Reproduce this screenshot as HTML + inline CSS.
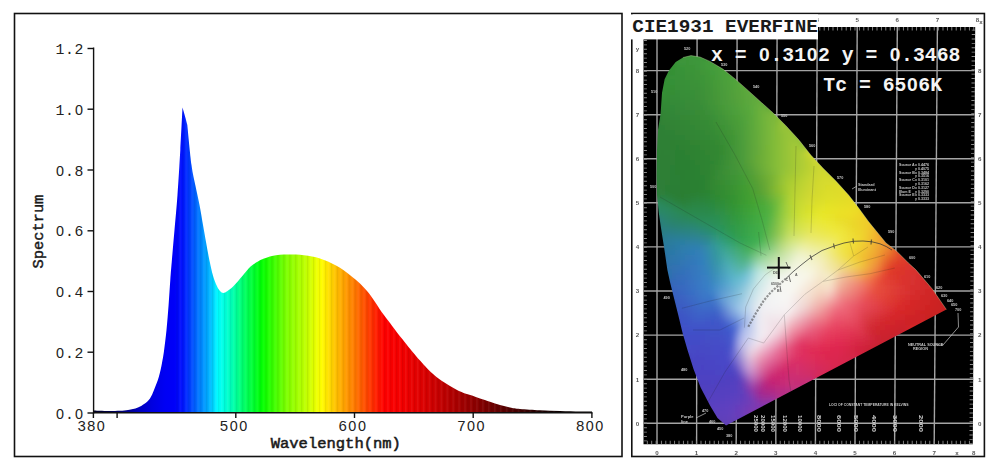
<!DOCTYPE html>
<html><head><meta charset="utf-8"><style>
html,body{margin:0;padding:0;background:#fff;}
body{width:1000px;height:467px;overflow:hidden;}
svg{display:block;}
</style></head><body>
<svg width="1000" height="467" viewBox="0 0 1000 467">

<rect x="14.5" y="13.5" width="607.5" height="443" fill="#fff" stroke="#111" stroke-width="1.6"/>
<defs><linearGradient id="sg" gradientUnits="userSpaceOnUse" x1="93.0" y1="0" x2="592.0" y2="0"><stop offset="0.0000" stop-color="#000020"/><stop offset="0.0341" stop-color="#000048"/><stop offset="0.0641" stop-color="#000080"/><stop offset="0.0942" stop-color="#0000c0"/><stop offset="0.1182" stop-color="#0000e0"/><stop offset="0.1443" stop-color="#0000f4"/><stop offset="0.1623" stop-color="#0000f8"/><stop offset="0.1784" stop-color="#0010ff"/><stop offset="0.1944" stop-color="#0040ff"/><stop offset="0.2144" stop-color="#0080ff"/><stop offset="0.2345" stop-color="#00b8ff"/><stop offset="0.2505" stop-color="#00ffff"/><stop offset="0.2745" stop-color="#00ffc0"/><stop offset="0.3046" stop-color="#00ff60"/><stop offset="0.3387" stop-color="#00ff00"/><stop offset="0.3888" stop-color="#80ff00"/><stop offset="0.4269" stop-color="#c0ff00"/><stop offset="0.4569" stop-color="#ffff00"/><stop offset="0.4870" stop-color="#ffc000"/><stop offset="0.5210" stop-color="#ff8000"/><stop offset="0.5591" stop-color="#ff3000"/><stop offset="0.5832" stop-color="#ff0000"/><stop offset="0.6172" stop-color="#f40000"/><stop offset="0.6553" stop-color="#e00000"/><stop offset="0.6954" stop-color="#c40000"/><stop offset="0.7355" stop-color="#a40000"/><stop offset="0.7756" stop-color="#840000"/><stop offset="0.8156" stop-color="#600000"/><stop offset="0.8557" stop-color="#400000"/><stop offset="0.8958" stop-color="#200000"/><stop offset="0.9359" stop-color="#0c0000"/><stop offset="1.0000" stop-color="#000000"/></linearGradient></defs>
<path d="M93.4,413 L94,410.5 C95.00,410.38 97.33,410.68 100.00,410.80 C102.67,410.92 106.67,411.02 110.00,411.00 C113.33,410.98 117.00,410.88 120.00,410.70 C123.00,410.52 125.83,410.18 128.00,409.90 C130.17,409.62 131.33,409.38 133.00,409.00 C134.67,408.62 136.08,408.47 138.00,407.60 C139.92,406.73 142.50,405.33 144.50,403.80 C146.50,402.27 148.42,400.70 150.00,398.40 C151.58,396.10 152.53,393.57 154.00,390.00 C155.47,386.43 157.47,381.50 158.80,377.00 C160.13,372.50 161.13,367.33 162.00,363.00 C162.87,358.67 163.25,356.50 164.00,351.00 C164.75,345.50 165.73,337.67 166.50,330.00 C167.27,322.33 167.97,313.33 168.60,305.00 C169.23,296.67 169.75,287.50 170.30,280.00 C170.85,272.50 171.20,268.33 171.90,260.00 C172.60,251.67 173.57,240.83 174.50,230.00 C175.43,219.17 176.53,208.33 177.50,195.00 C178.47,181.67 179.47,164.58 180.30,150.00 C181.13,135.42 182.13,114.58 182.50,107.50 C183.00,109.25 184.70,115.08 185.50,118.00 C186.30,120.92 187.00,123.83 187.30,125.00 C188.00,131.67 190.13,154.83 191.50,165.00 C192.87,175.17 194.17,179.33 195.50,186.00 C196.83,192.67 198.25,198.50 199.50,205.00 C200.75,211.50 201.92,218.83 203.00,225.00 C204.08,231.17 205.17,237.33 206.00,242.00 C206.83,246.67 207.37,249.67 208.00,253.00 C208.63,256.33 208.97,258.22 209.80,262.00 C210.63,265.78 211.82,271.70 213.00,275.70 C214.18,279.70 215.73,283.45 216.90,286.00 C218.07,288.55 218.93,289.83 220.00,291.00 C221.07,292.17 222.05,293.00 223.30,293.00 C224.55,293.00 225.78,292.17 227.50,291.00 C229.22,289.83 231.08,288.55 233.60,286.00 C236.12,283.45 239.82,278.92 242.60,275.70 C245.38,272.48 247.73,269.07 250.30,266.70 C252.87,264.33 255.72,262.85 258.00,261.50 C260.28,260.15 261.67,259.52 264.00,258.60 C266.33,257.68 269.33,256.63 272.00,256.00 C274.67,255.37 277.33,255.07 280.00,254.80 C282.67,254.53 285.33,254.43 288.00,254.40 C290.67,254.37 293.33,254.47 296.00,254.60 C298.67,254.73 301.33,254.88 304.00,255.20 C306.67,255.52 309.33,255.97 312.00,256.50 C314.67,257.03 317.33,257.57 320.00,258.40 C322.67,259.23 325.33,260.30 328.00,261.50 C330.67,262.70 333.33,264.10 336.00,265.60 C338.67,267.10 341.33,268.63 344.00,270.50 C346.67,272.37 349.33,274.63 352.00,276.80 C354.67,278.97 357.50,281.13 360.00,283.50 C362.50,285.87 364.83,288.42 367.00,291.00 C369.17,293.58 370.50,295.42 373.00,299.00 C375.50,302.58 379.17,308.50 382.00,312.50 C384.83,316.50 387.50,319.67 390.00,323.00 C392.50,326.33 394.50,329.25 397.00,332.50 C399.50,335.75 402.50,339.38 405.00,342.50 C407.50,345.62 409.50,348.18 412.00,351.20 C414.50,354.22 417.50,357.75 420.00,360.60 C422.50,363.45 424.50,365.77 427.00,368.30 C429.50,370.83 432.50,373.68 435.00,375.80 C437.50,377.92 439.50,379.30 442.00,381.00 C444.50,382.70 447.50,384.50 450.00,386.00 C452.50,387.50 454.50,388.75 457.00,390.00 C459.50,391.25 462.50,392.57 465.00,393.50 C467.50,394.43 469.50,394.75 472.00,395.60 C474.50,396.45 477.00,397.57 480.00,398.60 C483.00,399.63 486.67,400.73 490.00,401.80 C493.33,402.87 496.67,404.05 500.00,405.00 C503.33,405.95 506.67,406.83 510.00,407.50 C513.33,408.17 515.00,408.53 520.00,409.00 C525.00,409.47 533.33,409.97 540.00,410.30 C546.67,410.63 553.33,410.80 560.00,411.00 C566.67,411.20 574.67,411.42 580.00,411.50 C585.33,411.58 590.00,411.50 592.00,411.50 L592,413 Z" fill="url(#sg)"/>
<defs><clipPath id="spc"><path d="M93.4,413 L94,410.5 C95.00,410.38 97.33,410.68 100.00,410.80 C102.67,410.92 106.67,411.02 110.00,411.00 C113.33,410.98 117.00,410.88 120.00,410.70 C123.00,410.52 125.83,410.18 128.00,409.90 C130.17,409.62 131.33,409.38 133.00,409.00 C134.67,408.62 136.08,408.47 138.00,407.60 C139.92,406.73 142.50,405.33 144.50,403.80 C146.50,402.27 148.42,400.70 150.00,398.40 C151.58,396.10 152.53,393.57 154.00,390.00 C155.47,386.43 157.47,381.50 158.80,377.00 C160.13,372.50 161.13,367.33 162.00,363.00 C162.87,358.67 163.25,356.50 164.00,351.00 C164.75,345.50 165.73,337.67 166.50,330.00 C167.27,322.33 167.97,313.33 168.60,305.00 C169.23,296.67 169.75,287.50 170.30,280.00 C170.85,272.50 171.20,268.33 171.90,260.00 C172.60,251.67 173.57,240.83 174.50,230.00 C175.43,219.17 176.53,208.33 177.50,195.00 C178.47,181.67 179.47,164.58 180.30,150.00 C181.13,135.42 182.13,114.58 182.50,107.50 C183.00,109.25 184.70,115.08 185.50,118.00 C186.30,120.92 187.00,123.83 187.30,125.00 C188.00,131.67 190.13,154.83 191.50,165.00 C192.87,175.17 194.17,179.33 195.50,186.00 C196.83,192.67 198.25,198.50 199.50,205.00 C200.75,211.50 201.92,218.83 203.00,225.00 C204.08,231.17 205.17,237.33 206.00,242.00 C206.83,246.67 207.37,249.67 208.00,253.00 C208.63,256.33 208.97,258.22 209.80,262.00 C210.63,265.78 211.82,271.70 213.00,275.70 C214.18,279.70 215.73,283.45 216.90,286.00 C218.07,288.55 218.93,289.83 220.00,291.00 C221.07,292.17 222.05,293.00 223.30,293.00 C224.55,293.00 225.78,292.17 227.50,291.00 C229.22,289.83 231.08,288.55 233.60,286.00 C236.12,283.45 239.82,278.92 242.60,275.70 C245.38,272.48 247.73,269.07 250.30,266.70 C252.87,264.33 255.72,262.85 258.00,261.50 C260.28,260.15 261.67,259.52 264.00,258.60 C266.33,257.68 269.33,256.63 272.00,256.00 C274.67,255.37 277.33,255.07 280.00,254.80 C282.67,254.53 285.33,254.43 288.00,254.40 C290.67,254.37 293.33,254.47 296.00,254.60 C298.67,254.73 301.33,254.88 304.00,255.20 C306.67,255.52 309.33,255.97 312.00,256.50 C314.67,257.03 317.33,257.57 320.00,258.40 C322.67,259.23 325.33,260.30 328.00,261.50 C330.67,262.70 333.33,264.10 336.00,265.60 C338.67,267.10 341.33,268.63 344.00,270.50 C346.67,272.37 349.33,274.63 352.00,276.80 C354.67,278.97 357.50,281.13 360.00,283.50 C362.50,285.87 364.83,288.42 367.00,291.00 C369.17,293.58 370.50,295.42 373.00,299.00 C375.50,302.58 379.17,308.50 382.00,312.50 C384.83,316.50 387.50,319.67 390.00,323.00 C392.50,326.33 394.50,329.25 397.00,332.50 C399.50,335.75 402.50,339.38 405.00,342.50 C407.50,345.62 409.50,348.18 412.00,351.20 C414.50,354.22 417.50,357.75 420.00,360.60 C422.50,363.45 424.50,365.77 427.00,368.30 C429.50,370.83 432.50,373.68 435.00,375.80 C437.50,377.92 439.50,379.30 442.00,381.00 C444.50,382.70 447.50,384.50 450.00,386.00 C452.50,387.50 454.50,388.75 457.00,390.00 C459.50,391.25 462.50,392.57 465.00,393.50 C467.50,394.43 469.50,394.75 472.00,395.60 C474.50,396.45 477.00,397.57 480.00,398.60 C483.00,399.63 486.67,400.73 490.00,401.80 C493.33,402.87 496.67,404.05 500.00,405.00 C503.33,405.95 506.67,406.83 510.00,407.50 C513.33,408.17 515.00,408.53 520.00,409.00 C525.00,409.47 533.33,409.97 540.00,410.30 C546.67,410.63 553.33,410.80 560.00,411.00 C566.67,411.20 574.67,411.42 580.00,411.50 C585.33,411.58 590.00,411.50 592.00,411.50 L592,413 Z"/></clipPath>
<pattern id="band" patternUnits="userSpaceOnUse" x="93.4" y="0" width="5.935" height="10"><rect x="0" y="0" width="1.3" height="10" fill="#000" opacity="0.07"/><rect x="3" y="0" width="1.5" height="10" fill="#fff" opacity="0.06"/></pattern></defs>
<rect x="176" y="100" width="380" height="314" fill="url(#band)" clip-path="url(#spc)"/>
<g stroke="#111" stroke-width="1.4" fill="none">
<line x1="93.6" y1="47.5" x2="93.6" y2="413.5"/>
<line x1="93" y1="412.8" x2="592.5" y2="412.8"/>
<line x1="87.5" y1="413.0" x2="93.6" y2="413.0"/>
<line x1="87.5" y1="352.2" x2="93.6" y2="352.2"/>
<line x1="87.5" y1="291.5" x2="93.6" y2="291.5"/>
<line x1="87.5" y1="230.8" x2="93.6" y2="230.8"/>
<line x1="87.5" y1="170.0" x2="93.6" y2="170.0"/>
<line x1="87.5" y1="109.2" x2="93.6" y2="109.2"/>
<line x1="87.5" y1="48.5" x2="93.6" y2="48.5"/>
<line x1="93.4" y1="412.8" x2="93.4" y2="418"/>
<line x1="117.1" y1="412.8" x2="117.1" y2="418"/>
<line x1="235.8" y1="412.8" x2="235.8" y2="418"/>
<line x1="354.5" y1="412.8" x2="354.5" y2="418"/>
<line x1="473.2" y1="412.8" x2="473.2" y2="418"/>
<line x1="591.9" y1="412.8" x2="591.9" y2="418"/>
</g>
<g font-family="'Liberation Mono','Courier New',monospace" font-size="14.8" fill="#222">
<text y="418.6" text-anchor="middle" ><tspan x="60.00" font-family="'Liberation Sans',Arial,sans-serif" font-size="14.36">0</tspan><tspan x="69.48">.</tspan><tspan x="78.96" font-family="'Liberation Sans',Arial,sans-serif" font-size="14.36">0</tspan></text>
<text y="357.9" text-anchor="middle" ><tspan x="60.00" font-family="'Liberation Sans',Arial,sans-serif" font-size="14.36">0</tspan><tspan x="69.48">.</tspan><tspan x="78.96">2</tspan></text>
<text y="297.1" text-anchor="middle" ><tspan x="60.00" font-family="'Liberation Sans',Arial,sans-serif" font-size="14.36">0</tspan><tspan x="69.48">.</tspan><tspan x="78.96">4</tspan></text>
<text y="236.3" text-anchor="middle" ><tspan x="60.00" font-family="'Liberation Sans',Arial,sans-serif" font-size="14.36">0</tspan><tspan x="69.48">.</tspan><tspan x="78.96">6</tspan></text>
<text y="175.6" text-anchor="middle" ><tspan x="60.00" font-family="'Liberation Sans',Arial,sans-serif" font-size="14.36">0</tspan><tspan x="69.48">.</tspan><tspan x="78.96">8</tspan></text>
<text y="114.8" text-anchor="middle" ><tspan x="60.00">1</tspan><tspan x="69.48">.</tspan><tspan x="78.96" font-family="'Liberation Sans',Arial,sans-serif" font-size="14.36">0</tspan></text>
<text y="54.1" text-anchor="middle" ><tspan x="60.00">1</tspan><tspan x="69.48">.</tspan><tspan x="78.96">2</tspan></text>
<text y="431.0" text-anchor="middle" ><tspan x="81.62">3</tspan><tspan x="91.20">8</tspan><tspan x="100.78" font-family="'Liberation Sans',Arial,sans-serif" font-size="14.36">0</tspan></text>
<text y="431.0" text-anchor="middle" ><tspan x="224.06">5</tspan><tspan x="233.64" font-family="'Liberation Sans',Arial,sans-serif" font-size="14.36">0</tspan><tspan x="243.22" font-family="'Liberation Sans',Arial,sans-serif" font-size="14.36">0</tspan></text>
<text y="431.0" text-anchor="middle" ><tspan x="342.76">6</tspan><tspan x="352.34" font-family="'Liberation Sans',Arial,sans-serif" font-size="14.36">0</tspan><tspan x="361.92" font-family="'Liberation Sans',Arial,sans-serif" font-size="14.36">0</tspan></text>
<text y="431.0" text-anchor="middle" ><tspan x="461.46">7</tspan><tspan x="471.04" font-family="'Liberation Sans',Arial,sans-serif" font-size="14.36">0</tspan><tspan x="480.62" font-family="'Liberation Sans',Arial,sans-serif" font-size="14.36">0</tspan></text>
<text y="431.0" text-anchor="middle" ><tspan x="580.16">8</tspan><tspan x="589.74" font-family="'Liberation Sans',Arial,sans-serif" font-size="14.36">0</tspan><tspan x="599.32" font-family="'Liberation Sans',Arial,sans-serif" font-size="14.36">0</tspan></text>
</g>
<text x="335.8" y="447.5" font-family="'Liberation Mono','Courier New',monospace" font-size="15.5" fill="#1a1a1a" stroke="#1a1a1a" stroke-width="0.55" text-anchor="middle">Wavelength(nm)</text>
<text transform="translate(42.6,231.6) rotate(-90)" font-family="'Liberation Mono','Courier New',monospace" font-size="15.4" fill="#1a1a1a" stroke="#1a1a1a" stroke-width="0.45" text-anchor="middle">Spectrum</text>


<rect x="631.8" y="13.5" width="352.6" height="443" fill="#fff" stroke="#111" stroke-width="1.6"/>
<polygon points="643.5,27.0 975.2,27.0 972.8,444.2 643.5,444.2" fill="#000"/>
<defs>
<clipPath id="hs"><polygon points="726.0,425.5 717.5,418.0 710.0,405.5 700.5,387.3 693.5,369.0 687.5,350.0 682.5,332.7 678.0,314.0 673.6,296.4 670.0,282.0 667.4,270.0 664.0,247.0 661.0,228.0 658.8,212.7 657.0,195.0 656.6,175.0 657.0,150.0 658.0,130.0 660.6,113.5 662.0,93.0 664.6,79.2 668.8,70.7 675.7,62.1 683.0,57.5 691.0,55.6 700.0,57.0 710.0,61.4 722.9,69.1 735.7,79.4 748.6,90.9 761.4,102.5 772.9,112.7 785.7,125.5 798.6,139.6 811.0,155.2 822.9,168.0 835.7,180.8 848.6,195.0 857.6,206.6 868.5,221.5 886.0,243.0 896.5,251.0 908.5,263.0 915.7,269.6 932.4,289.1 946.4,309.5"/></clipPath>
<clipPath id="bk"><polygon points="643.5,27.0 975.2,27.0 972.8,444.2 643.5,444.2"/></clipPath>
<filter id="bl" x="-20%" y="-20%" width="140%" height="140%"><feGaussianBlur stdDeviation="3"/></filter>
<filter id="sb" x="-5%" y="-5%" width="110%" height="110%"><feGaussianBlur stdDeviation="0.35"/></filter>
<filter id="tb" x="-5%" y="-5%" width="110%" height="110%"><feGaussianBlur stdDeviation="0.3"/></filter>
</defs>
<g clip-path="url(#bk)">
<g stroke="#a4a4a4" stroke-width="1.4" filter="url(#sb)">
<line x1="657.0" y1="444.2" x2="657.0" y2="27.0"/>
<line x1="696.6" y1="444.2" x2="697.1" y2="27.0"/>
<line x1="736.2" y1="444.2" x2="737.1" y2="27.0"/>
<line x1="775.8" y1="444.2" x2="777.1" y2="27.0"/>
<line x1="815.4" y1="444.2" x2="817.2" y2="27.0"/>
<line x1="855.0" y1="444.2" x2="857.2" y2="27.0"/>
<line x1="894.6" y1="444.2" x2="897.3" y2="27.0"/>
<line x1="934.2" y1="444.2" x2="937.4" y2="27.0"/>
<line x1="643.5" y1="423.3" x2="974.5" y2="423.3"/>
<line x1="643.5" y1="379.2" x2="974.5" y2="379.2"/>
<line x1="643.5" y1="335.1" x2="974.5" y2="335.1"/>
<line x1="643.5" y1="291.0" x2="974.5" y2="291.0"/>
<line x1="643.5" y1="246.9" x2="974.5" y2="246.9"/>
<line x1="643.5" y1="202.8" x2="974.5" y2="202.8"/>
<line x1="643.5" y1="158.8" x2="974.5" y2="158.8"/>
<line x1="643.5" y1="114.7" x2="974.5" y2="114.7"/>
<line x1="643.5" y1="70.6" x2="974.5" y2="70.6"/>
</g>
<g stroke="#8c8c8c" stroke-width="3.6" stroke-dasharray="0.9 3.5" fill="none"><line x1="645.1" y1="423.75" x2="645.1" y2="27.0"/><line x1="645.1" y1="422.85" x2="645.1" y2="444.2" stroke-dashoffset="0"/><line x1="971.1999999999999" y1="444.2" x2="973.6" y2="27.0"/><line x1="656.55" y1="442.59999999999997" x2="974.5" y2="442.59999999999997"/><line x1="656.55" y1="442.59999999999997" x2="643.5" y2="442.59999999999997"/><line x1="656.55" y1="28.6" x2="974.5" y2="28.6"/><line x1="656.55" y1="28.6" x2="643.5" y2="28.6"/></g>
</g>
<g clip-path="url(#hs)"><g filter="url(#bl)"><path fill="#3c963a" d="M680 50h6v6h-6z"/><path fill="#3c963a" d="M685 50h6v6h-6z"/><path fill="#3c963a" d="M690 50h6v6h-6z"/><path fill="#3c963a" d="M695 50h6v6h-6z"/><path fill="#3c963a" d="M700 50h6v6h-6z"/><path fill="#3c963a" d="M670 55h6v6h-6z"/><path fill="#3c963a" d="M675 55h6v6h-6z"/><path fill="#3c963a" d="M680 55h6v6h-6z"/><path fill="#3c963a" d="M685 55h6v6h-6z"/><path fill="#3c963a" d="M690 55h6v6h-6z"/><path fill="#3c963a" d="M695 55h6v6h-6z"/><path fill="#3c963a" d="M700 55h6v6h-6z"/><path fill="#3c963a" d="M705 55h6v6h-6z"/><path fill="#48a03a" d="M710 55h6v6h-6z"/><path fill="#359036" d="M665 60h6v6h-6z"/><path fill="#359036" d="M670 60h6v6h-6z"/><path fill="#3c963a" d="M675 60h6v6h-6z"/><path fill="#3c963a" d="M680 60h6v6h-6z"/><path fill="#3b9539" d="M685 60h6v6h-6z"/><path fill="#3c953a" d="M690 60h6v6h-6z"/><path fill="#3e973a" d="M695 60h6v6h-6z"/><path fill="#40993a" d="M700 60h6v6h-6z"/><path fill="#429b3a" d="M705 60h6v6h-6z"/><path fill="#48a03a" d="M710 60h6v6h-6z"/><path fill="#48a03a" d="M715 60h6v6h-6z"/><path fill="#48a03a" d="M720 60h6v6h-6z"/><path fill="#359036" d="M665 65h6v6h-6z"/><path fill="#359036" d="M670 65h6v6h-6z"/><path fill="#359036" d="M675 65h6v6h-6z"/><path fill="#399338" d="M680 65h6v6h-6z"/><path fill="#3a9439" d="M685 65h6v6h-6z"/><path fill="#3b9439" d="M690 65h6v6h-6z"/><path fill="#3d963a" d="M695 65h6v6h-6z"/><path fill="#3f983a" d="M700 65h6v6h-6z"/><path fill="#429a3a" d="M705 65h6v6h-6z"/><path fill="#449c3a" d="M710 65h6v6h-6z"/><path fill="#469e3a" d="M715 65h6v6h-6z"/><path fill="#48a03a" d="M720 65h6v6h-6z"/><path fill="#48a03a" d="M725 65h6v6h-6z"/><path fill="#359036" d="M660 70h6v6h-6z"/><path fill="#359036" d="M665 70h6v6h-6z"/><path fill="#359036" d="M670 70h6v6h-6z"/><path fill="#389238" d="M675 70h6v6h-6z"/><path fill="#399238" d="M680 70h6v6h-6z"/><path fill="#3a9339" d="M685 70h6v6h-6z"/><path fill="#3b9339" d="M690 70h6v6h-6z"/><path fill="#3d9439" d="M695 70h6v6h-6z"/><path fill="#3f9639" d="M700 70h6v6h-6z"/><path fill="#419839" d="M705 70h6v6h-6z"/><path fill="#439b3a" d="M710 70h6v6h-6z"/><path fill="#459d3a" d="M715 70h6v6h-6z"/><path fill="#499f3a" d="M720 70h6v6h-6z"/><path fill="#4ca23a" d="M725 70h6v6h-6z"/><path fill="#48a03a" d="M730 70h6v6h-6z"/><path fill="#48a03a" d="M735 70h6v6h-6z"/><path fill="#359036" d="M660 75h6v6h-6z"/><path fill="#359036" d="M665 75h6v6h-6z"/><path fill="#379137" d="M670 75h6v6h-6z"/><path fill="#389137" d="M675 75h6v6h-6z"/><path fill="#399138" d="M680 75h6v6h-6z"/><path fill="#3a9238" d="M685 75h6v6h-6z"/><path fill="#3a9239" d="M690 75h6v6h-6z"/><path fill="#3c9339" d="M695 75h6v6h-6z"/><path fill="#3e9539" d="M700 75h6v6h-6z"/><path fill="#409739" d="M705 75h6v6h-6z"/><path fill="#429939" d="M710 75h6v6h-6z"/><path fill="#459c3a" d="M715 75h6v6h-6z"/><path fill="#499e3a" d="M720 75h6v6h-6z"/><path fill="#4ca13a" d="M725 75h6v6h-6z"/><path fill="#50a33b" d="M730 75h6v6h-6z"/><path fill="#48a03a" d="M735 75h6v6h-6z"/><path fill="#48a03a" d="M740 75h6v6h-6z"/><path fill="#359036" d="M655 80h6v6h-6z"/><path fill="#359036" d="M660 80h6v6h-6z"/><path fill="#359036" d="M665 80h6v6h-6z"/><path fill="#369037" d="M670 80h6v6h-6z"/><path fill="#379037" d="M675 80h6v6h-6z"/><path fill="#389037" d="M680 80h6v6h-6z"/><path fill="#399138" d="M685 80h6v6h-6z"/><path fill="#3a9138" d="M690 80h6v6h-6z"/><path fill="#3b9239" d="M695 80h6v6h-6z"/><path fill="#3d9439" d="M700 80h6v6h-6z"/><path fill="#409639" d="M705 80h6v6h-6z"/><path fill="#429839" d="M710 80h6v6h-6z"/><path fill="#469b39" d="M715 80h6v6h-6z"/><path fill="#499d3a" d="M720 80h6v6h-6z"/><path fill="#4da03a" d="M725 80h6v6h-6z"/><path fill="#50a23b" d="M730 80h6v6h-6z"/><path fill="#54a53b" d="M735 80h6v6h-6z"/><path fill="#60aa3c" d="M740 80h6v6h-6z"/><path fill="#60aa3c" d="M745 80h6v6h-6z"/><path fill="#359036" d="M655 85h6v6h-6z"/><path fill="#359036" d="M660 85h6v6h-6z"/><path fill="#358e36" d="M665 85h6v6h-6z"/><path fill="#368f36" d="M670 85h6v6h-6z"/><path fill="#378f37" d="M675 85h6v6h-6z"/><path fill="#388f37" d="M680 85h6v6h-6z"/><path fill="#399038" d="M685 85h6v6h-6z"/><path fill="#3a9038" d="M690 85h6v6h-6z"/><path fill="#3b9039" d="M695 85h6v6h-6z"/><path fill="#3d9239" d="M700 85h6v6h-6z"/><path fill="#3f9439" d="M705 85h6v6h-6z"/><path fill="#429739" d="M710 85h6v6h-6z"/><path fill="#469a39" d="M715 85h6v6h-6z"/><path fill="#499c3a" d="M720 85h6v6h-6z"/><path fill="#4d9f3a" d="M725 85h6v6h-6z"/><path fill="#50a13b" d="M730 85h6v6h-6z"/><path fill="#54a43b" d="M735 85h6v6h-6z"/><path fill="#57a63b" d="M740 85h6v6h-6z"/><path fill="#60aa3c" d="M745 85h6v6h-6z"/><path fill="#60aa3c" d="M750 85h6v6h-6z"/><path fill="#359036" d="M655 90h6v6h-6z"/><path fill="#359036" d="M660 90h6v6h-6z"/><path fill="#348c36" d="M665 90h6v6h-6z"/><path fill="#358d36" d="M670 90h6v6h-6z"/><path fill="#368e37" d="M675 90h6v6h-6z"/><path fill="#378e37" d="M680 90h6v6h-6z"/><path fill="#388f37" d="M685 90h6v6h-6z"/><path fill="#398f38" d="M690 90h6v6h-6z"/><path fill="#3a8f38" d="M695 90h6v6h-6z"/><path fill="#3c9138" d="M700 90h6v6h-6z"/><path fill="#3f9339" d="M705 90h6v6h-6z"/><path fill="#429639" d="M710 90h6v6h-6z"/><path fill="#469839" d="M715 90h6v6h-6z"/><path fill="#4a9b3a" d="M720 90h6v6h-6z"/><path fill="#4d9e3a" d="M725 90h6v6h-6z"/><path fill="#51a03a" d="M730 90h6v6h-6z"/><path fill="#54a33b" d="M735 90h6v6h-6z"/><path fill="#58a53b" d="M740 90h6v6h-6z"/><path fill="#5ba83c" d="M745 90h6v6h-6z"/><path fill="#60aa3c" d="M750 90h6v6h-6z"/><path fill="#60aa3c" d="M755 90h6v6h-6z"/><path fill="#359036" d="M655 95h6v6h-6z"/><path fill="#359036" d="M660 95h6v6h-6z"/><path fill="#348b36" d="M665 95h6v6h-6z"/><path fill="#358c37" d="M670 95h6v6h-6z"/><path fill="#368c37" d="M675 95h6v6h-6z"/><path fill="#378d37" d="M680 95h6v6h-6z"/><path fill="#388d37" d="M685 95h6v6h-6z"/><path fill="#398e38" d="M690 95h6v6h-6z"/><path fill="#3a8e38" d="M695 95h6v6h-6z"/><path fill="#3c9038" d="M700 95h6v6h-6z"/><path fill="#3f9239" d="M705 95h6v6h-6z"/><path fill="#439539" d="M710 95h6v6h-6z"/><path fill="#469739" d="M715 95h6v6h-6z"/><path fill="#4a9a3a" d="M720 95h6v6h-6z"/><path fill="#4d9d3a" d="M725 95h6v6h-6z"/><path fill="#519f3a" d="M730 95h6v6h-6z"/><path fill="#54a23b" d="M735 95h6v6h-6z"/><path fill="#58a43b" d="M740 95h6v6h-6z"/><path fill="#5ba73c" d="M745 95h6v6h-6z"/><path fill="#5fa93c" d="M750 95h6v6h-6z"/><path fill="#60aa3c" d="M755 95h6v6h-6z"/><path fill="#60aa3c" d="M760 95h6v6h-6z"/><path fill="#359036" d="M655 100h6v6h-6z"/><path fill="#328936" d="M660 100h6v6h-6z"/><path fill="#338936" d="M665 100h6v6h-6z"/><path fill="#348a37" d="M670 100h6v6h-6z"/><path fill="#358b37" d="M675 100h6v6h-6z"/><path fill="#368b37" d="M680 100h6v6h-6z"/><path fill="#378c37" d="M685 100h6v6h-6z"/><path fill="#388c38" d="M690 100h6v6h-6z"/><path fill="#398d38" d="M695 100h6v6h-6z"/><path fill="#3b8f38" d="M700 100h6v6h-6z"/><path fill="#3e9238" d="M705 100h6v6h-6z"/><path fill="#429439" d="M710 100h6v6h-6z"/><path fill="#459739" d="M715 100h6v6h-6z"/><path fill="#489a3a" d="M720 100h6v6h-6z"/><path fill="#4c9c3a" d="M725 100h6v6h-6z"/><path fill="#4f9f3a" d="M730 100h6v6h-6z"/><path fill="#53a13b" d="M735 100h6v6h-6z"/><path fill="#56a43b" d="M740 100h6v6h-6z"/><path fill="#5aa73c" d="M745 100h6v6h-6z"/><path fill="#5da93c" d="M750 100h6v6h-6z"/><path fill="#66ad3c" d="M755 100h6v6h-6z"/><path fill="#60aa3c" d="M760 100h6v6h-6z"/><path fill="#60aa3c" d="M765 100h6v6h-6z"/><path fill="#2e8036" d="M655 105h6v6h-6z"/><path fill="#318736" d="M660 105h6v6h-6z"/><path fill="#328836" d="M665 105h6v6h-6z"/><path fill="#338937" d="M670 105h6v6h-6z"/><path fill="#358937" d="M675 105h6v6h-6z"/><path fill="#368a37" d="M680 105h6v6h-6z"/><path fill="#378a37" d="M685 105h6v6h-6z"/><path fill="#378b37" d="M690 105h6v6h-6z"/><path fill="#388c37" d="M695 105h6v6h-6z"/><path fill="#398d37" d="M700 105h6v6h-6z"/><path fill="#3c9038" d="M705 105h6v6h-6z"/><path fill="#3f9338" d="M710 105h6v6h-6z"/><path fill="#439639" d="M715 105h6v6h-6z"/><path fill="#469939" d="M720 105h6v6h-6z"/><path fill="#4a9c3a" d="M725 105h6v6h-6z"/><path fill="#4d9f3a" d="M730 105h6v6h-6z"/><path fill="#50a23b" d="M735 105h6v6h-6z"/><path fill="#54a43b" d="M740 105h6v6h-6z"/><path fill="#57a73c" d="M745 105h6v6h-6z"/><path fill="#5daa3c" d="M750 105h6v6h-6z"/><path fill="#66ad3c" d="M755 105h6v6h-6z"/><path fill="#6eb13b" d="M760 105h6v6h-6z"/><path fill="#60aa3c" d="M765 105h6v6h-6z"/><path fill="#60aa3c" d="M770 105h6v6h-6z"/><path fill="#7ab83a" d="M775 105h6v6h-6z"/><path fill="#2e8036" d="M655 110h6v6h-6z"/><path fill="#318636" d="M660 110h6v6h-6z"/><path fill="#328636" d="M665 110h6v6h-6z"/><path fill="#338737" d="M670 110h6v6h-6z"/><path fill="#348837" d="M675 110h6v6h-6z"/><path fill="#358837" d="M680 110h6v6h-6z"/><path fill="#368937" d="M685 110h6v6h-6z"/><path fill="#368a37" d="M690 110h6v6h-6z"/><path fill="#378b36" d="M695 110h6v6h-6z"/><path fill="#388c36" d="M700 110h6v6h-6z"/><path fill="#3a8e37" d="M705 110h6v6h-6z"/><path fill="#3d9137" d="M710 110h6v6h-6z"/><path fill="#419438" d="M715 110h6v6h-6z"/><path fill="#449738" d="M720 110h6v6h-6z"/><path fill="#479a39" d="M725 110h6v6h-6z"/><path fill="#4b9d3a" d="M730 110h6v6h-6z"/><path fill="#4ea03a" d="M735 110h6v6h-6z"/><path fill="#52a33b" d="M740 110h6v6h-6z"/><path fill="#55a63b" d="M745 110h6v6h-6z"/><path fill="#5caa3c" d="M750 110h6v6h-6z"/><path fill="#65ae3b" d="M755 110h6v6h-6z"/><path fill="#6eb13b" d="M760 110h6v6h-6z"/><path fill="#76b43a" d="M765 110h6v6h-6z"/><path fill="#7ab83a" d="M770 110h6v6h-6z"/><path fill="#7ab83a" d="M775 110h6v6h-6z"/><path fill="#7ab83a" d="M780 110h6v6h-6z"/><path fill="#2e8036" d="M655 115h6v6h-6z"/><path fill="#308436" d="M660 115h6v6h-6z"/><path fill="#318536" d="M665 115h6v6h-6z"/><path fill="#328537" d="M670 115h6v6h-6z"/><path fill="#338637" d="M675 115h6v6h-6z"/><path fill="#348736" d="M680 115h6v6h-6z"/><path fill="#348836" d="M685 115h6v6h-6z"/><path fill="#358936" d="M690 115h6v6h-6z"/><path fill="#368a36" d="M695 115h6v6h-6z"/><path fill="#378b36" d="M700 115h6v6h-6z"/><path fill="#388c36" d="M705 115h6v6h-6z"/><path fill="#3b8f37" d="M710 115h6v6h-6z"/><path fill="#3e9237" d="M715 115h6v6h-6z"/><path fill="#429538" d="M720 115h6v6h-6z"/><path fill="#459838" d="M725 115h6v6h-6z"/><path fill="#499b39" d="M730 115h6v6h-6z"/><path fill="#4c9e39" d="M735 115h6v6h-6z"/><path fill="#50a13a" d="M740 115h6v6h-6z"/><path fill="#54a53b" d="M745 115h6v6h-6z"/><path fill="#5ca93b" d="M750 115h6v6h-6z"/><path fill="#65ae3b" d="M755 115h6v6h-6z"/><path fill="#6eb23b" d="M760 115h6v6h-6z"/><path fill="#76b53a" d="M765 115h6v6h-6z"/><path fill="#7db739" d="M770 115h6v6h-6z"/><path fill="#7ab83a" d="M775 115h6v6h-6z"/><path fill="#98c438" d="M780 115h6v6h-6z"/><path fill="#98c438" d="M785 115h6v6h-6z"/><path fill="#2e8036" d="M650 120h6v6h-6z"/><path fill="#2e8036" d="M655 120h6v6h-6z"/><path fill="#308336" d="M660 120h6v6h-6z"/><path fill="#318336" d="M665 120h6v6h-6z"/><path fill="#318436" d="M670 120h6v6h-6z"/><path fill="#328536" d="M675 120h6v6h-6z"/><path fill="#338636" d="M680 120h6v6h-6z"/><path fill="#338735" d="M685 120h6v6h-6z"/><path fill="#348835" d="M690 120h6v6h-6z"/><path fill="#358935" d="M695 120h6v6h-6z"/><path fill="#358a35" d="M700 120h6v6h-6z"/><path fill="#368b35" d="M705 120h6v6h-6z"/><path fill="#398d36" d="M710 120h6v6h-6z"/><path fill="#3c9036" d="M715 120h6v6h-6z"/><path fill="#409337" d="M720 120h6v6h-6z"/><path fill="#439637" d="M725 120h6v6h-6z"/><path fill="#479938" d="M730 120h6v6h-6z"/><path fill="#4a9c39" d="M735 120h6v6h-6z"/><path fill="#4ea03a" d="M740 120h6v6h-6z"/><path fill="#54a43c" d="M745 120h6v6h-6z"/><path fill="#5ca93b" d="M750 120h6v6h-6z"/><path fill="#65ad3b" d="M755 120h6v6h-6z"/><path fill="#6db23b" d="M760 120h6v6h-6z"/><path fill="#76b63a" d="M765 120h6v6h-6z"/><path fill="#7eb93a" d="M770 120h6v6h-6z"/><path fill="#80b738" d="M775 120h6v6h-6z"/><path fill="#98c438" d="M780 120h6v6h-6z"/><path fill="#98c438" d="M785 120h6v6h-6z"/><path fill="#2e8036" d="M650 125h6v6h-6z"/><path fill="#2e8036" d="M655 125h6v6h-6z"/><path fill="#2f8136" d="M660 125h6v6h-6z"/><path fill="#308236" d="M665 125h6v6h-6z"/><path fill="#308336" d="M670 125h6v6h-6z"/><path fill="#318435" d="M675 125h6v6h-6z"/><path fill="#328535" d="M680 125h6v6h-6z"/><path fill="#328635" d="M685 125h6v6h-6z"/><path fill="#338735" d="M690 125h6v6h-6z"/><path fill="#348835" d="M695 125h6v6h-6z"/><path fill="#348935" d="M700 125h6v6h-6z"/><path fill="#358a35" d="M705 125h6v6h-6z"/><path fill="#378c35" d="M710 125h6v6h-6z"/><path fill="#3a8f35" d="M715 125h6v6h-6z"/><path fill="#3e9236" d="M720 125h6v6h-6z"/><path fill="#419437" d="M725 125h6v6h-6z"/><path fill="#449737" d="M730 125h6v6h-6z"/><path fill="#489b38" d="M735 125h6v6h-6z"/><path fill="#4e9f3a" d="M740 125h6v6h-6z"/><path fill="#54a33b" d="M745 125h6v6h-6z"/><path fill="#5ca83b" d="M750 125h6v6h-6z"/><path fill="#65ad3b" d="M755 125h6v6h-6z"/><path fill="#6db13a" d="M760 125h6v6h-6z"/><path fill="#76b63a" d="M765 125h6v6h-6z"/><path fill="#7eb93a" d="M770 125h6v6h-6z"/><path fill="#87bd39" d="M775 125h6v6h-6z"/><path fill="#98c438" d="M780 125h6v6h-6z"/><path fill="#98c438" d="M785 125h6v6h-6z"/><path fill="#98c438" d="M790 125h6v6h-6z"/><path fill="#2e8036" d="M650 130h6v6h-6z"/><path fill="#2e8036" d="M655 130h6v6h-6z"/><path fill="#2e8035" d="M660 130h6v6h-6z"/><path fill="#2f8135" d="M665 130h6v6h-6z"/><path fill="#2f8235" d="M670 130h6v6h-6z"/><path fill="#308335" d="M675 130h6v6h-6z"/><path fill="#308434" d="M680 130h6v6h-6z"/><path fill="#318534" d="M685 130h6v6h-6z"/><path fill="#328634" d="M690 130h6v6h-6z"/><path fill="#328734" d="M695 130h6v6h-6z"/><path fill="#338834" d="M700 130h6v6h-6z"/><path fill="#348934" d="M705 130h6v6h-6z"/><path fill="#358a34" d="M710 130h6v6h-6z"/><path fill="#388d35" d="M715 130h6v6h-6z"/><path fill="#3b9035" d="M720 130h6v6h-6z"/><path fill="#3f9336" d="M725 130h6v6h-6z"/><path fill="#429636" d="M730 130h6v6h-6z"/><path fill="#489a38" d="M735 130h6v6h-6z"/><path fill="#4d9e3a" d="M740 130h6v6h-6z"/><path fill="#54a33b" d="M745 130h6v6h-6z"/><path fill="#5da73b" d="M750 130h6v6h-6z"/><path fill="#65ac3a" d="M755 130h6v6h-6z"/><path fill="#6db13a" d="M760 130h6v6h-6z"/><path fill="#76b53a" d="M765 130h6v6h-6z"/><path fill="#7eba3a" d="M770 130h6v6h-6z"/><path fill="#87bd39" d="M775 130h6v6h-6z"/><path fill="#8fc039" d="M780 130h6v6h-6z"/><path fill="#98c438" d="M785 130h6v6h-6z"/><path fill="#98c438" d="M790 130h6v6h-6z"/><path fill="#98c438" d="M795 130h6v6h-6z"/><path fill="#2e8036" d="M650 135h6v6h-6z"/><path fill="#2e8036" d="M655 135h6v6h-6z"/><path fill="#2e8035" d="M660 135h6v6h-6z"/><path fill="#2d8034" d="M665 135h6v6h-6z"/><path fill="#2e8134" d="M670 135h6v6h-6z"/><path fill="#2f8234" d="M675 135h6v6h-6z"/><path fill="#2f8334" d="M680 135h6v6h-6z"/><path fill="#308434" d="M685 135h6v6h-6z"/><path fill="#318534" d="M690 135h6v6h-6z"/><path fill="#318634" d="M695 135h6v6h-6z"/><path fill="#328734" d="M700 135h6v6h-6z"/><path fill="#338834" d="M705 135h6v6h-6z"/><path fill="#348934" d="M710 135h6v6h-6z"/><path fill="#368b34" d="M715 135h6v6h-6z"/><path fill="#398e34" d="M720 135h6v6h-6z"/><path fill="#3d9135" d="M725 135h6v6h-6z"/><path fill="#419536" d="M730 135h6v6h-6z"/><path fill="#479938" d="M735 135h6v6h-6z"/><path fill="#4d9d3a" d="M740 135h6v6h-6z"/><path fill="#54a23b" d="M745 135h6v6h-6z"/><path fill="#5da73a" d="M750 135h6v6h-6z"/><path fill="#65ab3a" d="M755 135h6v6h-6z"/><path fill="#6eb03a" d="M760 135h6v6h-6z"/><path fill="#76b53a" d="M765 135h6v6h-6z"/><path fill="#7eba3a" d="M770 135h6v6h-6z"/><path fill="#87bd39" d="M775 135h6v6h-6z"/><path fill="#8fc038" d="M780 135h6v6h-6z"/><path fill="#97c438" d="M785 135h6v6h-6z"/><path fill="#98c438" d="M790 135h6v6h-6z"/><path fill="#98c438" d="M795 135h6v6h-6z"/><path fill="#98c438" d="M800 135h6v6h-6z"/><path fill="#2e8036" d="M650 140h6v6h-6z"/><path fill="#2e8036" d="M655 140h6v6h-6z"/><path fill="#2e8035" d="M660 140h6v6h-6z"/><path fill="#2d8034" d="M665 140h6v6h-6z"/><path fill="#2d8033" d="M670 140h6v6h-6z"/><path fill="#2d8133" d="M675 140h6v6h-6z"/><path fill="#2e8233" d="M680 140h6v6h-6z"/><path fill="#2f8333" d="M685 140h6v6h-6z"/><path fill="#308433" d="M690 140h6v6h-6z"/><path fill="#308533" d="M695 140h6v6h-6z"/><path fill="#318633" d="M700 140h6v6h-6z"/><path fill="#328733" d="M705 140h6v6h-6z"/><path fill="#338833" d="M710 140h6v6h-6z"/><path fill="#348933" d="M715 140h6v6h-6z"/><path fill="#378c34" d="M720 140h6v6h-6z"/><path fill="#3b9035" d="M725 140h6v6h-6z"/><path fill="#419436" d="M730 140h6v6h-6z"/><path fill="#479838" d="M735 140h6v6h-6z"/><path fill="#4c9d3a" d="M740 140h6v6h-6z"/><path fill="#54a13a" d="M745 140h6v6h-6z"/><path fill="#5da63a" d="M750 140h6v6h-6z"/><path fill="#65ab3a" d="M755 140h6v6h-6z"/><path fill="#6eb03a" d="M760 140h6v6h-6z"/><path fill="#76b53a" d="M765 140h6v6h-6z"/><path fill="#7fba39" d="M770 140h6v6h-6z"/><path fill="#87bd39" d="M775 140h6v6h-6z"/><path fill="#8fc138" d="M780 140h6v6h-6z"/><path fill="#97c438" d="M785 140h6v6h-6z"/><path fill="#a0c737" d="M790 140h6v6h-6z"/><path fill="#98c438" d="M795 140h6v6h-6z"/><path fill="#98c438" d="M800 140h6v6h-6z"/><path fill="#98c438" d="M805 140h6v6h-6z"/><path fill="#2e8036" d="M650 145h6v6h-6z"/><path fill="#2e8036" d="M655 145h6v6h-6z"/><path fill="#2e8036" d="M660 145h6v6h-6z"/><path fill="#2d8035" d="M665 145h6v6h-6z"/><path fill="#2d8033" d="M670 145h6v6h-6z"/><path fill="#2c8032" d="M675 145h6v6h-6z"/><path fill="#2d8132" d="M680 145h6v6h-6z"/><path fill="#2e8232" d="M685 145h6v6h-6z"/><path fill="#2e8332" d="M690 145h6v6h-6z"/><path fill="#2f8432" d="M695 145h6v6h-6z"/><path fill="#308532" d="M700 145h6v6h-6z"/><path fill="#318632" d="M705 145h6v6h-6z"/><path fill="#318732" d="M710 145h6v6h-6z"/><path fill="#328832" d="M715 145h6v6h-6z"/><path fill="#358b33" d="M720 145h6v6h-6z"/><path fill="#3b8f35" d="M725 145h6v6h-6z"/><path fill="#419337" d="M730 145h6v6h-6z"/><path fill="#469839" d="M735 145h6v6h-6z"/><path fill="#4c9c3b" d="M740 145h6v6h-6z"/><path fill="#54a13a" d="M745 145h6v6h-6z"/><path fill="#5da53a" d="M750 145h6v6h-6z"/><path fill="#65aa3a" d="M755 145h6v6h-6z"/><path fill="#6eaf3a" d="M760 145h6v6h-6z"/><path fill="#76b539" d="M765 145h6v6h-6z"/><path fill="#7fba39" d="M770 145h6v6h-6z"/><path fill="#87be39" d="M775 145h6v6h-6z"/><path fill="#8fc138" d="M780 145h6v6h-6z"/><path fill="#98c438" d="M785 145h6v6h-6z"/><path fill="#a0c737" d="M790 145h6v6h-6z"/><path fill="#a8ca36" d="M795 145h6v6h-6z"/><path fill="#98c438" d="M800 145h6v6h-6z"/><path fill="#98c438" d="M805 145h6v6h-6z"/><path fill="#d0d830" d="M810 145h6v6h-6z"/><path fill="#2e8036" d="M650 150h6v6h-6z"/><path fill="#2e8036" d="M655 150h6v6h-6z"/><path fill="#2e7f36" d="M660 150h6v6h-6z"/><path fill="#2d8035" d="M665 150h6v6h-6z"/><path fill="#2d8034" d="M670 150h6v6h-6z"/><path fill="#2c8033" d="M675 150h6v6h-6z"/><path fill="#2c8032" d="M680 150h6v6h-6z"/><path fill="#2d8132" d="M685 150h6v6h-6z"/><path fill="#2e8232" d="M690 150h6v6h-6z"/><path fill="#2e8332" d="M695 150h6v6h-6z"/><path fill="#2f8432" d="M700 150h6v6h-6z"/><path fill="#308532" d="M705 150h6v6h-6z"/><path fill="#318632" d="M710 150h6v6h-6z"/><path fill="#318732" d="M715 150h6v6h-6z"/><path fill="#358a33" d="M720 150h6v6h-6z"/><path fill="#3a8e35" d="M725 150h6v6h-6z"/><path fill="#409337" d="M730 150h6v6h-6z"/><path fill="#469739" d="M735 150h6v6h-6z"/><path fill="#4c9b3a" d="M740 150h6v6h-6z"/><path fill="#54a03a" d="M745 150h6v6h-6z"/><path fill="#5da53a" d="M750 150h6v6h-6z"/><path fill="#65aa3a" d="M755 150h6v6h-6z"/><path fill="#6eaf39" d="M760 150h6v6h-6z"/><path fill="#76b439" d="M765 150h6v6h-6z"/><path fill="#7fb939" d="M770 150h6v6h-6z"/><path fill="#87be39" d="M775 150h6v6h-6z"/><path fill="#90c138" d="M780 150h6v6h-6z"/><path fill="#98c437" d="M785 150h6v6h-6z"/><path fill="#a0c736" d="M790 150h6v6h-6z"/><path fill="#a8ca35" d="M795 150h6v6h-6z"/><path fill="#b0cd34" d="M800 150h6v6h-6z"/><path fill="#d0d830" d="M805 150h6v6h-6z"/><path fill="#d0d830" d="M810 150h6v6h-6z"/><path fill="#d0d830" d="M815 150h6v6h-6z"/><path fill="#2e8036" d="M650 155h6v6h-6z"/><path fill="#2c8032" d="M655 155h6v6h-6z"/><path fill="#2e7f36" d="M660 155h6v6h-6z"/><path fill="#2d7f35" d="M665 155h6v6h-6z"/><path fill="#2d8034" d="M670 155h6v6h-6z"/><path fill="#2c8033" d="M675 155h6v6h-6z"/><path fill="#2c8032" d="M680 155h6v6h-6z"/><path fill="#2c8132" d="M685 155h6v6h-6z"/><path fill="#2d8232" d="M690 155h6v6h-6z"/><path fill="#2e8332" d="M695 155h6v6h-6z"/><path fill="#2e8432" d="M700 155h6v6h-6z"/><path fill="#2f8532" d="M705 155h6v6h-6z"/><path fill="#308632" d="M710 155h6v6h-6z"/><path fill="#328732" d="M715 155h6v6h-6z"/><path fill="#368b34" d="M720 155h6v6h-6z"/><path fill="#3b8f35" d="M725 155h6v6h-6z"/><path fill="#409237" d="M730 155h6v6h-6z"/><path fill="#459639" d="M735 155h6v6h-6z"/><path fill="#4c9b3a" d="M740 155h6v6h-6z"/><path fill="#55a03a" d="M745 155h6v6h-6z"/><path fill="#5da53a" d="M750 155h6v6h-6z"/><path fill="#66aa39" d="M755 155h6v6h-6z"/><path fill="#6eaf39" d="M760 155h6v6h-6z"/><path fill="#76b439" d="M765 155h6v6h-6z"/><path fill="#7fb939" d="M770 155h6v6h-6z"/><path fill="#87be39" d="M775 155h6v6h-6z"/><path fill="#90c138" d="M780 155h6v6h-6z"/><path fill="#98c437" d="M785 155h6v6h-6z"/><path fill="#a0c736" d="M790 155h6v6h-6z"/><path fill="#a8ca35" d="M795 155h6v6h-6z"/><path fill="#b0cd34" d="M800 155h6v6h-6z"/><path fill="#b8d033" d="M805 155h6v6h-6z"/><path fill="#d0d830" d="M810 155h6v6h-6z"/><path fill="#d0d830" d="M815 155h6v6h-6z"/><path fill="#d0d830" d="M820 155h6v6h-6z"/><path fill="#2e7e38" d="M650 160h6v6h-6z"/><path fill="#2e7f37" d="M655 160h6v6h-6z"/><path fill="#2e7f36" d="M660 160h6v6h-6z"/><path fill="#2d7f35" d="M665 160h6v6h-6z"/><path fill="#2d7f34" d="M670 160h6v6h-6z"/><path fill="#2c7f33" d="M675 160h6v6h-6z"/><path fill="#2b8032" d="M680 160h6v6h-6z"/><path fill="#2c8031" d="M685 160h6v6h-6z"/><path fill="#2c8131" d="M690 160h6v6h-6z"/><path fill="#2d8231" d="M695 160h6v6h-6z"/><path fill="#2e8331" d="M700 160h6v6h-6z"/><path fill="#2f8431" d="M705 160h6v6h-6z"/><path fill="#2f8531" d="M710 160h6v6h-6z"/><path fill="#338833" d="M715 160h6v6h-6z"/><path fill="#388c34" d="M720 160h6v6h-6z"/><path fill="#3d8f36" d="M725 160h6v6h-6z"/><path fill="#429338" d="M730 160h6v6h-6z"/><path fill="#469639" d="M735 160h6v6h-6z"/><path fill="#4b9a3a" d="M740 160h6v6h-6z"/><path fill="#549f39" d="M745 160h6v6h-6z"/><path fill="#5da539" d="M750 160h6v6h-6z"/><path fill="#66aa39" d="M755 160h6v6h-6z"/><path fill="#6eaf39" d="M760 160h6v6h-6z"/><path fill="#77b439" d="M765 160h6v6h-6z"/><path fill="#7fb939" d="M770 160h6v6h-6z"/><path fill="#88be38" d="M775 160h6v6h-6z"/><path fill="#90c138" d="M780 160h6v6h-6z"/><path fill="#98c437" d="M785 160h6v6h-6z"/><path fill="#a0c736" d="M790 160h6v6h-6z"/><path fill="#a8ca35" d="M795 160h6v6h-6z"/><path fill="#b0cd34" d="M800 160h6v6h-6z"/><path fill="#b8d033" d="M805 160h6v6h-6z"/><path fill="#c0d232" d="M810 160h6v6h-6z"/><path fill="#d0d830" d="M815 160h6v6h-6z"/><path fill="#d0d830" d="M820 160h6v6h-6z"/><path fill="#2e7e38" d="M650 165h6v6h-6z"/><path fill="#2e7f37" d="M655 165h6v6h-6z"/><path fill="#2e7f36" d="M660 165h6v6h-6z"/><path fill="#2d7f35" d="M665 165h6v6h-6z"/><path fill="#2c7f34" d="M670 165h6v6h-6z"/><path fill="#2c7f33" d="M675 165h6v6h-6z"/><path fill="#2b8032" d="M680 165h6v6h-6z"/><path fill="#2b8031" d="M685 165h6v6h-6z"/><path fill="#2c8131" d="M690 165h6v6h-6z"/><path fill="#2c8231" d="M695 165h6v6h-6z"/><path fill="#2d8331" d="M700 165h6v6h-6z"/><path fill="#2e8431" d="M705 165h6v6h-6z"/><path fill="#308532" d="M710 165h6v6h-6z"/><path fill="#348933" d="M715 165h6v6h-6z"/><path fill="#398d35" d="M720 165h6v6h-6z"/><path fill="#3e9037" d="M725 165h6v6h-6z"/><path fill="#429338" d="M730 165h6v6h-6z"/><path fill="#449638" d="M735 165h6v6h-6z"/><path fill="#489a38" d="M740 165h6v6h-6z"/><path fill="#519d38" d="M745 165h6v6h-6z"/><path fill="#5aa238" d="M750 165h6v6h-6z"/><path fill="#64a838" d="M755 165h6v6h-6z"/><path fill="#6dae38" d="M760 165h6v6h-6z"/><path fill="#76b338" d="M765 165h6v6h-6z"/><path fill="#7fb938" d="M770 165h6v6h-6z"/><path fill="#88be38" d="M775 165h6v6h-6z"/><path fill="#90c138" d="M780 165h6v6h-6z"/><path fill="#98c437" d="M785 165h6v6h-6z"/><path fill="#a0c736" d="M790 165h6v6h-6z"/><path fill="#a8ca35" d="M795 165h6v6h-6z"/><path fill="#b0cd34" d="M800 165h6v6h-6z"/><path fill="#b8d033" d="M805 165h6v6h-6z"/><path fill="#c1d332" d="M810 165h6v6h-6z"/><path fill="#c9d531" d="M815 165h6v6h-6z"/><path fill="#d0d830" d="M820 165h6v6h-6z"/><path fill="#d0d830" d="M825 165h6v6h-6z"/><path fill="#2e7e38" d="M650 170h6v6h-6z"/><path fill="#2e7f37" d="M655 170h6v6h-6z"/><path fill="#2e7f36" d="M660 170h6v6h-6z"/><path fill="#2d7f35" d="M665 170h6v6h-6z"/><path fill="#2c7f34" d="M670 170h6v6h-6z"/><path fill="#2b7f33" d="M675 170h6v6h-6z"/><path fill="#2b7f32" d="M680 170h6v6h-6z"/><path fill="#2b8032" d="M685 170h6v6h-6z"/><path fill="#2b8031" d="M690 170h6v6h-6z"/><path fill="#2c8131" d="M695 170h6v6h-6z"/><path fill="#2d8231" d="M700 170h6v6h-6z"/><path fill="#2d8331" d="M705 170h6v6h-6z"/><path fill="#318632" d="M710 170h6v6h-6z"/><path fill="#368a34" d="M715 170h6v6h-6z"/><path fill="#3b8d36" d="M720 170h6v6h-6z"/><path fill="#3d9036" d="M725 170h6v6h-6z"/><path fill="#3f9337" d="M730 170h6v6h-6z"/><path fill="#429637" d="M735 170h6v6h-6z"/><path fill="#459a37" d="M740 170h6v6h-6z"/><path fill="#4d9b37" d="M745 170h6v6h-6z"/><path fill="#56a038" d="M750 170h6v6h-6z"/><path fill="#60a638" d="M755 170h6v6h-6z"/><path fill="#69ab38" d="M760 170h6v6h-6z"/><path fill="#73b137" d="M765 170h6v6h-6z"/><path fill="#7cb638" d="M770 170h6v6h-6z"/><path fill="#86bc38" d="M775 170h6v6h-6z"/><path fill="#93c337" d="M780 170h6v6h-6z"/><path fill="#9bc636" d="M785 170h6v6h-6z"/><path fill="#a3c835" d="M790 170h6v6h-6z"/><path fill="#abcb34" d="M795 170h6v6h-6z"/><path fill="#b3ce33" d="M800 170h6v6h-6z"/><path fill="#bbd132" d="M805 170h6v6h-6z"/><path fill="#c3d431" d="M810 170h6v6h-6z"/><path fill="#cbd730" d="M815 170h6v6h-6z"/><path fill="#d1d92f" d="M820 170h6v6h-6z"/><path fill="#d0d830" d="M825 170h6v6h-6z"/><path fill="#d0d830" d="M830 170h6v6h-6z"/><path fill="#2e7e38" d="M650 175h6v6h-6z"/><path fill="#2e7e38" d="M655 175h6v6h-6z"/><path fill="#2e7f36" d="M660 175h6v6h-6z"/><path fill="#2d7f35" d="M665 175h6v6h-6z"/><path fill="#2c7f35" d="M670 175h6v6h-6z"/><path fill="#2b7f34" d="M675 175h6v6h-6z"/><path fill="#2b7f33" d="M680 175h6v6h-6z"/><path fill="#2b8032" d="M685 175h6v6h-6z"/><path fill="#2b8031" d="M690 175h6v6h-6z"/><path fill="#2b8131" d="M695 175h6v6h-6z"/><path fill="#2c8231" d="M700 175h6v6h-6z"/><path fill="#2e8331" d="M705 175h6v6h-6z"/><path fill="#328733" d="M710 175h6v6h-6z"/><path fill="#378a34" d="M715 175h6v6h-6z"/><path fill="#398d35" d="M720 175h6v6h-6z"/><path fill="#3b9035" d="M725 175h6v6h-6z"/><path fill="#3d9335" d="M730 175h6v6h-6z"/><path fill="#409636" d="M735 175h6v6h-6z"/><path fill="#439a36" d="M740 175h6v6h-6z"/><path fill="#4a9c36" d="M745 175h6v6h-6z"/><path fill="#539e36" d="M750 175h6v6h-6z"/><path fill="#5ca336" d="M755 175h6v6h-6z"/><path fill="#66a936" d="M760 175h6v6h-6z"/><path fill="#6fae36" d="M765 175h6v6h-6z"/><path fill="#78b436" d="M770 175h6v6h-6z"/><path fill="#87bc36" d="M775 175h6v6h-6z"/><path fill="#96c435" d="M780 175h6v6h-6z"/><path fill="#a0c834" d="M785 175h6v6h-6z"/><path fill="#a8cb33" d="M790 175h6v6h-6z"/><path fill="#b0ce32" d="M795 175h6v6h-6z"/><path fill="#b8d131" d="M800 175h6v6h-6z"/><path fill="#c0d430" d="M805 175h6v6h-6z"/><path fill="#c8d630" d="M810 175h6v6h-6z"/><path fill="#cfd830" d="M815 175h6v6h-6z"/><path fill="#d3d92f" d="M820 175h6v6h-6z"/><path fill="#d5d92e" d="M825 175h6v6h-6z"/><path fill="#d0d830" d="M830 175h6v6h-6z"/><path fill="#d0d830" d="M835 175h6v6h-6z"/><path fill="#2e7e38" d="M650 180h6v6h-6z"/><path fill="#2e7e38" d="M655 180h6v6h-6z"/><path fill="#2d7e37" d="M660 180h6v6h-6z"/><path fill="#2d7e36" d="M665 180h6v6h-6z"/><path fill="#2c7f35" d="M670 180h6v6h-6z"/><path fill="#2b7f34" d="M675 180h6v6h-6z"/><path fill="#2b7f33" d="M680 180h6v6h-6z"/><path fill="#2b7f32" d="M685 180h6v6h-6z"/><path fill="#2a8031" d="M690 180h6v6h-6z"/><path fill="#2b8030" d="M695 180h6v6h-6z"/><path fill="#2b8130" d="M700 180h6v6h-6z"/><path fill="#2f8432" d="M705 180h6v6h-6z"/><path fill="#338733" d="M710 180h6v6h-6z"/><path fill="#358a33" d="M715 180h6v6h-6z"/><path fill="#378d33" d="M720 180h6v6h-6z"/><path fill="#399034" d="M725 180h6v6h-6z"/><path fill="#3b9234" d="M730 180h6v6h-6z"/><path fill="#3e9634" d="M735 180h6v6h-6z"/><path fill="#419a34" d="M740 180h6v6h-6z"/><path fill="#479d35" d="M745 180h6v6h-6z"/><path fill="#509e35" d="M750 180h6v6h-6z"/><path fill="#59a135" d="M755 180h6v6h-6z"/><path fill="#62a636" d="M760 180h6v6h-6z"/><path fill="#6cac36" d="M765 180h6v6h-6z"/><path fill="#7ab435" d="M770 180h6v6h-6z"/><path fill="#89bc34" d="M775 180h6v6h-6z"/><path fill="#98c434" d="M780 180h6v6h-6z"/><path fill="#a5cb33" d="M785 180h6v6h-6z"/><path fill="#adce32" d="M790 180h6v6h-6z"/><path fill="#b5d031" d="M795 180h6v6h-6z"/><path fill="#bdd330" d="M800 180h6v6h-6z"/><path fill="#c4d530" d="M805 180h6v6h-6z"/><path fill="#cbd730" d="M810 180h6v6h-6z"/><path fill="#d1d92f" d="M815 180h6v6h-6z"/><path fill="#d5da2e" d="M820 180h6v6h-6z"/><path fill="#d7db2d" d="M825 180h6v6h-6z"/><path fill="#d8da2d" d="M830 180h6v6h-6z"/><path fill="#e0e028" d="M835 180h6v6h-6z"/><path fill="#e0e028" d="M840 180h6v6h-6z"/><path fill="#2e7e38" d="M650 185h6v6h-6z"/><path fill="#2e7e38" d="M655 185h6v6h-6z"/><path fill="#2d7e37" d="M660 185h6v6h-6z"/><path fill="#2c7e36" d="M665 185h6v6h-6z"/><path fill="#2c7e35" d="M670 185h6v6h-6z"/><path fill="#2b7e34" d="M675 185h6v6h-6z"/><path fill="#2a7f33" d="M680 185h6v6h-6z"/><path fill="#2a7f32" d="M685 185h6v6h-6z"/><path fill="#2a8031" d="M690 185h6v6h-6z"/><path fill="#2a8030" d="M695 185h6v6h-6z"/><path fill="#2c8131" d="M700 185h6v6h-6z"/><path fill="#2e8431" d="M705 185h6v6h-6z"/><path fill="#308732" d="M710 185h6v6h-6z"/><path fill="#328a32" d="M715 185h6v6h-6z"/><path fill="#348d32" d="M720 185h6v6h-6z"/><path fill="#378f33" d="M725 185h6v6h-6z"/><path fill="#399233" d="M730 185h6v6h-6z"/><path fill="#3c9633" d="M735 185h6v6h-6z"/><path fill="#3f9a33" d="M740 185h6v6h-6z"/><path fill="#449e33" d="M745 185h6v6h-6z"/><path fill="#4c9e34" d="M750 185h6v6h-6z"/><path fill="#559f34" d="M755 185h6v6h-6z"/><path fill="#5ea434" d="M760 185h6v6h-6z"/><path fill="#6dac34" d="M765 185h6v6h-6z"/><path fill="#7cb433" d="M770 185h6v6h-6z"/><path fill="#8abc32" d="M775 185h6v6h-6z"/><path fill="#99c432" d="M780 185h6v6h-6z"/><path fill="#a8cc31" d="M785 185h6v6h-6z"/><path fill="#b2d030" d="M790 185h6v6h-6z"/><path fill="#b9d230" d="M795 185h6v6h-6z"/><path fill="#c0d430" d="M800 185h6v6h-6z"/><path fill="#c7d630" d="M805 185h6v6h-6z"/><path fill="#ced830" d="M810 185h6v6h-6z"/><path fill="#d3d92f" d="M815 185h6v6h-6z"/><path fill="#d6db2d" d="M820 185h6v6h-6z"/><path fill="#dadc2b" d="M825 185h6v6h-6z"/><path fill="#dbdb2c" d="M830 185h6v6h-6z"/><path fill="#dcda2c" d="M835 185h6v6h-6z"/><path fill="#e0e028" d="M840 185h6v6h-6z"/><path fill="#e8dc28" d="M845 185h6v6h-6z"/><path fill="#2e7e38" d="M650 190h6v6h-6z"/><path fill="#2d803f" d="M655 190h6v6h-6z"/><path fill="#2d7e37" d="M660 190h6v6h-6z"/><path fill="#2c7e36" d="M665 190h6v6h-6z"/><path fill="#2b7e35" d="M670 190h6v6h-6z"/><path fill="#2b7e34" d="M675 190h6v6h-6z"/><path fill="#2a7e33" d="M680 190h6v6h-6z"/><path fill="#2a7f32" d="M685 190h6v6h-6z"/><path fill="#2a7f31" d="M690 190h6v6h-6z"/><path fill="#2a8032" d="M695 190h6v6h-6z"/><path fill="#2a8232" d="M700 190h6v6h-6z"/><path fill="#2c8430" d="M705 190h6v6h-6z"/><path fill="#2e8730" d="M710 190h6v6h-6z"/><path fill="#308a31" d="M715 190h6v6h-6z"/><path fill="#328c31" d="M720 190h6v6h-6z"/><path fill="#348f32" d="M725 190h6v6h-6z"/><path fill="#379232" d="M730 190h6v6h-6z"/><path fill="#3a9632" d="M735 190h6v6h-6z"/><path fill="#3e9a32" d="M740 190h6v6h-6z"/><path fill="#419e32" d="M745 190h6v6h-6z"/><path fill="#499f32" d="M750 190h6v6h-6z"/><path fill="#52a033" d="M755 190h6v6h-6z"/><path fill="#5ba435" d="M760 190h6v6h-6z"/><path fill="#69ac35" d="M765 190h6v6h-6z"/><path fill="#78b434" d="M770 190h6v6h-6z"/><path fill="#87bc33" d="M775 190h6v6h-6z"/><path fill="#95c433" d="M780 190h6v6h-6z"/><path fill="#a4cc32" d="M785 190h6v6h-6z"/><path fill="#b5d230" d="M790 190h6v6h-6z"/><path fill="#bcd330" d="M795 190h6v6h-6z"/><path fill="#c4d530" d="M800 190h6v6h-6z"/><path fill="#cbd730" d="M805 190h6v6h-6z"/><path fill="#d1d830" d="M810 190h6v6h-6z"/><path fill="#d4da2e" d="M815 190h6v6h-6z"/><path fill="#d8dc2c" d="M820 190h6v6h-6z"/><path fill="#dcde2a" d="M825 190h6v6h-6z"/><path fill="#dddd2a" d="M830 190h6v6h-6z"/><path fill="#dedc2a" d="M835 190h6v6h-6z"/><path fill="#dfdb2b" d="M840 190h6v6h-6z"/><path fill="#e8dc28" d="M845 190h6v6h-6z"/><path fill="#e8dc28" d="M850 190h6v6h-6z"/><path fill="#2e7e38" d="M650 195h6v6h-6z"/><path fill="#2e7e38" d="M655 195h6v6h-6z"/><path fill="#2c8246" d="M660 195h6v6h-6z"/><path fill="#2b813f" d="M665 195h6v6h-6z"/><path fill="#2b7f38" d="M670 195h6v6h-6z"/><path fill="#2a7e34" d="M675 195h6v6h-6z"/><path fill="#2a7e33" d="M680 195h6v6h-6z"/><path fill="#2a7f34" d="M685 195h6v6h-6z"/><path fill="#2a8137" d="M690 195h6v6h-6z"/><path fill="#2a833a" d="M695 195h6v6h-6z"/><path fill="#2a8339" d="M700 195h6v6h-6z"/><path fill="#2b8537" d="M705 195h6v6h-6z"/><path fill="#2d8835" d="M710 195h6v6h-6z"/><path fill="#2e8a32" d="M715 195h6v6h-6z"/><path fill="#308c30" d="M720 195h6v6h-6z"/><path fill="#328f30" d="M725 195h6v6h-6z"/><path fill="#359231" d="M730 195h6v6h-6z"/><path fill="#389631" d="M735 195h6v6h-6z"/><path fill="#3c9a31" d="M740 195h6v6h-6z"/><path fill="#3f9e31" d="M745 195h6v6h-6z"/><path fill="#46a031" d="M750 195h6v6h-6z"/><path fill="#4da334" d="M755 195h6v6h-6z"/><path fill="#53a538" d="M760 195h6v6h-6z"/><path fill="#60ac38" d="M765 195h6v6h-6z"/><path fill="#6fb437" d="M770 195h6v6h-6z"/><path fill="#7dbc37" d="M775 195h6v6h-6z"/><path fill="#8cc436" d="M780 195h6v6h-6z"/><path fill="#a6ce35" d="M785 195h6v6h-6z"/><path fill="#b8d431" d="M790 195h6v6h-6z"/><path fill="#c0d630" d="M795 195h6v6h-6z"/><path fill="#c7d730" d="M800 195h6v6h-6z"/><path fill="#ced930" d="M805 195h6v6h-6z"/><path fill="#d4da2f" d="M810 195h6v6h-6z"/><path fill="#d7db2d" d="M815 195h6v6h-6z"/><path fill="#dadd2b" d="M820 195h6v6h-6z"/><path fill="#dddf29" d="M825 195h6v6h-6z"/><path fill="#dfdf29" d="M830 195h6v6h-6z"/><path fill="#e0de29" d="M835 195h6v6h-6z"/><path fill="#e1dd29" d="M840 195h6v6h-6z"/><path fill="#e2dc2a" d="M845 195h6v6h-6z"/><path fill="#e8dc28" d="M850 195h6v6h-6z"/><path fill="#e8dc28" d="M855 195h6v6h-6z"/><path fill="#2a8a60" d="M650 200h6v6h-6z"/><path fill="#2a8a60" d="M655 200h6v6h-6z"/><path fill="#2a8755" d="M660 200h6v6h-6z"/><path fill="#2a854e" d="M665 200h6v6h-6z"/><path fill="#2a8346" d="M670 200h6v6h-6z"/><path fill="#2a813f" d="M675 200h6v6h-6z"/><path fill="#2a8039" d="M680 200h6v6h-6z"/><path fill="#2a823c" d="M685 200h6v6h-6z"/><path fill="#2a843f" d="M690 200h6v6h-6z"/><path fill="#2a8540" d="M695 200h6v6h-6z"/><path fill="#2a8540" d="M700 200h6v6h-6z"/><path fill="#2b873e" d="M705 200h6v6h-6z"/><path fill="#2c893c" d="M710 200h6v6h-6z"/><path fill="#2e8b3a" d="M715 200h6v6h-6z"/><path fill="#2f8d37" d="M720 200h6v6h-6z"/><path fill="#319035" d="M725 200h6v6h-6z"/><path fill="#339232" d="M730 200h6v6h-6z"/><path fill="#379632" d="M735 200h6v6h-6z"/><path fill="#3a9a32" d="M740 200h6v6h-6z"/><path fill="#3e9e32" d="M745 200h6v6h-6z"/><path fill="#42a233" d="M750 200h6v6h-6z"/><path fill="#47a536" d="M755 200h6v6h-6z"/><path fill="#4ea839" d="M760 200h6v6h-6z"/><path fill="#57ac3b" d="M765 200h6v6h-6z"/><path fill="#65b43b" d="M770 200h6v6h-6z"/><path fill="#74bc3a" d="M775 200h6v6h-6z"/><path fill="#8ec639" d="M780 200h6v6h-6z"/><path fill="#a8d038" d="M785 200h6v6h-6z"/><path fill="#b8d533" d="M790 200h6v6h-6z"/><path fill="#c4d930" d="M795 200h6v6h-6z"/><path fill="#cbda30" d="M800 200h6v6h-6z"/><path fill="#d2dc30" d="M805 200h6v6h-6z"/><path fill="#d8de2e" d="M810 200h6v6h-6z"/><path fill="#dbdf2c" d="M815 200h6v6h-6z"/><path fill="#dee02a" d="M820 200h6v6h-6z"/><path fill="#e1e128" d="M825 200h6v6h-6z"/><path fill="#e2e028" d="M830 200h6v6h-6z"/><path fill="#e3df28" d="M835 200h6v6h-6z"/><path fill="#e4de28" d="M840 200h6v6h-6z"/><path fill="#e5dd28" d="M845 200h6v6h-6z"/><path fill="#e6dc28" d="M850 200h6v6h-6z"/><path fill="#e8dc28" d="M855 200h6v6h-6z"/><path fill="#e8dc28" d="M860 200h6v6h-6z"/><path fill="#2a8a60" d="M650 205h6v6h-6z"/><path fill="#2a8a60" d="M655 205h6v6h-6z"/><path fill="#2a8961" d="M660 205h6v6h-6z"/><path fill="#2a8a5c" d="M665 205h6v6h-6z"/><path fill="#2a8855" d="M670 205h6v6h-6z"/><path fill="#2a874d" d="M675 205h6v6h-6z"/><path fill="#2a8546" d="M680 205h6v6h-6z"/><path fill="#2a8543" d="M685 205h6v6h-6z"/><path fill="#2a8746" d="M690 205h6v6h-6z"/><path fill="#2a8746" d="M695 205h6v6h-6z"/><path fill="#2a8746" d="M700 205h6v6h-6z"/><path fill="#2a8846" d="M705 205h6v6h-6z"/><path fill="#2c8a43" d="M710 205h6v6h-6z"/><path fill="#2d8c41" d="M715 205h6v6h-6z"/><path fill="#2f8f3e" d="M720 205h6v6h-6z"/><path fill="#30913b" d="M725 205h6v6h-6z"/><path fill="#329436" d="M730 205h6v6h-6z"/><path fill="#369836" d="M735 205h6v6h-6z"/><path fill="#399c36" d="M740 205h6v6h-6z"/><path fill="#3da036" d="M745 205h6v6h-6z"/><path fill="#41a336" d="M750 205h6v6h-6z"/><path fill="#45a739" d="M755 205h6v6h-6z"/><path fill="#4aaa3b" d="M760 205h6v6h-6z"/><path fill="#4fad3e" d="M765 205h6v6h-6z"/><path fill="#5cb43e" d="M770 205h6v6h-6z"/><path fill="#76be3d" d="M775 205h6v6h-6z"/><path fill="#90c83c" d="M780 205h6v6h-6z"/><path fill="#a8d13a" d="M785 205h6v6h-6z"/><path fill="#b8d635" d="M790 205h6v6h-6z"/><path fill="#c7db30" d="M795 205h6v6h-6z"/><path fill="#cedd30" d="M800 205h6v6h-6z"/><path fill="#d4de2e" d="M805 205h6v6h-6z"/><path fill="#dae02c" d="M810 205h6v6h-6z"/><path fill="#e0e22b" d="M815 205h6v6h-6z"/><path fill="#e3e329" d="M820 205h6v6h-6z"/><path fill="#e5e328" d="M825 205h6v6h-6z"/><path fill="#e6e228" d="M830 205h6v6h-6z"/><path fill="#e7e128" d="M835 205h6v6h-6z"/><path fill="#e8e028" d="M840 205h6v6h-6z"/><path fill="#e9df28" d="M845 205h6v6h-6z"/><path fill="#eade28" d="M850 205h6v6h-6z"/><path fill="#eadb28" d="M855 205h6v6h-6z"/><path fill="#e8dc28" d="M860 205h6v6h-6z"/><path fill="#2a8a60" d="M650 210h6v6h-6z"/><path fill="#2a8a60" d="M655 210h6v6h-6z"/><path fill="#2a8668" d="M660 210h6v6h-6z"/><path fill="#2a8763" d="M665 210h6v6h-6z"/><path fill="#2a885e" d="M670 210h6v6h-6z"/><path fill="#2a8959" d="M675 210h6v6h-6z"/><path fill="#2a8a54" d="M680 210h6v6h-6z"/><path fill="#2a884d" d="M685 210h6v6h-6z"/><path fill="#2a894d" d="M690 210h6v6h-6z"/><path fill="#2a894d" d="M695 210h6v6h-6z"/><path fill="#2a894d" d="M700 210h6v6h-6z"/><path fill="#2a894c" d="M705 210h6v6h-6z"/><path fill="#2b8b4a" d="M710 210h6v6h-6z"/><path fill="#2d8e48" d="M715 210h6v6h-6z"/><path fill="#2e9046" d="M720 210h6v6h-6z"/><path fill="#309240" d="M725 210h6v6h-6z"/><path fill="#31953b" d="M730 210h6v6h-6z"/><path fill="#34983a" d="M735 210h6v6h-6z"/><path fill="#389c3a" d="M740 210h6v6h-6z"/><path fill="#3ca03a" d="M745 210h6v6h-6z"/><path fill="#40a43a" d="M750 210h6v6h-6z"/><path fill="#44a83c" d="M755 210h6v6h-6z"/><path fill="#49ab3e" d="M760 210h6v6h-6z"/><path fill="#4daf41" d="M765 210h6v6h-6z"/><path fill="#5fb641" d="M770 210h6v6h-6z"/><path fill="#78c040" d="M775 210h6v6h-6z"/><path fill="#92ca3f" d="M780 210h6v6h-6z"/><path fill="#a8d23c" d="M785 210h6v6h-6z"/><path fill="#b8d737" d="M790 210h6v6h-6z"/><path fill="#c8dd32" d="M795 210h6v6h-6z"/><path fill="#d2e030" d="M800 210h6v6h-6z"/><path fill="#d8e22e" d="M805 210h6v6h-6z"/><path fill="#dee42c" d="M810 210h6v6h-6z"/><path fill="#e4e62a" d="M815 210h6v6h-6z"/><path fill="#e7e628" d="M820 210h6v6h-6z"/><path fill="#e8e528" d="M825 210h6v6h-6z"/><path fill="#eae428" d="M830 210h6v6h-6z"/><path fill="#ebe228" d="M835 210h6v6h-6z"/><path fill="#ece128" d="M840 210h6v6h-6z"/><path fill="#ede028" d="M845 210h6v6h-6z"/><path fill="#eede28" d="M850 210h6v6h-6z"/><path fill="#edd928" d="M855 210h6v6h-6z"/><path fill="#ecd428" d="M860 210h6v6h-6z"/><path fill="#f0c828" d="M865 210h6v6h-6z"/><path fill="#2a7e80" d="M650 215h6v6h-6z"/><path fill="#2a7e80" d="M655 215h6v6h-6z"/><path fill="#2a846f" d="M660 215h6v6h-6z"/><path fill="#2a856a" d="M665 215h6v6h-6z"/><path fill="#2a8665" d="M670 215h6v6h-6z"/><path fill="#2a8660" d="M675 215h6v6h-6z"/><path fill="#2a875b" d="M680 215h6v6h-6z"/><path fill="#2a8858" d="M685 215h6v6h-6z"/><path fill="#2a8a55" d="M690 215h6v6h-6z"/><path fill="#2a8b53" d="M695 215h6v6h-6z"/><path fill="#2a8b53" d="M700 215h6v6h-6z"/><path fill="#2a8c53" d="M705 215h6v6h-6z"/><path fill="#2b8d52" d="M710 215h6v6h-6z"/><path fill="#2c8f4f" d="M715 215h6v6h-6z"/><path fill="#2e914b" d="M720 215h6v6h-6z"/><path fill="#2f9446" d="M725 215h6v6h-6z"/><path fill="#319640" d="M730 215h6v6h-6z"/><path fill="#339a3e" d="M735 215h6v6h-6z"/><path fill="#379e3e" d="M740 215h6v6h-6z"/><path fill="#3aa23e" d="M745 215h6v6h-6z"/><path fill="#3ea63e" d="M750 215h6v6h-6z"/><path fill="#43a93f" d="M755 215h6v6h-6z"/><path fill="#47ad42" d="M760 215h6v6h-6z"/><path fill="#4cb044" d="M765 215h6v6h-6z"/><path fill="#63b745" d="M770 215h6v6h-6z"/><path fill="#7dc143" d="M775 215h6v6h-6z"/><path fill="#96cb42" d="M780 215h6v6h-6z"/><path fill="#abd442" d="M785 215h6v6h-6z"/><path fill="#bbd93d" d="M790 215h6v6h-6z"/><path fill="#cbdf37" d="M795 215h6v6h-6z"/><path fill="#d4e236" d="M800 215h6v6h-6z"/><path fill="#dae434" d="M805 215h6v6h-6z"/><path fill="#e0e632" d="M810 215h6v6h-6z"/><path fill="#e6e830" d="M815 215h6v6h-6z"/><path fill="#e9e82b" d="M820 215h6v6h-6z"/><path fill="#e9e52a" d="M825 215h6v6h-6z"/><path fill="#e8e229" d="M830 215h6v6h-6z"/><path fill="#e9df28" d="M835 215h6v6h-6z"/><path fill="#eade28" d="M840 215h6v6h-6z"/><path fill="#ebdd28" d="M845 215h6v6h-6z"/><path fill="#edda28" d="M850 215h6v6h-6z"/><path fill="#efd628" d="M855 215h6v6h-6z"/><path fill="#f0d228" d="M860 215h6v6h-6z"/><path fill="#efcd28" d="M865 215h6v6h-6z"/><path fill="#f0c828" d="M870 215h6v6h-6z"/><path fill="#2a7e80" d="M655 220h6v6h-6z"/><path fill="#2a8177" d="M660 220h6v6h-6z"/><path fill="#2a8272" d="M665 220h6v6h-6z"/><path fill="#2a836c" d="M670 220h6v6h-6z"/><path fill="#2a846a" d="M675 220h6v6h-6z"/><path fill="#2a8567" d="M680 220h6v6h-6z"/><path fill="#2b8767" d="M685 220h6v6h-6z"/><path fill="#2b8866" d="M690 220h6v6h-6z"/><path fill="#2b8a60" d="M695 220h6v6h-6z"/><path fill="#2a8d5b" d="M700 220h6v6h-6z"/><path fill="#2a8e59" d="M705 220h6v6h-6z"/><path fill="#2a8e59" d="M710 220h6v6h-6z"/><path fill="#2c9056" d="M715 220h6v6h-6z"/><path fill="#2d9351" d="M720 220h6v6h-6z"/><path fill="#2f954b" d="M725 220h6v6h-6z"/><path fill="#309745" d="M730 220h6v6h-6z"/><path fill="#329a42" d="M735 220h6v6h-6z"/><path fill="#369e42" d="M740 220h6v6h-6z"/><path fill="#3aa242" d="M745 220h6v6h-6z"/><path fill="#3ea642" d="M750 220h6v6h-6z"/><path fill="#42aa43" d="M755 220h6v6h-6z"/><path fill="#46ae45" d="M760 220h6v6h-6z"/><path fill="#51b247" d="M765 220h6v6h-6z"/><path fill="#68b848" d="M770 220h6v6h-6z"/><path fill="#81c247" d="M775 220h6v6h-6z"/><path fill="#9acd47" d="M780 220h6v6h-6z"/><path fill="#b1d74b" d="M785 220h6v6h-6z"/><path fill="#c1dc46" d="M790 220h6v6h-6z"/><path fill="#cfe042" d="M795 220h6v6h-6z"/><path fill="#d7e242" d="M800 220h6v6h-6z"/><path fill="#dee440" d="M805 220h6v6h-6z"/><path fill="#e4e63e" d="M810 220h6v6h-6z"/><path fill="#e8e83c" d="M815 220h6v6h-6z"/><path fill="#eae836" d="M820 220h6v6h-6z"/><path fill="#ebe831" d="M825 220h6v6h-6z"/><path fill="#ebe530" d="M830 220h6v6h-6z"/><path fill="#eae22f" d="M835 220h6v6h-6z"/><path fill="#eade2d" d="M840 220h6v6h-6z"/><path fill="#e9db2c" d="M845 220h6v6h-6z"/><path fill="#e9d729" d="M850 220h6v6h-6z"/><path fill="#ebd329" d="M855 220h6v6h-6z"/><path fill="#edcf29" d="M860 220h6v6h-6z"/><path fill="#efcc29" d="M865 220h6v6h-6z"/><path fill="#f0c329" d="M870 220h6v6h-6z"/><path fill="#f0c828" d="M875 220h6v6h-6z"/><path fill="#2a7e80" d="M655 225h6v6h-6z"/><path fill="#2a7f7e" d="M660 225h6v6h-6z"/><path fill="#2a807c" d="M665 225h6v6h-6z"/><path fill="#2a8179" d="M670 225h6v6h-6z"/><path fill="#2a8277" d="M675 225h6v6h-6z"/><path fill="#2a8476" d="M680 225h6v6h-6z"/><path fill="#2b8576" d="M685 225h6v6h-6z"/><path fill="#2c8675" d="M690 225h6v6h-6z"/><path fill="#2c8871" d="M695 225h6v6h-6z"/><path fill="#2b8b6b" d="M700 225h6v6h-6z"/><path fill="#2b8d66" d="M705 225h6v6h-6z"/><path fill="#2a8f60" d="M710 225h6v6h-6z"/><path fill="#2b925c" d="M715 225h6v6h-6z"/><path fill="#2c9456" d="M720 225h6v6h-6z"/><path fill="#2e9650" d="M725 225h6v6h-6z"/><path fill="#2f994b" d="M730 225h6v6h-6z"/><path fill="#319c46" d="M735 225h6v6h-6z"/><path fill="#35a046" d="M740 225h6v6h-6z"/><path fill="#38a446" d="M745 225h6v6h-6z"/><path fill="#3ca846" d="M750 225h6v6h-6z"/><path fill="#41ab46" d="M755 225h6v6h-6z"/><path fill="#45af49" d="M760 225h6v6h-6z"/><path fill="#56b44a" d="M765 225h6v6h-6z"/><path fill="#6dba4b" d="M770 225h6v6h-6z"/><path fill="#86c34a" d="M775 225h6v6h-6z"/><path fill="#9ece4e" d="M780 225h6v6h-6z"/><path fill="#b6d953" d="M785 225h6v6h-6z"/><path fill="#c7df4f" d="M790 225h6v6h-6z"/><path fill="#d1e24e" d="M795 225h6v6h-6z"/><path fill="#d9e44e" d="M800 225h6v6h-6z"/><path fill="#e0e64e" d="M805 225h6v6h-6z"/><path fill="#e6e84c" d="M810 225h6v6h-6z"/><path fill="#e9e847" d="M815 225h6v6h-6z"/><path fill="#eae842" d="M820 225h6v6h-6z"/><path fill="#ece83c" d="M825 225h6v6h-6z"/><path fill="#ede837" d="M830 225h6v6h-6z"/><path fill="#ede536" d="M835 225h6v6h-6z"/><path fill="#ece235" d="M840 225h6v6h-6z"/><path fill="#ecde31" d="M845 225h6v6h-6z"/><path fill="#ebd92c" d="M850 225h6v6h-6z"/><path fill="#ecd52b" d="M855 225h6v6h-6z"/><path fill="#eed12b" d="M860 225h6v6h-6z"/><path fill="#f0cc2b" d="M865 225h6v6h-6z"/><path fill="#f0c02b" d="M870 225h6v6h-6z"/><path fill="#edac28" d="M875 225h6v6h-6z"/><path fill="#2a7e80" d="M655 230h6v6h-6z"/><path fill="#2a7d87" d="M660 230h6v6h-6z"/><path fill="#2a7e89" d="M665 230h6v6h-6z"/><path fill="#2a7f87" d="M670 230h6v6h-6z"/><path fill="#2a8185" d="M675 230h6v6h-6z"/><path fill="#2b8285" d="M680 230h6v6h-6z"/><path fill="#2c8384" d="M685 230h6v6h-6z"/><path fill="#2d8484" d="M690 230h6v6h-6z"/><path fill="#2d8681" d="M695 230h6v6h-6z"/><path fill="#2c897c" d="M700 230h6v6h-6z"/><path fill="#2c8b76" d="M705 230h6v6h-6z"/><path fill="#2c8f70" d="M710 230h6v6h-6z"/><path fill="#2d9568" d="M715 230h6v6h-6z"/><path fill="#2c965d" d="M720 230h6v6h-6z"/><path fill="#2d9856" d="M725 230h6v6h-6z"/><path fill="#2f9a50" d="M730 230h6v6h-6z"/><path fill="#309d4b" d="M735 230h6v6h-6z"/><path fill="#34a04a" d="M740 230h6v6h-6z"/><path fill="#38a44a" d="M745 230h6v6h-6z"/><path fill="#3ca84a" d="M750 230h6v6h-6z"/><path fill="#40ac4a" d="M755 230h6v6h-6z"/><path fill="#44b04c" d="M760 230h6v6h-6z"/><path fill="#5bb64d" d="M765 230h6v6h-6z"/><path fill="#72bc4e" d="M770 230h6v6h-6z"/><path fill="#8ac54f" d="M775 230h6v6h-6z"/><path fill="#a2cf55" d="M780 230h6v6h-6z"/><path fill="#bada5a" d="M785 230h6v6h-6z"/><path fill="#cbe05a" d="M790 230h6v6h-6z"/><path fill="#d3e25a" d="M795 230h6v6h-6z"/><path fill="#dbe45a" d="M800 230h6v6h-6z"/><path fill="#e3e65a" d="M805 230h6v6h-6z"/><path fill="#e8e858" d="M810 230h6v6h-6z"/><path fill="#eae852" d="M815 230h6v6h-6z"/><path fill="#ebe84d" d="M820 230h6v6h-6z"/><path fill="#ece848" d="M825 230h6v6h-6z"/><path fill="#eee842" d="M830 230h6v6h-6z"/><path fill="#efe83d" d="M835 230h6v6h-6z"/><path fill="#efe53b" d="M840 230h6v6h-6z"/><path fill="#eee036" d="M845 230h6v6h-6z"/><path fill="#eddb31" d="M850 230h6v6h-6z"/><path fill="#edd72d" d="M855 230h6v6h-6z"/><path fill="#efd32d" d="M860 230h6v6h-6z"/><path fill="#f0c92d" d="M865 230h6v6h-6z"/><path fill="#f0bd2d" d="M870 230h6v6h-6z"/><path fill="#f0b02d" d="M875 230h6v6h-6z"/><path fill="#f09030" d="M880 230h6v6h-6z"/><path fill="#2a7e80" d="M655 235h6v6h-6z"/><path fill="#2b7b8c" d="M660 235h6v6h-6z"/><path fill="#2a7c95" d="M665 235h6v6h-6z"/><path fill="#2a7e94" d="M670 235h6v6h-6z"/><path fill="#2b7f94" d="M675 235h6v6h-6z"/><path fill="#2c8094" d="M680 235h6v6h-6z"/><path fill="#2c8193" d="M685 235h6v6h-6z"/><path fill="#2d8393" d="M690 235h6v6h-6z"/><path fill="#2e8492" d="M695 235h6v6h-6z"/><path fill="#2d868c" d="M700 235h6v6h-6z"/><path fill="#2d8987" d="M705 235h6v6h-6z"/><path fill="#2e9181" d="M710 235h6v6h-6z"/><path fill="#30997a" d="M715 235h6v6h-6z"/><path fill="#2f9a6f" d="M720 235h6v6h-6z"/><path fill="#2f9b64" d="M725 235h6v6h-6z"/><path fill="#2f9c58" d="M730 235h6v6h-6z"/><path fill="#309e50" d="M735 235h6v6h-6z"/><path fill="#32a24e" d="M740 235h6v6h-6z"/><path fill="#36a64e" d="M745 235h6v6h-6z"/><path fill="#3aaa4e" d="M750 235h6v6h-6z"/><path fill="#3eae4e" d="M755 235h6v6h-6z"/><path fill="#49b24f" d="M760 235h6v6h-6z"/><path fill="#60b850" d="M765 235h6v6h-6z"/><path fill="#79bf56" d="M770 235h6v6h-6z"/><path fill="#91c85c" d="M775 235h6v6h-6z"/><path fill="#a9d361" d="M780 235h6v6h-6z"/><path fill="#c1dd67" d="M785 235h6v6h-6z"/><path fill="#cfe36e" d="M790 235h6v6h-6z"/><path fill="#d7e56e" d="M795 235h6v6h-6z"/><path fill="#dfe76e" d="M800 235h6v6h-6z"/><path fill="#e7e96e" d="M805 235h6v6h-6z"/><path fill="#e9e969" d="M810 235h6v6h-6z"/><path fill="#ebe963" d="M815 235h6v6h-6z"/><path fill="#ece95e" d="M820 235h6v6h-6z"/><path fill="#ede959" d="M825 235h6v6h-6z"/><path fill="#efe953" d="M830 235h6v6h-6z"/><path fill="#f0e94e" d="M835 235h6v6h-6z"/><path fill="#f0e63e" d="M840 235h6v6h-6z"/><path fill="#f0e23a" d="M845 235h6v6h-6z"/><path fill="#f0de35" d="M850 235h6v6h-6z"/><path fill="#efd930" d="M855 235h6v6h-6z"/><path fill="#f0d32f" d="M860 235h6v6h-6z"/><path fill="#f0c72f" d="M865 235h6v6h-6z"/><path fill="#f0ba2f" d="M870 235h6v6h-6z"/><path fill="#f0ad2f" d="M875 235h6v6h-6z"/><path fill="#f0a12e" d="M880 235h6v6h-6z"/><path fill="#f09030" d="M885 235h6v6h-6z"/><path fill="#2a7c9c" d="M655 240h6v6h-6z"/><path fill="#2a7c9c" d="M660 240h6v6h-6z"/><path fill="#2a7b9a" d="M665 240h6v6h-6z"/><path fill="#2b7ca0" d="M670 240h6v6h-6z"/><path fill="#2c7da3" d="M675 240h6v6h-6z"/><path fill="#2c7ea3" d="M680 240h6v6h-6z"/><path fill="#2d80a2" d="M685 240h6v6h-6z"/><path fill="#2e81a2" d="M690 240h6v6h-6z"/><path fill="#2f82a2" d="M695 240h6v6h-6z"/><path fill="#2e849d" d="M700 240h6v6h-6z"/><path fill="#2f8a97" d="M705 240h6v6h-6z"/><path fill="#309291" d="M710 240h6v6h-6z"/><path fill="#329b8b" d="M715 240h6v6h-6z"/><path fill="#329e81" d="M720 240h6v6h-6z"/><path fill="#329f76" d="M725 240h6v6h-6z"/><path fill="#33a16a" d="M730 240h6v6h-6z"/><path fill="#34a25e" d="M735 240h6v6h-6z"/><path fill="#36a452" d="M740 240h6v6h-6z"/><path fill="#3aa852" d="M745 240h6v6h-6z"/><path fill="#3eac52" d="M750 240h6v6h-6z"/><path fill="#42b052" d="M755 240h6v6h-6z"/><path fill="#53b75c" d="M760 240h6v6h-6z"/><path fill="#6abe62" d="M765 240h6v6h-6z"/><path fill="#82c669" d="M770 240h6v6h-6z"/><path fill="#9bcd6f" d="M775 240h6v6h-6z"/><path fill="#b3d874" d="M780 240h6v6h-6z"/><path fill="#c8e17b" d="M785 240h6v6h-6z"/><path fill="#d4e687" d="M790 240h6v6h-6z"/><path fill="#dde98a" d="M795 240h6v6h-6z"/><path fill="#e5eb8a" d="M800 240h6v6h-6z"/><path fill="#ebec88" d="M805 240h6v6h-6z"/><path fill="#ebeb80" d="M810 240h6v6h-6z"/><path fill="#eceb7a" d="M815 240h6v6h-6z"/><path fill="#edeb75" d="M820 240h6v6h-6z"/><path fill="#efeb6f" d="M825 240h6v6h-6z"/><path fill="#f0eb6a" d="M830 240h6v6h-6z"/><path fill="#f0e854" d="M835 240h6v6h-6z"/><path fill="#f0e53f" d="M840 240h6v6h-6z"/><path fill="#f0e13b" d="M845 240h6v6h-6z"/><path fill="#f0dd37" d="M850 240h6v6h-6z"/><path fill="#f0d933" d="M855 240h6v6h-6z"/><path fill="#f0d030" d="M860 240h6v6h-6z"/><path fill="#f0c430" d="M865 240h6v6h-6z"/><path fill="#f0b730" d="M870 240h6v6h-6z"/><path fill="#f0aa30" d="M875 240h6v6h-6z"/><path fill="#f09e30" d="M880 240h6v6h-6z"/><path fill="#f09130" d="M885 240h6v6h-6z"/><path fill="#f09030" d="M890 240h6v6h-6z"/><path fill="#2a7c9c" d="M655 245h6v6h-6z"/><path fill="#2a7c9c" d="M660 245h6v6h-6z"/><path fill="#2b799f" d="M665 245h6v6h-6z"/><path fill="#2b7aa3" d="M670 245h6v6h-6z"/><path fill="#2c7ba7" d="M675 245h6v6h-6z"/><path fill="#2d7caa" d="M680 245h6v6h-6z"/><path fill="#2e7eae" d="M685 245h6v6h-6z"/><path fill="#2e7fb1" d="M690 245h6v6h-6z"/><path fill="#2f80b1" d="M695 245h6v6h-6z"/><path fill="#3083ad" d="M700 245h6v6h-6z"/><path fill="#318ca7" d="M705 245h6v6h-6z"/><path fill="#3394a0" d="M710 245h6v6h-6z"/><path fill="#349b97" d="M715 245h6v6h-6z"/><path fill="#38a291" d="M720 245h6v6h-6z"/><path fill="#3aa586" d="M725 245h6v6h-6z"/><path fill="#3da77a" d="M730 245h6v6h-6z"/><path fill="#3fa96e" d="M735 245h6v6h-6z"/><path fill="#40aa62" d="M740 245h6v6h-6z"/><path fill="#42ac56" d="M745 245h6v6h-6z"/><path fill="#46b056" d="M750 245h6v6h-6z"/><path fill="#58b965" d="M755 245h6v6h-6z"/><path fill="#69c170" d="M760 245h6v6h-6z"/><path fill="#78c675" d="M765 245h6v6h-6z"/><path fill="#8ccc7b" d="M770 245h6v6h-6z"/><path fill="#a5d381" d="M775 245h6v6h-6z"/><path fill="#bddd87" d="M780 245h6v6h-6z"/><path fill="#cce491" d="M785 245h6v6h-6z"/><path fill="#d8e99d" d="M790 245h6v6h-6z"/><path fill="#e3eda6" d="M795 245h6v6h-6z"/><path fill="#ebefa6" d="M800 245h6v6h-6z"/><path fill="#edefa0" d="M805 245h6v6h-6z"/><path fill="#edee98" d="M810 245h6v6h-6z"/><path fill="#eded91" d="M815 245h6v6h-6z"/><path fill="#efed8b" d="M820 245h6v6h-6z"/><path fill="#f0ed86" d="M825 245h6v6h-6z"/><path fill="#f0ea70" d="M830 245h6v6h-6z"/><path fill="#f0e759" d="M835 245h6v6h-6z"/><path fill="#f0e343" d="M840 245h6v6h-6z"/><path fill="#f0e03c" d="M845 245h6v6h-6z"/><path fill="#f0dc38" d="M850 245h6v6h-6z"/><path fill="#f0d334" d="M855 245h6v6h-6z"/><path fill="#f0cb30" d="M860 245h6v6h-6z"/><path fill="#f0bf30" d="M865 245h6v6h-6z"/><path fill="#f0b430" d="M870 245h6v6h-6z"/><path fill="#f0a830" d="M875 245h6v6h-6z"/><path fill="#f09b30" d="M880 245h6v6h-6z"/><path fill="#ed882f" d="M885 245h6v6h-6z"/><path fill="#ea742d" d="M890 245h6v6h-6z"/><path fill="#e04028" d="M895 245h6v6h-6z"/><path fill="#e04028" d="M900 245h6v6h-6z"/><path fill="#2c74a8" d="M660 250h6v6h-6z"/><path fill="#2b77a4" d="M665 250h6v6h-6z"/><path fill="#2c78a7" d="M670 250h6v6h-6z"/><path fill="#2d7aaa" d="M675 250h6v6h-6z"/><path fill="#2e7bae" d="M680 250h6v6h-6z"/><path fill="#2e7cb1" d="M685 250h6v6h-6z"/><path fill="#2f7db5" d="M690 250h6v6h-6z"/><path fill="#307eb8" d="M695 250h6v6h-6z"/><path fill="#3183b6" d="M700 250h6v6h-6z"/><path fill="#328aad" d="M705 250h6v6h-6z"/><path fill="#3492a4" d="M710 250h6v6h-6z"/><path fill="#35999b" d="M715 250h6v6h-6z"/><path fill="#3ca49d" d="M720 250h6v6h-6z"/><path fill="#40a794" d="M725 250h6v6h-6z"/><path fill="#42a988" d="M730 250h6v6h-6z"/><path fill="#44ac7c" d="M735 250h6v6h-6z"/><path fill="#47ae71" d="M740 250h6v6h-6z"/><path fill="#49b065" d="M745 250h6v6h-6z"/><path fill="#5cb96a" d="M750 250h6v6h-6z"/><path fill="#6ec277" d="M755 250h6v6h-6z"/><path fill="#80ca83" d="M760 250h6v6h-6z"/><path fill="#8fcf89" d="M765 250h6v6h-6z"/><path fill="#9ed48e" d="M770 250h6v6h-6z"/><path fill="#afd994" d="M775 250h6v6h-6z"/><path fill="#c4e19b" d="M780 250h6v6h-6z"/><path fill="#d0e6a7" d="M785 250h6v6h-6z"/><path fill="#dcebb3" d="M790 250h6v6h-6z"/><path fill="#e8f0bf" d="M795 250h6v6h-6z"/><path fill="#eff2c0" d="M800 250h6v6h-6z"/><path fill="#eff1b8" d="M805 250h6v6h-6z"/><path fill="#eff0b0" d="M810 250h6v6h-6z"/><path fill="#efefa8" d="M815 250h6v6h-6z"/><path fill="#f0efa2" d="M820 250h6v6h-6z"/><path fill="#f0ec8c" d="M825 250h6v6h-6z"/><path fill="#f0e975" d="M830 250h6v6h-6z"/><path fill="#f0e55f" d="M835 250h6v6h-6z"/><path fill="#f0e248" d="M840 250h6v6h-6z"/><path fill="#f0df3d" d="M845 250h6v6h-6z"/><path fill="#f0d639" d="M850 250h6v6h-6z"/><path fill="#f0ce35" d="M855 250h6v6h-6z"/><path fill="#f0c531" d="M860 250h6v6h-6z"/><path fill="#f0ba30" d="M865 250h6v6h-6z"/><path fill="#f0af30" d="M870 250h6v6h-6z"/><path fill="#f0a331" d="M875 250h6v6h-6z"/><path fill="#ed8f2f" d="M880 250h6v6h-6z"/><path fill="#ea7e2d" d="M885 250h6v6h-6z"/><path fill="#e76b2c" d="M890 250h6v6h-6z"/><path fill="#e5582a" d="M895 250h6v6h-6z"/><path fill="#e04028" d="M900 250h6v6h-6z"/><path fill="#e04028" d="M905 250h6v6h-6z"/><path fill="#2c74a8" d="M660 255h6v6h-6z"/><path fill="#2c75a7" d="M665 255h6v6h-6z"/><path fill="#2d76ab" d="M670 255h6v6h-6z"/><path fill="#2e78ae" d="M675 255h6v6h-6z"/><path fill="#2f79b1" d="M680 255h6v6h-6z"/><path fill="#3079b4" d="M685 255h6v6h-6z"/><path fill="#317ab7" d="M690 255h6v6h-6z"/><path fill="#327cba" d="M695 255h6v6h-6z"/><path fill="#3281ba" d="M700 255h6v6h-6z"/><path fill="#3388b1" d="M705 255h6v6h-6z"/><path fill="#3490a8" d="M710 255h6v6h-6z"/><path fill="#3698a0" d="M715 255h6v6h-6z"/><path fill="#3fa2a4" d="M720 255h6v6h-6z"/><path fill="#45aaa2" d="M725 255h6v6h-6z"/><path fill="#47ac96" d="M730 255h6v6h-6z"/><path fill="#4aae8a" d="M735 255h6v6h-6z"/><path fill="#4cb07f" d="M740 255h6v6h-6z"/><path fill="#51b379" d="M745 255h6v6h-6z"/><path fill="#6cc187" d="M750 255h6v6h-6z"/><path fill="#84cb8d" d="M755 255h6v6h-6z"/><path fill="#96d497" d="M760 255h6v6h-6z"/><path fill="#a5d99c" d="M765 255h6v6h-6z"/><path fill="#b4dda1" d="M770 255h6v6h-6z"/><path fill="#c0e1a6" d="M775 255h6v6h-6z"/><path fill="#cae4ad" d="M780 255h6v6h-6z"/><path fill="#d6e9b9" d="M785 255h6v6h-6z"/><path fill="#e2eec5" d="M790 255h6v6h-6z"/><path fill="#eef3d1" d="M795 255h6v6h-6z"/><path fill="#f1f4d1" d="M800 255h6v6h-6z"/><path fill="#f1f2ca" d="M805 255h6v6h-6z"/><path fill="#f1f2c2" d="M810 255h6v6h-6z"/><path fill="#f1f0ba" d="M815 255h6v6h-6z"/><path fill="#f1eead" d="M820 255h6v6h-6z"/><path fill="#f0ea99" d="M825 255h6v6h-6z"/><path fill="#f0e782" d="M830 255h6v6h-6z"/><path fill="#f0e46c" d="M835 255h6v6h-6z"/><path fill="#f0e156" d="M840 255h6v6h-6z"/><path fill="#f0dd44" d="M845 255h6v6h-6z"/><path fill="#f0d23b" d="M850 255h6v6h-6z"/><path fill="#f0c836" d="M855 255h6v6h-6z"/><path fill="#f0bf32" d="M860 255h6v6h-6z"/><path fill="#f0b530" d="M865 255h6v6h-6z"/><path fill="#f0a832" d="M870 255h6v6h-6z"/><path fill="#f09c36" d="M875 255h6v6h-6z"/><path fill="#eb802f" d="M880 255h6v6h-6z"/><path fill="#e86c2c" d="M885 255h6v6h-6z"/><path fill="#e55b2a" d="M890 255h6v6h-6z"/><path fill="#e24a29" d="M895 255h6v6h-6z"/><path fill="#df3f29" d="M900 255h6v6h-6z"/><path fill="#e04028" d="M905 255h6v6h-6z"/><path fill="#e04028" d="M910 255h6v6h-6z"/><path fill="#2c74a8" d="M660 260h6v6h-6z"/><path fill="#2d73aa" d="M665 260h6v6h-6z"/><path fill="#2e74ad" d="M670 260h6v6h-6z"/><path fill="#2f75b0" d="M675 260h6v6h-6z"/><path fill="#3076b4" d="M680 260h6v6h-6z"/><path fill="#3177b7" d="M685 260h6v6h-6z"/><path fill="#3278ba" d="M690 260h6v6h-6z"/><path fill="#337bbc" d="M695 260h6v6h-6z"/><path fill="#337fbd" d="M700 260h6v6h-6z"/><path fill="#3487b5" d="M705 260h6v6h-6z"/><path fill="#358eac" d="M710 260h6v6h-6z"/><path fill="#3997a7" d="M715 260h6v6h-6z"/><path fill="#41a1ac" d="M720 260h6v6h-6z"/><path fill="#4aacb0" d="M725 260h6v6h-6z"/><path fill="#4caea4" d="M730 260h6v6h-6z"/><path fill="#4fb199" d="M735 260h6v6h-6z"/><path fill="#51b38d" d="M740 260h6v6h-6z"/><path fill="#5ab794" d="M745 260h6v6h-6z"/><path fill="#79c6a2" d="M750 260h6v6h-6z"/><path fill="#98d5ae" d="M755 260h6v6h-6z"/><path fill="#a9dcad" d="M760 260h6v6h-6z"/><path fill="#b4dfae" d="M765 260h6v6h-6z"/><path fill="#c0e2b2" d="M770 260h6v6h-6z"/><path fill="#cde6b7" d="M775 260h6v6h-6z"/><path fill="#d3e8bc" d="M780 260h6v6h-6z"/><path fill="#ddecc6" d="M785 260h6v6h-6z"/><path fill="#e9f1d2" d="M790 260h6v6h-6z"/><path fill="#f2f5db" d="M795 260h6v6h-6z"/><path fill="#f3f5d9" d="M800 260h6v6h-6z"/><path fill="#f3f4d3" d="M805 260h6v6h-6z"/><path fill="#f4f2cc" d="M810 260h6v6h-6z"/><path fill="#f4f1c5" d="M815 260h6v6h-6z"/><path fill="#f4eeb8" d="M820 260h6v6h-6z"/><path fill="#f2eaa7" d="M825 260h6v6h-6z"/><path fill="#f1e695" d="M830 260h6v6h-6z"/><path fill="#f0e281" d="M835 260h6v6h-6z"/><path fill="#f0df6c" d="M840 260h6v6h-6z"/><path fill="#f0db5c" d="M845 260h6v6h-6z"/><path fill="#f0d74c" d="M850 260h6v6h-6z"/><path fill="#f0d13e" d="M855 260h6v6h-6z"/><path fill="#f0c438" d="M860 260h6v6h-6z"/><path fill="#f0ae34" d="M865 260h6v6h-6z"/><path fill="#f0a137" d="M870 260h6v6h-6z"/><path fill="#ef9239" d="M875 260h6v6h-6z"/><path fill="#ea7531" d="M880 260h6v6h-6z"/><path fill="#e55b2b" d="M885 260h6v6h-6z"/><path fill="#e24a29" d="M890 260h6v6h-6z"/><path fill="#e03c28" d="M895 260h6v6h-6z"/><path fill="#de3a2a" d="M900 260h6v6h-6z"/><path fill="#dd392b" d="M905 260h6v6h-6z"/><path fill="#d83030" d="M910 260h6v6h-6z"/><path fill="#d83030" d="M915 260h6v6h-6z"/><path fill="#2c74a8" d="M660 265h6v6h-6z"/><path fill="#2f70ad" d="M665 265h6v6h-6z"/><path fill="#3071b0" d="M670 265h6v6h-6z"/><path fill="#3172b3" d="M675 265h6v6h-6z"/><path fill="#3273b6" d="M680 265h6v6h-6z"/><path fill="#3374b9" d="M685 265h6v6h-6z"/><path fill="#3476bc" d="M690 265h6v6h-6z"/><path fill="#347abd" d="M695 265h6v6h-6z"/><path fill="#347ebe" d="M700 265h6v6h-6z"/><path fill="#3585b9" d="M705 265h6v6h-6z"/><path fill="#368cb0" d="M710 265h6v6h-6z"/><path fill="#3b95ae" d="M715 265h6v6h-6z"/><path fill="#44a0b3" d="M720 265h6v6h-6z"/><path fill="#4dabb7" d="M725 265h6v6h-6z"/><path fill="#52b1b2" d="M730 265h6v6h-6z"/><path fill="#54b3a7" d="M735 265h6v6h-6z"/><path fill="#59b6a1" d="M740 265h6v6h-6z"/><path fill="#64bbaf" d="M745 265h6v6h-6z"/><path fill="#86ccbd" d="M750 265h6v6h-6z"/><path fill="#a8ddcb" d="M755 265h6v6h-6z"/><path fill="#bae4ca" d="M760 265h6v6h-6z"/><path fill="#c0e4bf" d="M765 265h6v6h-6z"/><path fill="#cde7c3" d="M770 265h6v6h-6z"/><path fill="#d9ebc8" d="M775 265h6v6h-6z"/><path fill="#deedcd" d="M780 265h6v6h-6z"/><path fill="#e5efd4" d="M785 265h6v6h-6z"/><path fill="#f1f4e0" d="M790 265h6v6h-6z"/><path fill="#f4f5e1" d="M795 265h6v6h-6z"/><path fill="#f5f5df" d="M800 265h6v6h-6z"/><path fill="#f5f5dc" d="M805 265h6v6h-6z"/><path fill="#f5f3d5" d="M810 265h6v6h-6z"/><path fill="#f5f0cc" d="M815 265h6v6h-6z"/><path fill="#f4ebbd" d="M820 265h6v6h-6z"/><path fill="#f2e8ac" d="M825 265h6v6h-6z"/><path fill="#f2e59d" d="M830 265h6v6h-6z"/><path fill="#f1e28f" d="M835 265h6v6h-6z"/><path fill="#f0d880" d="M840 265h6v6h-6z"/><path fill="#f0d470" d="M845 265h6v6h-6z"/><path fill="#f0d060" d="M850 265h6v6h-6z"/><path fill="#f0ca4f" d="M855 265h6v6h-6z"/><path fill="#f0be41" d="M860 265h6v6h-6z"/><path fill="#f0b040" d="M865 265h6v6h-6z"/><path fill="#f09a3c" d="M870 265h6v6h-6z"/><path fill="#ee873b" d="M875 265h6v6h-6z"/><path fill="#e96a33" d="M880 265h6v6h-6z"/><path fill="#e34c2b" d="M885 265h6v6h-6z"/><path fill="#e03928" d="M890 265h6v6h-6z"/><path fill="#de382a" d="M895 265h6v6h-6z"/><path fill="#dd362b" d="M900 265h6v6h-6z"/><path fill="#db352d" d="M905 265h6v6h-6z"/><path fill="#da332e" d="M910 265h6v6h-6z"/><path fill="#d83030" d="M915 265h6v6h-6z"/><path fill="#d83030" d="M920 265h6v6h-6z"/><path fill="#2c74a8" d="M660 270h6v6h-6z"/><path fill="#2c74a8" d="M665 270h6v6h-6z"/><path fill="#316eb2" d="M670 270h6v6h-6z"/><path fill="#326fb6" d="M675 270h6v6h-6z"/><path fill="#3370b9" d="M680 270h6v6h-6z"/><path fill="#3471bc" d="M685 270h6v6h-6z"/><path fill="#3575be" d="M690 270h6v6h-6z"/><path fill="#3579bf" d="M695 270h6v6h-6z"/><path fill="#357dc0" d="M700 270h6v6h-6z"/><path fill="#3683be" d="M705 270h6v6h-6z"/><path fill="#378ab5" d="M710 270h6v6h-6z"/><path fill="#3e94b5" d="M715 270h6v6h-6z"/><path fill="#479fba" d="M720 270h6v6h-6z"/><path fill="#4faabe" d="M725 270h6v6h-6z"/><path fill="#57b3c1" d="M730 270h6v6h-6z"/><path fill="#59b5b5" d="M735 270h6v6h-6z"/><path fill="#62babc" d="M740 270h6v6h-6z"/><path fill="#71c1ca" d="M745 270h6v6h-6z"/><path fill="#93d2d8" d="M750 270h6v6h-6z"/><path fill="#b5e2df" d="M755 270h6v6h-6z"/><path fill="#c9eae3" d="M760 270h6v6h-6z"/><path fill="#d0ebd9" d="M765 270h6v6h-6z"/><path fill="#d9ecd4" d="M770 270h6v6h-6z"/><path fill="#e4f0d9" d="M775 270h6v6h-6z"/><path fill="#e9f1de" d="M780 270h6v6h-6z"/><path fill="#eef3e3" d="M785 270h6v6h-6z"/><path fill="#f5f6ea" d="M790 270h6v6h-6z"/><path fill="#f6f6e8" d="M795 270h6v6h-6z"/><path fill="#f6f6e6" d="M800 270h6v6h-6z"/><path fill="#f7f6e4" d="M805 270h6v6h-6z"/><path fill="#f7f4dd" d="M810 270h6v6h-6z"/><path fill="#f5edcf" d="M815 270h6v6h-6z"/><path fill="#f4ecc9" d="M820 270h6v6h-6z"/><path fill="#f4eabb" d="M825 270h6v6h-6z"/><path fill="#f3e7ad" d="M830 270h6v6h-6z"/><path fill="#f2da9f" d="M835 270h6v6h-6z"/><path fill="#f0cc90" d="M840 270h6v6h-6z"/><path fill="#f0c67f" d="M845 270h6v6h-6z"/><path fill="#f0be6d" d="M850 270h6v6h-6z"/><path fill="#f0b65b" d="M855 270h6v6h-6z"/><path fill="#f0a94b" d="M860 270h6v6h-6z"/><path fill="#f09943" d="M865 270h6v6h-6z"/><path fill="#f08b42" d="M870 270h6v6h-6z"/><path fill="#ec723c" d="M875 270h6v6h-6z"/><path fill="#e75534" d="M880 270h6v6h-6z"/><path fill="#e23d2c" d="M885 270h6v6h-6z"/><path fill="#df3729" d="M890 270h6v6h-6z"/><path fill="#dd352b" d="M895 270h6v6h-6z"/><path fill="#dc342c" d="M900 270h6v6h-6z"/><path fill="#da322e" d="M905 270h6v6h-6z"/><path fill="#d9312f" d="M910 270h6v6h-6z"/><path fill="#d72f2f" d="M915 270h6v6h-6z"/><path fill="#d83030" d="M920 270h6v6h-6z"/><path fill="#2c74a8" d="M660 275h6v6h-6z"/><path fill="#2c74a8" d="M665 275h6v6h-6z"/><path fill="#336bb5" d="M670 275h6v6h-6z"/><path fill="#346cb8" d="M675 275h6v6h-6z"/><path fill="#356dbb" d="M680 275h6v6h-6z"/><path fill="#366fbe" d="M685 275h6v6h-6z"/><path fill="#3674bf" d="M690 275h6v6h-6z"/><path fill="#3678c0" d="M695 275h6v6h-6z"/><path fill="#377cc2" d="M700 275h6v6h-6z"/><path fill="#3781c2" d="M705 275h6v6h-6z"/><path fill="#3888b9" d="M710 275h6v6h-6z"/><path fill="#4093bd" d="M715 275h6v6h-6z"/><path fill="#499ec1" d="M720 275h6v6h-6z"/><path fill="#52a8c6" d="M725 275h6v6h-6z"/><path fill="#5ab3ca" d="M730 275h6v6h-6z"/><path fill="#61b9c9" d="M735 275h6v6h-6z"/><path fill="#6bbed6" d="M740 275h6v6h-6z"/><path fill="#7dc6da" d="M745 275h6v6h-6z"/><path fill="#9ed5de" d="M750 275h6v6h-6z"/><path fill="#bfe5e2" d="M755 275h6v6h-6z"/><path fill="#ceeae6" d="M760 275h6v6h-6z"/><path fill="#dcefe9" d="M765 275h6v6h-6z"/><path fill="#e7f2e8" d="M770 275h6v6h-6z"/><path fill="#eff4ea" d="M775 275h6v6h-6z"/><path fill="#f4f6ef" d="M780 275h6v6h-6z"/><path fill="#f6f6ef" d="M785 275h6v6h-6z"/><path fill="#f7f7ee" d="M790 275h6v6h-6z"/><path fill="#f7f7ed" d="M795 275h6v6h-6z"/><path fill="#f8f7eb" d="M800 275h6v6h-6z"/><path fill="#f8f5e6" d="M805 275h6v6h-6z"/><path fill="#f7f0dd" d="M810 275h6v6h-6z"/><path fill="#f5e8cd" d="M815 275h6v6h-6z"/><path fill="#f4e7c7" d="M820 275h6v6h-6z"/><path fill="#f6eccb" d="M825 275h6v6h-6z"/><path fill="#f4e6bd" d="M830 275h6v6h-6z"/><path fill="#f2ceaa" d="M835 275h6v6h-6z"/><path fill="#f0bc99" d="M840 275h6v6h-6z"/><path fill="#f0b28b" d="M845 275h6v6h-6z"/><path fill="#f0aa79" d="M850 275h6v6h-6z"/><path fill="#f0a267" d="M855 275h6v6h-6z"/><path fill="#f09557" d="M860 275h6v6h-6z"/><path fill="#f08349" d="M865 275h6v6h-6z"/><path fill="#ef7144" d="M870 275h6v6h-6z"/><path fill="#ea593c" d="M875 275h6v6h-6z"/><path fill="#e54834" d="M880 275h6v6h-6z"/><path fill="#e23e30" d="M885 275h6v6h-6z"/><path fill="#df3a2d" d="M890 275h6v6h-6z"/><path fill="#dd352b" d="M895 275h6v6h-6z"/><path fill="#db332d" d="M900 275h6v6h-6z"/><path fill="#da322e" d="M905 275h6v6h-6z"/><path fill="#d83030" d="M910 275h6v6h-6z"/><path fill="#d72f2f" d="M915 275h6v6h-6z"/><path fill="#d83030" d="M920 275h6v6h-6z"/><path fill="#d02828" d="M925 275h6v6h-6z"/><path fill="#3866c0" d="M665 280h6v6h-6z"/><path fill="#3468b8" d="M670 280h6v6h-6z"/><path fill="#356abb" d="M675 280h6v6h-6z"/><path fill="#366bbe" d="M680 280h6v6h-6z"/><path fill="#376ec0" d="M685 280h6v6h-6z"/><path fill="#3772c1" d="M690 280h6v6h-6z"/><path fill="#3777c2" d="M695 280h6v6h-6z"/><path fill="#387bc4" d="M700 280h6v6h-6z"/><path fill="#387fc5" d="M705 280h6v6h-6z"/><path fill="#3a87bf" d="M710 280h6v6h-6z"/><path fill="#4392c4" d="M715 280h6v6h-6z"/><path fill="#4c9dc8" d="M720 280h6v6h-6z"/><path fill="#54a7cd" d="M725 280h6v6h-6z"/><path fill="#5fb2d0" d="M730 280h6v6h-6z"/><path fill="#6bbbd3" d="M735 280h6v6h-6z"/><path fill="#76bfd7" d="M740 280h6v6h-6z"/><path fill="#8ccadd" d="M745 280h6v6h-6z"/><path fill="#a8d8e1" d="M750 280h6v6h-6z"/><path fill="#c7e6e5" d="M755 280h6v6h-6z"/><path fill="#d4ebe9" d="M760 280h6v6h-6z"/><path fill="#e1efec" d="M765 280h6v6h-6z"/><path fill="#eef4f0" d="M770 280h6v6h-6z"/><path fill="#f3f6f1" d="M775 280h6v6h-6z"/><path fill="#f5f7f1" d="M780 280h6v6h-6z"/><path fill="#f6f7f1" d="M785 280h6v6h-6z"/><path fill="#f7f7f0" d="M790 280h6v6h-6z"/><path fill="#f8f8ef" d="M795 280h6v6h-6z"/><path fill="#f7f3e7" d="M800 280h6v6h-6z"/><path fill="#f7eedf" d="M805 280h6v6h-6z"/><path fill="#f6e9d7" d="M810 280h6v6h-6z"/><path fill="#f5e3cb" d="M815 280h6v6h-6z"/><path fill="#f4e2c5" d="M820 280h6v6h-6z"/><path fill="#f6e7c9" d="M825 280h6v6h-6z"/><path fill="#f4dcc0" d="M830 280h6v6h-6z"/><path fill="#f2c2a6" d="M835 280h6v6h-6z"/><path fill="#f0b095" d="M840 280h6v6h-6z"/><path fill="#f0a48b" d="M845 280h6v6h-6z"/><path fill="#f09881" d="M850 280h6v6h-6z"/><path fill="#f08e73" d="M855 280h6v6h-6z"/><path fill="#f08163" d="M860 280h6v6h-6z"/><path fill="#ef7253" d="M865 280h6v6h-6z"/><path fill="#ed6444" d="M870 280h6v6h-6z"/><path fill="#e8523c" d="M875 280h6v6h-6z"/><path fill="#e44536" d="M880 280h6v6h-6z"/><path fill="#e24134" d="M885 280h6v6h-6z"/><path fill="#e03c32" d="M890 280h6v6h-6z"/><path fill="#dd382f" d="M895 280h6v6h-6z"/><path fill="#db332d" d="M900 280h6v6h-6z"/><path fill="#d9312f" d="M905 280h6v6h-6z"/><path fill="#d83030" d="M910 280h6v6h-6z"/><path fill="#d62e2e" d="M915 280h6v6h-6z"/><path fill="#d42c2c" d="M920 280h6v6h-6z"/><path fill="#d02828" d="M925 280h6v6h-6z"/><path fill="#d02828" d="M930 280h6v6h-6z"/><path fill="#3860c0" d="M665 285h6v6h-6z"/><path fill="#3565bb" d="M670 285h6v6h-6z"/><path fill="#3767bd" d="M675 285h6v6h-6z"/><path fill="#3869c0" d="M680 285h6v6h-6z"/><path fill="#386dc1" d="M685 285h6v6h-6z"/><path fill="#3871c2" d="M690 285h6v6h-6z"/><path fill="#3976c4" d="M695 285h6v6h-6z"/><path fill="#397ac5" d="M700 285h6v6h-6z"/><path fill="#397ec6" d="M705 285h6v6h-6z"/><path fill="#3d86c7" d="M710 285h6v6h-6z"/><path fill="#4691cb" d="M715 285h6v6h-6z"/><path fill="#529bcd" d="M720 285h6v6h-6z"/><path fill="#5ea6d0" d="M725 285h6v6h-6z"/><path fill="#69b1d3" d="M730 285h6v6h-6z"/><path fill="#75bbd5" d="M735 285h6v6h-6z"/><path fill="#84c3da" d="M740 285h6v6h-6z"/><path fill="#9ccfdf" d="M745 285h6v6h-6z"/><path fill="#b4dbe4" d="M750 285h6v6h-6z"/><path fill="#cce6e8" d="M755 285h6v6h-6z"/><path fill="#d9ebec" d="M760 285h6v6h-6z"/><path fill="#e7f0ef" d="M765 285h6v6h-6z"/><path fill="#f2f5f1" d="M770 285h6v6h-6z"/><path fill="#f4f6f2" d="M775 285h6v6h-6z"/><path fill="#f5f7f2" d="M780 285h6v6h-6z"/><path fill="#f7f7f2" d="M785 285h6v6h-6z"/><path fill="#f8f8f2" d="M790 285h6v6h-6z"/><path fill="#f7f4eb" d="M795 285h6v6h-6z"/><path fill="#f7eee2" d="M800 285h6v6h-6z"/><path fill="#f6e8d9" d="M805 285h6v6h-6z"/><path fill="#f5e3d0" d="M810 285h6v6h-6z"/><path fill="#f5dec8" d="M815 285h6v6h-6z"/><path fill="#f4ddc3" d="M820 285h6v6h-6z"/><path fill="#f6e2cc" d="M825 285h6v6h-6z"/><path fill="#f4d6c2" d="M830 285h6v6h-6z"/><path fill="#f2b7a4" d="M835 285h6v6h-6z"/><path fill="#efa491" d="M840 285h6v6h-6z"/><path fill="#ef9887" d="M845 285h6v6h-6z"/><path fill="#ef8c7d" d="M850 285h6v6h-6z"/><path fill="#ef8073" d="M855 285h6v6h-6z"/><path fill="#ee7467" d="M860 285h6v6h-6z"/><path fill="#ec6858" d="M865 285h6v6h-6z"/><path fill="#ea5b46" d="M870 285h6v6h-6z"/><path fill="#e74c3d" d="M875 285h6v6h-6z"/><path fill="#e4483a" d="M880 285h6v6h-6z"/><path fill="#e24338" d="M885 285h6v6h-6z"/><path fill="#e03f36" d="M890 285h6v6h-6z"/><path fill="#de3a34" d="M895 285h6v6h-6z"/><path fill="#db3631" d="M900 285h6v6h-6z"/><path fill="#d9312f" d="M905 285h6v6h-6z"/><path fill="#d72f2f" d="M910 285h6v6h-6z"/><path fill="#d62e2e" d="M915 285h6v6h-6z"/><path fill="#d42c2c" d="M920 285h6v6h-6z"/><path fill="#d22a2a" d="M925 285h6v6h-6z"/><path fill="#d02828" d="M930 285h6v6h-6z"/><path fill="#d02828" d="M935 285h6v6h-6z"/><path fill="#3860c0" d="M665 290h6v6h-6z"/><path fill="#3762be" d="M670 290h6v6h-6z"/><path fill="#3864c0" d="M675 290h6v6h-6z"/><path fill="#3966c1" d="M680 290h6v6h-6z"/><path fill="#396bc2" d="M685 290h6v6h-6z"/><path fill="#396fc4" d="M690 290h6v6h-6z"/><path fill="#3a73c5" d="M695 290h6v6h-6z"/><path fill="#3a78c6" d="M700 290h6v6h-6z"/><path fill="#3a7cc8" d="M705 290h6v6h-6z"/><path fill="#4184ca" d="M710 290h6v6h-6z"/><path fill="#5091ce" d="M715 290h6v6h-6z"/><path fill="#5b9cd1" d="M720 290h6v6h-6z"/><path fill="#67a6d3" d="M725 290h6v6h-6z"/><path fill="#72b1d6" d="M730 290h6v6h-6z"/><path fill="#7ebcd9" d="M735 290h6v6h-6z"/><path fill="#90c7dd" d="M740 290h6v6h-6z"/><path fill="#a8d3e2" d="M745 290h6v6h-6z"/><path fill="#c0dfe7" d="M750 290h6v6h-6z"/><path fill="#d2e8eb" d="M755 290h6v6h-6z"/><path fill="#e0edee" d="M760 290h6v6h-6z"/><path fill="#eef2f1" d="M765 290h6v6h-6z"/><path fill="#f2f4f2" d="M770 290h6v6h-6z"/><path fill="#f4f5f3" d="M775 290h6v6h-6z"/><path fill="#f6f6f3" d="M780 290h6v6h-6z"/><path fill="#f7f7f4" d="M785 290h6v6h-6z"/><path fill="#f7f5ef" d="M790 290h6v6h-6z"/><path fill="#f7efe6" d="M795 290h6v6h-6z"/><path fill="#f6e9de" d="M800 290h6v6h-6z"/><path fill="#f5e3d5" d="M805 290h6v6h-6z"/><path fill="#f4decc" d="M810 290h6v6h-6z"/><path fill="#f4d8c3" d="M815 290h6v6h-6z"/><path fill="#f4d3bf" d="M820 290h6v6h-6z"/><path fill="#f5d6c6" d="M825 290h6v6h-6z"/><path fill="#f4c6bb" d="M830 290h6v6h-6z"/><path fill="#f2a79e" d="M835 290h6v6h-6z"/><path fill="#ef948b" d="M840 290h6v6h-6z"/><path fill="#ed8c83" d="M845 290h6v6h-6z"/><path fill="#ed8079" d="M850 290h6v6h-6z"/><path fill="#ed746f" d="M855 290h6v6h-6z"/><path fill="#ec6863" d="M860 290h6v6h-6z"/><path fill="#ea5c54" d="M865 290h6v6h-6z"/><path fill="#e85045" d="M870 290h6v6h-6z"/><path fill="#e64c3e" d="M875 290h6v6h-6z"/><path fill="#e4473b" d="M880 290h6v6h-6z"/><path fill="#e24239" d="M885 290h6v6h-6z"/><path fill="#df3e36" d="M890 290h6v6h-6z"/><path fill="#dd3934" d="M895 290h6v6h-6z"/><path fill="#db3532" d="M900 290h6v6h-6z"/><path fill="#d93030" d="M905 290h6v6h-6z"/><path fill="#d72e2e" d="M910 290h6v6h-6z"/><path fill="#d52c2c" d="M915 290h6v6h-6z"/><path fill="#d32a2a" d="M920 290h6v6h-6z"/><path fill="#d12828" d="M925 290h6v6h-6z"/><path fill="#cf2727" d="M930 290h6v6h-6z"/><path fill="#d02828" d="M935 290h6v6h-6z"/><path fill="#d02828" d="M940 290h6v6h-6z"/><path fill="#3860c0" d="M665 295h6v6h-6z"/><path fill="#3860c0" d="M670 295h6v6h-6z"/><path fill="#3960c1" d="M675 295h6v6h-6z"/><path fill="#3a62c2" d="M680 295h6v6h-6z"/><path fill="#3a67c3" d="M685 295h6v6h-6z"/><path fill="#3a6bc4" d="M690 295h6v6h-6z"/><path fill="#3b6fc6" d="M695 295h6v6h-6z"/><path fill="#3b74c7" d="M700 295h6v6h-6z"/><path fill="#3b77c8" d="M705 295h6v6h-6z"/><path fill="#3b76c8" d="M710 295h6v6h-6z"/><path fill="#508bcf" d="M715 295h6v6h-6z"/><path fill="#639ed5" d="M720 295h6v6h-6z"/><path fill="#6fa8d7" d="M725 295h6v6h-6z"/><path fill="#7ab3da" d="M730 295h6v6h-6z"/><path fill="#86bedd" d="M735 295h6v6h-6z"/><path fill="#98c9e1" d="M740 295h6v6h-6z"/><path fill="#b0d5e6" d="M745 295h6v6h-6z"/><path fill="#c6e0ea" d="M750 295h6v6h-6z"/><path fill="#d9e9ed" d="M755 295h6v6h-6z"/><path fill="#e6eef0" d="M760 295h6v6h-6z"/><path fill="#f1f3f2" d="M765 295h6v6h-6z"/><path fill="#f3f4f3" d="M770 295h6v6h-6z"/><path fill="#f4f5f4" d="M775 295h6v6h-6z"/><path fill="#f6f6f4" d="M780 295h6v6h-6z"/><path fill="#f7f6f4" d="M785 295h6v6h-6z"/><path fill="#f6f0ed" d="M790 295h6v6h-6z"/><path fill="#f5e9e4" d="M795 295h6v6h-6z"/><path fill="#f4e3db" d="M800 295h6v6h-6z"/><path fill="#f3ded2" d="M805 295h6v6h-6z"/><path fill="#f2d8c9" d="M810 295h6v6h-6z"/><path fill="#f2cabb" d="M815 295h6v6h-6z"/><path fill="#f3c5b7" d="M820 295h6v6h-6z"/><path fill="#f3c0b7" d="M825 295h6v6h-6z"/><path fill="#f3aeab" d="M830 295h6v6h-6z"/><path fill="#f29798" d="M835 295h6v6h-6z"/><path fill="#ef8485" d="M840 295h6v6h-6z"/><path fill="#ed7c7d" d="M845 295h6v6h-6z"/><path fill="#eb7475" d="M850 295h6v6h-6z"/><path fill="#eb686b" d="M855 295h6v6h-6z"/><path fill="#ea5c5f" d="M860 295h6v6h-6z"/><path fill="#e85050" d="M865 295h6v6h-6z"/><path fill="#e64c49" d="M870 295h6v6h-6z"/><path fill="#e44741" d="M875 295h6v6h-6z"/><path fill="#e3433a" d="M880 295h6v6h-6z"/><path fill="#e13e36" d="M885 295h6v6h-6z"/><path fill="#de3a33" d="M890 295h6v6h-6z"/><path fill="#dc3531" d="M895 295h6v6h-6z"/><path fill="#da302f" d="M900 295h6v6h-6z"/><path fill="#d82d2d" d="M905 295h6v6h-6z"/><path fill="#d62b2b" d="M910 295h6v6h-6z"/><path fill="#d42929" d="M915 295h6v6h-6z"/><path fill="#d22727" d="M920 295h6v6h-6z"/><path fill="#d02727" d="M925 295h6v6h-6z"/><path fill="#cf2626" d="M930 295h6v6h-6z"/><path fill="#cd2525" d="M935 295h6v6h-6z"/><path fill="#c82020" d="M940 295h6v6h-6z"/><path fill="#3860c0" d="M670 300h6v6h-6z"/><path fill="#3a5dc2" d="M675 300h6v6h-6z"/><path fill="#3a5fc2" d="M680 300h6v6h-6z"/><path fill="#3b63c4" d="M685 300h6v6h-6z"/><path fill="#3b67c5" d="M690 300h6v6h-6z"/><path fill="#3b6cc6" d="M695 300h6v6h-6z"/><path fill="#3c70c8" d="M700 300h6v6h-6z"/><path fill="#3c70c8" d="M705 300h6v6h-6z"/><path fill="#3c70c8" d="M710 300h6v6h-6z"/><path fill="#4a7dcd" d="M715 300h6v6h-6z"/><path fill="#5f93d3" d="M720 300h6v6h-6z"/><path fill="#74a8da" d="M725 300h6v6h-6z"/><path fill="#82b5de" d="M730 300h6v6h-6z"/><path fill="#8ec0e1" d="M735 300h6v6h-6z"/><path fill="#a0cbe5" d="M740 300h6v6h-6z"/><path fill="#b6d6e9" d="M745 300h6v6h-6z"/><path fill="#cae0ec" d="M750 300h6v6h-6z"/><path fill="#deeaef" d="M755 300h6v6h-6z"/><path fill="#edf0f2" d="M760 300h6v6h-6z"/><path fill="#f2f2f3" d="M765 300h6v6h-6z"/><path fill="#f3f3f4" d="M770 300h6v6h-6z"/><path fill="#f4f4f4" d="M775 300h6v6h-6z"/><path fill="#f5f4f3" d="M780 300h6v6h-6z"/><path fill="#f6f4f3" d="M785 300h6v6h-6z"/><path fill="#f5eeec" d="M790 300h6v6h-6z"/><path fill="#f3e3e1" d="M795 300h6v6h-6z"/><path fill="#f2ded8" d="M800 300h6v6h-6z"/><path fill="#f2d8cf" d="M805 300h6v6h-6z"/><path fill="#f2cac1" d="M810 300h6v6h-6z"/><path fill="#f2bcb3" d="M815 300h6v6h-6z"/><path fill="#f2b7af" d="M820 300h6v6h-6z"/><path fill="#f2a9a6" d="M825 300h6v6h-6z"/><path fill="#f1979a" d="M830 300h6v6h-6z"/><path fill="#f1858e" d="M835 300h6v6h-6z"/><path fill="#ef747f" d="M840 300h6v6h-6z"/><path fill="#ed6c77" d="M845 300h6v6h-6z"/><path fill="#eb646f" d="M850 300h6v6h-6z"/><path fill="#e95c67" d="M855 300h6v6h-6z"/><path fill="#e8505b" d="M860 300h6v6h-6z"/><path fill="#e64c53" d="M865 300h6v6h-6z"/><path fill="#e4474c" d="M870 300h6v6h-6z"/><path fill="#e34344" d="M875 300h6v6h-6z"/><path fill="#e13e3d" d="M880 300h6v6h-6z"/><path fill="#df3a36" d="M885 300h6v6h-6z"/><path fill="#dd3530" d="M890 300h6v6h-6z"/><path fill="#db312e" d="M895 300h6v6h-6z"/><path fill="#d92c2c" d="M900 300h6v6h-6z"/><path fill="#d72a2a" d="M905 300h6v6h-6z"/><path fill="#d52828" d="M910 300h6v6h-6z"/><path fill="#d32727" d="M915 300h6v6h-6z"/><path fill="#d12626" d="M920 300h6v6h-6z"/><path fill="#d02525" d="M925 300h6v6h-6z"/><path fill="#ce2424" d="M930 300h6v6h-6z"/><path fill="#cc2323" d="M935 300h6v6h-6z"/><path fill="#c82020" d="M940 300h6v6h-6z"/><path fill="#c82020" d="M945 300h6v6h-6z"/><path fill="#3860c0" d="M670 305h6v6h-6z"/><path fill="#3b5bc3" d="M675 305h6v6h-6z"/><path fill="#3b5cc3" d="M680 305h6v6h-6z"/><path fill="#3c5fc4" d="M685 305h6v6h-6z"/><path fill="#3c63c6" d="M690 305h6v6h-6z"/><path fill="#3c68c7" d="M695 305h6v6h-6z"/><path fill="#3d6bc8" d="M700 305h6v6h-6z"/><path fill="#3c6ac8" d="M705 305h6v6h-6z"/><path fill="#3c69c8" d="M710 305h6v6h-6z"/><path fill="#4370ca" d="M715 305h6v6h-6z"/><path fill="#5985d1" d="M720 305h6v6h-6z"/><path fill="#6e9ad8" d="M725 305h6v6h-6z"/><path fill="#83afdf" d="M730 305h6v6h-6z"/><path fill="#96c2e5" d="M735 305h6v6h-6z"/><path fill="#a8cde8" d="M740 305h6v6h-6z"/><path fill="#bcd7eb" d="M745 305h6v6h-6z"/><path fill="#d0e1ee" d="M750 305h6v6h-6z"/><path fill="#e4ebf1" d="M755 305h6v6h-6z"/><path fill="#f1f1f4" d="M760 305h6v6h-6z"/><path fill="#f2f1f4" d="M765 305h6v6h-6z"/><path fill="#f3f2f3" d="M770 305h6v6h-6z"/><path fill="#f4f2f3" d="M775 305h6v6h-6z"/><path fill="#f5f2f3" d="M780 305h6v6h-6z"/><path fill="#f6f3f2" d="M785 305h6v6h-6z"/><path fill="#f5ecec" d="M790 305h6v6h-6z"/><path fill="#f2dfdf" d="M795 305h6v6h-6z"/><path fill="#f0d8d5" d="M800 305h6v6h-6z"/><path fill="#f0cac7" d="M805 305h6v6h-6z"/><path fill="#f0bcb9" d="M810 305h6v6h-6z"/><path fill="#f0aeab" d="M815 305h6v6h-6z"/><path fill="#f1a3a2" d="M820 305h6v6h-6z"/><path fill="#f09196" d="M825 305h6v6h-6z"/><path fill="#f0808b" d="M830 305h6v6h-6z"/><path fill="#ef7080" d="M835 305h6v6h-6z"/><path fill="#ee6a7a" d="M840 305h6v6h-6z"/><path fill="#ec6272" d="M845 305h6v6h-6z"/><path fill="#ea5a6a" d="M850 305h6v6h-6z"/><path fill="#e85262" d="M855 305h6v6h-6z"/><path fill="#e54b59" d="M860 305h6v6h-6z"/><path fill="#e44753" d="M865 305h6v6h-6z"/><path fill="#e2424d" d="M870 305h6v6h-6z"/><path fill="#e13e47" d="M875 305h6v6h-6z"/><path fill="#df3a40" d="M880 305h6v6h-6z"/><path fill="#dd3539" d="M885 305h6v6h-6z"/><path fill="#dc3131" d="M890 305h6v6h-6z"/><path fill="#da2c2b" d="M895 305h6v6h-6z"/><path fill="#d82929" d="M900 305h6v6h-6z"/><path fill="#d62727" d="M905 305h6v6h-6z"/><path fill="#d42626" d="M910 305h6v6h-6z"/><path fill="#d22626" d="M915 305h6v6h-6z"/><path fill="#d12525" d="M920 305h6v6h-6z"/><path fill="#cf2424" d="M925 305h6v6h-6z"/><path fill="#cd2323" d="M930 305h6v6h-6z"/><path fill="#cb2222" d="M935 305h6v6h-6z"/><path fill="#ca2121" d="M940 305h6v6h-6z"/><path fill="#c82020" d="M945 305h6v6h-6z"/><path fill="#c82020" d="M950 305h6v6h-6z"/><path fill="#3860c0" d="M670 310h6v6h-6z"/><path fill="#3c59c4" d="M675 310h6v6h-6z"/><path fill="#3c59c4" d="M680 310h6v6h-6z"/><path fill="#3d5bc5" d="M685 310h6v6h-6z"/><path fill="#3d60c6" d="M690 310h6v6h-6z"/><path fill="#3d64c8" d="M695 310h6v6h-6z"/><path fill="#3d64c8" d="M700 310h6v6h-6z"/><path fill="#3d64c8" d="M705 310h6v6h-6z"/><path fill="#3d63c8" d="M710 310h6v6h-6z"/><path fill="#3d62c8" d="M715 310h6v6h-6z"/><path fill="#5277cf" d="M720 310h6v6h-6z"/><path fill="#688cd6" d="M725 310h6v6h-6z"/><path fill="#7da1dd" d="M730 310h6v6h-6z"/><path fill="#8fb5e3" d="M735 310h6v6h-6z"/><path fill="#a5c6e9" d="M740 310h6v6h-6z"/><path fill="#b9d0ec" d="M745 310h6v6h-6z"/><path fill="#cddaef" d="M750 310h6v6h-6z"/><path fill="#e3e7f2" d="M755 310h6v6h-6z"/><path fill="#f0edf2" d="M760 310h6v6h-6z"/><path fill="#f1edf1" d="M765 310h6v6h-6z"/><path fill="#f2eef1" d="M770 310h6v6h-6z"/><path fill="#f3eef0" d="M775 310h6v6h-6z"/><path fill="#f4eef0" d="M780 310h6v6h-6z"/><path fill="#f5eff0" d="M785 310h6v6h-6z"/><path fill="#f4e1e3" d="M790 310h6v6h-6z"/><path fill="#f1d4d6" d="M795 310h6v6h-6z"/><path fill="#efc6ca" d="M800 310h6v6h-6z"/><path fill="#efb8bc" d="M805 310h6v6h-6z"/><path fill="#efaaae" d="M810 310h6v6h-6z"/><path fill="#ef9ca0" d="M815 310h6v6h-6z"/><path fill="#ef9095" d="M820 310h6v6h-6z"/><path fill="#ee808b" d="M825 310h6v6h-6z"/><path fill="#ee7080" d="M830 310h6v6h-6z"/><path fill="#ed6176" d="M835 310h6v6h-6z"/><path fill="#ec6073" d="M840 310h6v6h-6z"/><path fill="#eb5d6f" d="M845 310h6v6h-6z"/><path fill="#e95567" d="M850 310h6v6h-6z"/><path fill="#e74d5f" d="M855 310h6v6h-6z"/><path fill="#e24553" d="M860 310h6v6h-6z"/><path fill="#df404c" d="M865 310h6v6h-6z"/><path fill="#de3c46" d="M870 310h6v6h-6z"/><path fill="#dd3840" d="M875 310h6v6h-6z"/><path fill="#db343a" d="M880 310h6v6h-6z"/><path fill="#da2f34" d="M885 310h6v6h-6z"/><path fill="#d82b2e" d="M890 310h6v6h-6z"/><path fill="#d72829" d="M895 310h6v6h-6z"/><path fill="#d52728" d="M900 310h6v6h-6z"/><path fill="#d42627" d="M905 310h6v6h-6z"/><path fill="#d22526" d="M910 310h6v6h-6z"/><path fill="#d02425" d="M915 310h6v6h-6z"/><path fill="#ce2324" d="M920 310h6v6h-6z"/><path fill="#cd2224" d="M925 310h6v6h-6z"/><path fill="#cb2223" d="M930 310h6v6h-6z"/><path fill="#c92122" d="M935 310h6v6h-6z"/><path fill="#c82020" d="M940 310h6v6h-6z"/><path fill="#c82020" d="M945 310h6v6h-6z"/><path fill="#c82020" d="M950 310h6v6h-6z"/><path fill="#4050c8" d="M670 315h6v6h-6z"/><path fill="#4050c8" d="M675 315h6v6h-6z"/><path fill="#3d56c5" d="M680 315h6v6h-6z"/><path fill="#3e57c6" d="M685 315h6v6h-6z"/><path fill="#3e5cc7" d="M690 315h6v6h-6z"/><path fill="#3e5fc8" d="M695 315h6v6h-6z"/><path fill="#3e5ec8" d="M700 315h6v6h-6z"/><path fill="#3e5dc8" d="M705 315h6v6h-6z"/><path fill="#3e5cc8" d="M710 315h6v6h-6z"/><path fill="#3e5cc8" d="M715 315h6v6h-6z"/><path fill="#4c69cd" d="M720 315h6v6h-6z"/><path fill="#5e7dd3" d="M725 315h6v6h-6z"/><path fill="#6c8ed9" d="M730 315h6v6h-6z"/><path fill="#7a9fde" d="M735 315h6v6h-6z"/><path fill="#98b6e6" d="M740 315h6v6h-6z"/><path fill="#afc4ea" d="M745 315h6v6h-6z"/><path fill="#c8d4ee" d="M750 315h6v6h-6z"/><path fill="#e3e6f2" d="M755 315h6v6h-6z"/><path fill="#f1edf1" d="M760 315h6v6h-6z"/><path fill="#f1e7ec" d="M765 315h6v6h-6z"/><path fill="#f2e7ec" d="M770 315h6v6h-6z"/><path fill="#f3e8ec" d="M775 315h6v6h-6z"/><path fill="#f4e8ec" d="M780 315h6v6h-6z"/><path fill="#f4e1e5" d="M785 315h6v6h-6z"/><path fill="#f2cdd3" d="M790 315h6v6h-6z"/><path fill="#f0bfc6" d="M795 315h6v6h-6z"/><path fill="#eeafba" d="M800 315h6v6h-6z"/><path fill="#eda0ac" d="M805 315h6v6h-6z"/><path fill="#ed929e" d="M810 315h6v6h-6z"/><path fill="#ed8692" d="M815 315h6v6h-6z"/><path fill="#ed7e8a" d="M820 315h6v6h-6z"/><path fill="#ed7080" d="M825 315h6v6h-6z"/><path fill="#ec6075" d="M830 315h6v6h-6z"/><path fill="#eb576f" d="M835 315h6v6h-6z"/><path fill="#ea566c" d="M840 315h6v6h-6z"/><path fill="#e95569" d="M845 315h6v6h-6z"/><path fill="#e75064" d="M850 315h6v6h-6z"/><path fill="#e5485c" d="M855 315h6v6h-6z"/><path fill="#e04050" d="M860 315h6v6h-6z"/><path fill="#db3a45" d="M865 315h6v6h-6z"/><path fill="#da363f" d="M870 315h6v6h-6z"/><path fill="#d83139" d="M875 315h6v6h-6z"/><path fill="#d72d33" d="M880 315h6v6h-6z"/><path fill="#d5292d" d="M885 315h6v6h-6z"/><path fill="#d5272a" d="M890 315h6v6h-6z"/><path fill="#d42629" d="M895 315h6v6h-6z"/><path fill="#d22529" d="M900 315h6v6h-6z"/><path fill="#d02428" d="M905 315h6v6h-6z"/><path fill="#cf2327" d="M910 315h6v6h-6z"/><path fill="#cd2226" d="M915 315h6v6h-6z"/><path fill="#cb2225" d="M920 315h6v6h-6z"/><path fill="#c92124" d="M925 315h6v6h-6z"/><path fill="#c82020" d="M930 315h6v6h-6z"/><path fill="#c82020" d="M935 315h6v6h-6z"/><path fill="#c82020" d="M940 315h6v6h-6z"/><path fill="#4050c8" d="M675 320h6v6h-6z"/><path fill="#3e54c6" d="M680 320h6v6h-6z"/><path fill="#3e54c6" d="M685 320h6v6h-6z"/><path fill="#3f58c8" d="M690 320h6v6h-6z"/><path fill="#3f58c8" d="M695 320h6v6h-6z"/><path fill="#3f58c8" d="M700 320h6v6h-6z"/><path fill="#3f57c8" d="M705 320h6v6h-6z"/><path fill="#3e56c8" d="M710 320h6v6h-6z"/><path fill="#3f57c8" d="M715 320h6v6h-6z"/><path fill="#3f59c9" d="M720 320h6v6h-6z"/><path fill="#4967ce" d="M725 320h6v6h-6z"/><path fill="#5878d4" d="M730 320h6v6h-6z"/><path fill="#688ada" d="M735 320h6v6h-6z"/><path fill="#88a2e2" d="M740 320h6v6h-6z"/><path fill="#aec1ea" d="M745 320h6v6h-6z"/><path fill="#c9d4ee" d="M750 320h6v6h-6z"/><path fill="#e4e6f2" d="M755 320h6v6h-6z"/><path fill="#f2ecf2" d="M760 320h6v6h-6z"/><path fill="#f1e7ec" d="M765 320h6v6h-6z"/><path fill="#f1e1e8" d="M770 320h6v6h-6z"/><path fill="#f2e1e7" d="M775 320h6v6h-6z"/><path fill="#f3e2e7" d="M780 320h6v6h-6z"/><path fill="#f3cdd5" d="M785 320h6v6h-6z"/><path fill="#f1b8c2" d="M790 320h6v6h-6z"/><path fill="#eea9b6" d="M795 320h6v6h-6z"/><path fill="#ec99aa" d="M800 320h6v6h-6z"/><path fill="#eb8a9e" d="M805 320h6v6h-6z"/><path fill="#eb7c90" d="M810 320h6v6h-6z"/><path fill="#eb7286" d="M815 320h6v6h-6z"/><path fill="#eb6a7e" d="M820 320h6v6h-6z"/><path fill="#eb6075" d="M825 320h6v6h-6z"/><path fill="#ea506b" d="M830 320h6v6h-6z"/><path fill="#e94d67" d="M835 320h6v6h-6z"/><path fill="#e84c65" d="M840 320h6v6h-6z"/><path fill="#e74b62" d="M845 320h6v6h-6z"/><path fill="#e5495f" d="M850 320h6v6h-6z"/><path fill="#e34359" d="M855 320h6v6h-6z"/><path fill="#de3b4d" d="M860 320h6v6h-6z"/><path fill="#d7343e" d="M865 320h6v6h-6z"/><path fill="#d62f38" d="M870 320h6v6h-6z"/><path fill="#d42b32" d="M875 320h6v6h-6z"/><path fill="#d3282d" d="M880 320h6v6h-6z"/><path fill="#d3262c" d="M885 320h6v6h-6z"/><path fill="#d2252b" d="M890 320h6v6h-6z"/><path fill="#d0242a" d="M895 320h6v6h-6z"/><path fill="#cf2329" d="M900 320h6v6h-6z"/><path fill="#cd2228" d="M905 320h6v6h-6z"/><path fill="#cb2227" d="M910 320h6v6h-6z"/><path fill="#c92127" d="M915 320h6v6h-6z"/><path fill="#d82828" d="M920 320h6v6h-6z"/><path fill="#c82020" d="M925 320h6v6h-6z"/><path fill="#c82020" d="M930 320h6v6h-6z"/><path fill="#4050c8" d="M675 325h6v6h-6z"/><path fill="#3f52c7" d="M680 325h6v6h-6z"/><path fill="#3f51c7" d="M685 325h6v6h-6z"/><path fill="#4053c8" d="M690 325h6v6h-6z"/><path fill="#4052c8" d="M695 325h6v6h-6z"/><path fill="#4053c8" d="M700 325h6v6h-6z"/><path fill="#4053c8" d="M705 325h6v6h-6z"/><path fill="#4054c7" d="M710 325h6v6h-6z"/><path fill="#4054c7" d="M715 325h6v6h-6z"/><path fill="#4056c8" d="M720 325h6v6h-6z"/><path fill="#405acc" d="M725 325h6v6h-6z"/><path fill="#4362cf" d="M730 325h6v6h-6z"/><path fill="#5876d6" d="M735 325h6v6h-6z"/><path fill="#9db1e7" d="M740 325h6v6h-6z"/><path fill="#b5c4eb" d="M745 325h6v6h-6z"/><path fill="#cad3ee" d="M750 325h6v6h-6z"/><path fill="#e5e6f2" d="M755 325h6v6h-6z"/><path fill="#f2ecf2" d="M760 325h6v6h-6z"/><path fill="#f2e6ec" d="M765 325h6v6h-6z"/><path fill="#f2e1e8" d="M770 325h6v6h-6z"/><path fill="#f2dbe2" d="M775 325h6v6h-6z"/><path fill="#f2d4dc" d="M780 325h6v6h-6z"/><path fill="#f1b8c4" d="M785 325h6v6h-6z"/><path fill="#f0a3b2" d="M790 325h6v6h-6z"/><path fill="#ee93a6" d="M795 325h6v6h-6z"/><path fill="#ec839a" d="M800 325h6v6h-6z"/><path fill="#ea738e" d="M805 325h6v6h-6z"/><path fill="#e96682" d="M810 325h6v6h-6z"/><path fill="#e95e7a" d="M815 325h6v6h-6z"/><path fill="#e95672" d="M820 325h6v6h-6z"/><path fill="#e94e6a" d="M825 325h6v6h-6z"/><path fill="#e84462" d="M830 325h6v6h-6z"/><path fill="#e74360" d="M835 325h6v6h-6z"/><path fill="#e6425d" d="M840 325h6v6h-6z"/><path fill="#e4405a" d="M845 325h6v6h-6z"/><path fill="#e33f58" d="M850 325h6v6h-6z"/><path fill="#e23e55" d="M855 325h6v6h-6z"/><path fill="#dd364a" d="M860 325h6v6h-6z"/><path fill="#d52e3a" d="M865 325h6v6h-6z"/><path fill="#d12931" d="M870 325h6v6h-6z"/><path fill="#d1272e" d="M875 325h6v6h-6z"/><path fill="#d0262d" d="M880 325h6v6h-6z"/><path fill="#d0242d" d="M885 325h6v6h-6z"/><path fill="#cf232c" d="M890 325h6v6h-6z"/><path fill="#cd232b" d="M895 325h6v6h-6z"/><path fill="#cb222a" d="M900 325h6v6h-6z"/><path fill="#ca2129" d="M905 325h6v6h-6z"/><path fill="#d82828" d="M910 325h6v6h-6z"/><path fill="#d82828" d="M915 325h6v6h-6z"/><path fill="#d82828" d="M920 325h6v6h-6z"/><path fill="#4050c8" d="M675 330h6v6h-6z"/><path fill="#4050c8" d="M680 330h6v6h-6z"/><path fill="#404fc8" d="M685 330h6v6h-6z"/><path fill="#414fc8" d="M690 330h6v6h-6z"/><path fill="#4150c7" d="M695 330h6v6h-6z"/><path fill="#4150c7" d="M700 330h6v6h-6z"/><path fill="#4151c7" d="M705 330h6v6h-6z"/><path fill="#4152c7" d="M710 330h6v6h-6z"/><path fill="#4152c7" d="M715 330h6v6h-6z"/><path fill="#4153c8" d="M720 330h6v6h-6z"/><path fill="#4157cb" d="M725 330h6v6h-6z"/><path fill="#415cce" d="M730 330h6v6h-6z"/><path fill="#6d85db" d="M735 330h6v6h-6z"/><path fill="#acbaeb" d="M740 330h6v6h-6z"/><path fill="#bdc7ed" d="M745 330h6v6h-6z"/><path fill="#ced5ef" d="M750 330h6v6h-6z"/><path fill="#e5e5f2" d="M755 330h6v6h-6z"/><path fill="#f3ecf2" d="M760 330h6v6h-6z"/><path fill="#f3e6ec" d="M765 330h6v6h-6z"/><path fill="#f3e0e8" d="M770 330h6v6h-6z"/><path fill="#f2d5de" d="M775 330h6v6h-6z"/><path fill="#efc0ce" d="M780 330h6v6h-6z"/><path fill="#eea5b7" d="M785 330h6v6h-6z"/><path fill="#ed8ba1" d="M790 330h6v6h-6z"/><path fill="#eb7b95" d="M795 330h6v6h-6z"/><path fill="#e96b89" d="M800 330h6v6h-6z"/><path fill="#e75b7d" d="M805 330h6v6h-6z"/><path fill="#e75778" d="M810 330h6v6h-6z"/><path fill="#e74f70" d="M815 330h6v6h-6z"/><path fill="#e74768" d="M820 330h6v6h-6z"/><path fill="#e73f60" d="M825 330h6v6h-6z"/><path fill="#e63c5d" d="M830 330h6v6h-6z"/><path fill="#e53a5a" d="M835 330h6v6h-6z"/><path fill="#e43958" d="M840 330h6v6h-6z"/><path fill="#e23855" d="M845 330h6v6h-6z"/><path fill="#e13652" d="M850 330h6v6h-6z"/><path fill="#df354f" d="M855 330h6v6h-6z"/><path fill="#dc344b" d="M860 330h6v6h-6z"/><path fill="#d52d3e" d="M865 330h6v6h-6z"/><path fill="#cf2630" d="M870 330h6v6h-6z"/><path fill="#ce252f" d="M875 330h6v6h-6z"/><path fill="#ce242e" d="M880 330h6v6h-6z"/><path fill="#cd232d" d="M885 330h6v6h-6z"/><path fill="#cb222c" d="M890 330h6v6h-6z"/><path fill="#ca212b" d="M895 330h6v6h-6z"/><path fill="#c22232" d="M900 330h6v6h-6z"/><path fill="#d82828" d="M905 330h6v6h-6z"/><path fill="#d82828" d="M910 330h6v6h-6z"/><path fill="#d82828" d="M915 330h6v6h-6z"/><path fill="#4050c8" d="M675 335h6v6h-6z"/><path fill="#414ec7" d="M680 335h6v6h-6z"/><path fill="#424ec7" d="M685 335h6v6h-6z"/><path fill="#424dc7" d="M690 335h6v6h-6z"/><path fill="#424ec7" d="M695 335h6v6h-6z"/><path fill="#424ec7" d="M700 335h6v6h-6z"/><path fill="#424fc6" d="M705 335h6v6h-6z"/><path fill="#424fc6" d="M710 335h6v6h-6z"/><path fill="#4250c7" d="M715 335h6v6h-6z"/><path fill="#4251c8" d="M720 335h6v6h-6z"/><path fill="#4254ca" d="M725 335h6v6h-6z"/><path fill="#4259cd" d="M730 335h6v6h-6z"/><path fill="#8090df" d="M735 335h6v6h-6z"/><path fill="#b4bdec" d="M740 335h6v6h-6z"/><path fill="#c5cbee" d="M745 335h6v6h-6z"/><path fill="#d6d8f0" d="M750 335h6v6h-6z"/><path fill="#e7e6f2" d="M755 335h6v6h-6z"/><path fill="#f4ebf2" d="M760 335h6v6h-6z"/><path fill="#f3e0e8" d="M765 335h6v6h-6z"/><path fill="#f1cedb" d="M770 335h6v6h-6z"/><path fill="#efbbcd" d="M775 335h6v6h-6z"/><path fill="#eca5bb" d="M780 335h6v6h-6z"/><path fill="#ea8fa9" d="M785 335h6v6h-6z"/><path fill="#e87694" d="M790 335h6v6h-6z"/><path fill="#e76082" d="M795 335h6v6h-6z"/><path fill="#e55076" d="M800 335h6v6h-6z"/><path fill="#e4496f" d="M805 335h6v6h-6z"/><path fill="#e54b6e" d="M810 335h6v6h-6z"/><path fill="#e54568" d="M815 335h6v6h-6z"/><path fill="#e53d60" d="M820 335h6v6h-6z"/><path fill="#e5375a" d="M825 335h6v6h-6z"/><path fill="#e43559" d="M830 335h6v6h-6z"/><path fill="#e33357" d="M835 335h6v6h-6z"/><path fill="#e23254" d="M840 335h6v6h-6z"/><path fill="#e13151" d="M845 335h6v6h-6z"/><path fill="#de2f4e" d="M850 335h6v6h-6z"/><path fill="#db2e4a" d="M855 335h6v6h-6z"/><path fill="#d82d46" d="M860 335h6v6h-6z"/><path fill="#d52c42" d="M865 335h6v6h-6z"/><path fill="#d02839" d="M870 335h6v6h-6z"/><path fill="#cc2330" d="M875 335h6v6h-6z"/><path fill="#cb222f" d="M880 335h6v6h-6z"/><path fill="#ca212e" d="M885 335h6v6h-6z"/><path fill="#c8202d" d="M890 335h6v6h-6z"/><path fill="#c82030" d="M895 335h6v6h-6z"/><path fill="#c82030" d="M900 335h6v6h-6z"/><path fill="#c82030" d="M905 335h6v6h-6z"/><path fill="#4050c8" d="M680 340h6v6h-6z"/><path fill="#434cc7" d="M685 340h6v6h-6z"/><path fill="#434bc6" d="M690 340h6v6h-6z"/><path fill="#434bc6" d="M695 340h6v6h-6z"/><path fill="#444cc6" d="M700 340h6v6h-6z"/><path fill="#444dc6" d="M705 340h6v6h-6z"/><path fill="#444dc6" d="M710 340h6v6h-6z"/><path fill="#444ec7" d="M715 340h6v6h-6z"/><path fill="#444fc8" d="M720 340h6v6h-6z"/><path fill="#4451c9" d="M725 340h6v6h-6z"/><path fill="#4356cc" d="M730 340h6v6h-6z"/><path fill="#8f98e2" d="M735 340h6v6h-6z"/><path fill="#bcbeea" d="M740 340h6v6h-6z"/><path fill="#cdccec" d="M745 340h6v6h-6z"/><path fill="#ded9ee" d="M750 340h6v6h-6z"/><path fill="#efe7f0" d="M755 340h6v6h-6z"/><path fill="#f2d9e5" d="M760 340h6v6h-6z"/><path fill="#f0c7d8" d="M765 340h6v6h-6z"/><path fill="#eeb5cb" d="M770 340h6v6h-6z"/><path fill="#eca1bb" d="M775 340h6v6h-6z"/><path fill="#ea8ba9" d="M780 340h6v6h-6z"/><path fill="#e77597" d="M785 340h6v6h-6z"/><path fill="#e55e84" d="M790 340h6v6h-6z"/><path fill="#e34771" d="M795 340h6v6h-6z"/><path fill="#e13865" d="M800 340h6v6h-6z"/><path fill="#e23a64" d="M805 340h6v6h-6z"/><path fill="#e33c63" d="M810 340h6v6h-6z"/><path fill="#e33b60" d="M815 340h6v6h-6z"/><path fill="#e33358" d="M820 340h6v6h-6z"/><path fill="#e33055" d="M825 340h6v6h-6z"/><path fill="#e22e54" d="M830 340h6v6h-6z"/><path fill="#e12c53" d="M835 340h6v6h-6z"/><path fill="#e02b50" d="M840 340h6v6h-6z"/><path fill="#dd2a4d" d="M845 340h6v6h-6z"/><path fill="#da2948" d="M850 340h6v6h-6z"/><path fill="#d72744" d="M855 340h6v6h-6z"/><path fill="#d42640" d="M860 340h6v6h-6z"/><path fill="#d1253c" d="M865 340h6v6h-6z"/><path fill="#ce2438" d="M870 340h6v6h-6z"/><path fill="#cb2334" d="M875 340h6v6h-6z"/><path fill="#c8202f" d="M880 340h6v6h-6z"/><path fill="#c82030" d="M885 340h6v6h-6z"/><path fill="#c82030" d="M890 340h6v6h-6z"/><path fill="#c82030" d="M895 340h6v6h-6z"/><path fill="#4050c8" d="M680 345h6v6h-6z"/><path fill="#444bc6" d="M685 345h6v6h-6z"/><path fill="#4449c6" d="M690 345h6v6h-6z"/><path fill="#4549c6" d="M695 345h6v6h-6z"/><path fill="#454ac5" d="M700 345h6v6h-6z"/><path fill="#454ac5" d="M705 345h6v6h-6z"/><path fill="#454bc6" d="M710 345h6v6h-6z"/><path fill="#454cc7" d="M715 345h6v6h-6z"/><path fill="#454cc7" d="M720 345h6v6h-6z"/><path fill="#454ec8" d="M725 345h6v6h-6z"/><path fill="#4c58cd" d="M730 345h6v6h-6z"/><path fill="#9396e0" d="M735 345h6v6h-6z"/><path fill="#b9b5e4" d="M740 345h6v6h-6z"/><path fill="#d4cbe7" d="M745 345h6v6h-6z"/><path fill="#e6d8e9" d="M750 345h6v6h-6z"/><path fill="#efd5e2" d="M755 345h6v6h-6z"/><path fill="#efc1d4" d="M760 345h6v6h-6z"/><path fill="#edaec7" d="M765 345h6v6h-6z"/><path fill="#eb9cba" d="M770 345h6v6h-6z"/><path fill="#e986a8" d="M775 345h6v6h-6z"/><path fill="#e77096" d="M780 345h6v6h-6z"/><path fill="#e45a84" d="M785 345h6v6h-6z"/><path fill="#e24472" d="M790 345h6v6h-6z"/><path fill="#e13766" d="M795 345h6v6h-6z"/><path fill="#e02f5e" d="M800 345h6v6h-6z"/><path fill="#e02d5a" d="M805 345h6v6h-6z"/><path fill="#e02d57" d="M810 345h6v6h-6z"/><path fill="#e12f56" d="M815 345h6v6h-6z"/><path fill="#e12b52" d="M820 345h6v6h-6z"/><path fill="#e02951" d="M825 345h6v6h-6z"/><path fill="#e02850" d="M830 345h6v6h-6z"/><path fill="#df2850" d="M835 345h6v6h-6z"/><path fill="#dd274e" d="M840 345h6v6h-6z"/><path fill="#da264a" d="M845 345h6v6h-6z"/><path fill="#d72545" d="M850 345h6v6h-6z"/><path fill="#d42441" d="M855 345h6v6h-6z"/><path fill="#d1233d" d="M860 345h6v6h-6z"/><path fill="#ce2239" d="M865 345h6v6h-6z"/><path fill="#cb2135" d="M870 345h6v6h-6z"/><path fill="#c82030" d="M875 345h6v6h-6z"/><path fill="#c82030" d="M880 345h6v6h-6z"/><path fill="#c82030" d="M885 345h6v6h-6z"/><path fill="#4844c4" d="M680 350h6v6h-6z"/><path fill="#4549c6" d="M685 350h6v6h-6z"/><path fill="#4648c5" d="M690 350h6v6h-6z"/><path fill="#4647c5" d="M695 350h6v6h-6z"/><path fill="#4648c5" d="M700 350h6v6h-6z"/><path fill="#4648c5" d="M705 350h6v6h-6z"/><path fill="#4649c6" d="M710 350h6v6h-6z"/><path fill="#464ac7" d="M715 350h6v6h-6z"/><path fill="#464ac7" d="M720 350h6v6h-6z"/><path fill="#464bc8" d="M725 350h6v6h-6z"/><path fill="#5a60d0" d="M730 350h6v6h-6z"/><path fill="#8c89d9" d="M735 350h6v6h-6z"/><path fill="#b2a8dd" d="M740 350h6v6h-6z"/><path fill="#d8c7e1" d="M745 350h6v6h-6z"/><path fill="#ead2e1" d="M750 350h6v6h-6z"/><path fill="#ecbdd1" d="M755 350h6v6h-6z"/><path fill="#eca9c3" d="M760 350h6v6h-6z"/><path fill="#ea96b7" d="M765 350h6v6h-6z"/><path fill="#e882a8" d="M770 350h6v6h-6z"/><path fill="#e66c96" d="M775 350h6v6h-6z"/><path fill="#e55f8a" d="M780 350h6v6h-6z"/><path fill="#e3517e" d="M785 350h6v6h-6z"/><path fill="#e24472" d="M790 350h6v6h-6z"/><path fill="#e13766" d="M795 350h6v6h-6z"/><path fill="#e02f5e" d="M800 350h6v6h-6z"/><path fill="#e02d5a" d="M805 350h6v6h-6z"/><path fill="#e02b56" d="M810 350h6v6h-6z"/><path fill="#df2a53" d="M815 350h6v6h-6z"/><path fill="#df2850" d="M820 350h6v6h-6z"/><path fill="#de2850" d="M825 350h6v6h-6z"/><path fill="#de2850" d="M830 350h6v6h-6z"/><path fill="#dd2850" d="M835 350h6v6h-6z"/><path fill="#db274d" d="M840 350h6v6h-6z"/><path fill="#d82649" d="M845 350h6v6h-6z"/><path fill="#d52545" d="M850 350h6v6h-6z"/><path fill="#d22441" d="M855 350h6v6h-6z"/><path fill="#ce233d" d="M860 350h6v6h-6z"/><path fill="#c82030" d="M865 350h6v6h-6z"/><path fill="#c82030" d="M870 350h6v6h-6z"/><path fill="#c82030" d="M875 350h6v6h-6z"/><path fill="#4a44c4" d="M685 355h6v6h-6z"/><path fill="#4747c5" d="M690 355h6v6h-6z"/><path fill="#4745c4" d="M695 355h6v6h-6z"/><path fill="#4745c4" d="M700 355h6v6h-6z"/><path fill="#4746c5" d="M705 355h6v6h-6z"/><path fill="#4747c6" d="M710 355h6v6h-6z"/><path fill="#4747c6" d="M715 355h6v6h-6z"/><path fill="#4748c7" d="M720 355h6v6h-6z"/><path fill="#4749c8" d="M725 355h6v6h-6z"/><path fill="#5f5ece" d="M730 355h6v6h-6z"/><path fill="#857dd2" d="M735 355h6v6h-6z"/><path fill="#ab9bd6" d="M740 355h6v6h-6z"/><path fill="#d1b9dc" d="M745 355h6v6h-6z"/><path fill="#e6bcd3" d="M750 355h6v6h-6z"/><path fill="#e9a6c0" d="M755 355h6v6h-6z"/><path fill="#e992b2" d="M760 355h6v6h-6z"/><path fill="#e67fa7" d="M765 355h6v6h-6z"/><path fill="#e4709c" d="M770 355h6v6h-6z"/><path fill="#e36290" d="M775 355h6v6h-6z"/><path fill="#e15584" d="M780 355h6v6h-6z"/><path fill="#e04878" d="M785 355h6v6h-6z"/><path fill="#df3a6c" d="M790 355h6v6h-6z"/><path fill="#de2f62" d="M795 355h6v6h-6z"/><path fill="#de2f60" d="M800 355h6v6h-6z"/><path fill="#de2e5d" d="M805 355h6v6h-6z"/><path fill="#de2d59" d="M810 355h6v6h-6z"/><path fill="#dd2b56" d="M815 355h6v6h-6z"/><path fill="#dd2953" d="M820 355h6v6h-6z"/><path fill="#dc2850" d="M825 355h6v6h-6z"/><path fill="#dc2850" d="M830 355h6v6h-6z"/><path fill="#db2850" d="M835 355h6v6h-6z"/><path fill="#d8274c" d="M840 355h6v6h-6z"/><path fill="#d52648" d="M845 355h6v6h-6z"/><path fill="#d22544" d="M850 355h6v6h-6z"/><path fill="#e02850" d="M855 355h6v6h-6z"/><path fill="#c82030" d="M860 355h6v6h-6z"/><path fill="#c82030" d="M865 355h6v6h-6z"/><path fill="#4a44c4" d="M685 360h6v6h-6z"/><path fill="#4845c4" d="M690 360h6v6h-6z"/><path fill="#4944c4" d="M695 360h6v6h-6z"/><path fill="#4944c4" d="M700 360h6v6h-6z"/><path fill="#4945c5" d="M705 360h6v6h-6z"/><path fill="#4945c5" d="M710 360h6v6h-6z"/><path fill="#4946c6" d="M715 360h6v6h-6z"/><path fill="#4947c7" d="M720 360h6v6h-6z"/><path fill="#4947c7" d="M725 360h6v6h-6z"/><path fill="#544ec8" d="M730 360h6v6h-6z"/><path fill="#7d6dce" d="M735 360h6v6h-6z"/><path fill="#a38bd2" d="M740 360h6v6h-6z"/><path fill="#c9a9d8" d="M745 360h6v6h-6z"/><path fill="#deaccf" d="M750 360h6v6h-6z"/><path fill="#e294b9" d="M755 360h6v6h-6z"/><path fill="#e37ea6" d="M760 360h6v6h-6z"/><path fill="#e06c9c" d="M765 360h6v6h-6z"/><path fill="#de5d91" d="M770 360h6v6h-6z"/><path fill="#dc4f85" d="M775 360h6v6h-6z"/><path fill="#db4279" d="M780 360h6v6h-6z"/><path fill="#da356d" d="M785 360h6v6h-6z"/><path fill="#d92c65" d="M790 360h6v6h-6z"/><path fill="#d93067" d="M795 360h6v6h-6z"/><path fill="#da2f63" d="M800 360h6v6h-6z"/><path fill="#da2e60" d="M805 360h6v6h-6z"/><path fill="#da2d5d" d="M810 360h6v6h-6z"/><path fill="#db2c59" d="M815 360h6v6h-6z"/><path fill="#db2b56" d="M820 360h6v6h-6z"/><path fill="#da2952" d="M825 360h6v6h-6z"/><path fill="#da2850" d="M830 360h6v6h-6z"/><path fill="#d9284f" d="M835 360h6v6h-6z"/><path fill="#d6274b" d="M840 360h6v6h-6z"/><path fill="#d82850" d="M845 360h6v6h-6z"/><path fill="#d82850" d="M850 360h6v6h-6z"/><path fill="#d82850" d="M855 360h6v6h-6z"/><path fill="#4a44c4" d="M685 365h6v6h-6z"/><path fill="#4a44c4" d="M690 365h6v6h-6z"/><path fill="#4a44c4" d="M695 365h6v6h-6z"/><path fill="#4a43c3" d="M700 365h6v6h-6z"/><path fill="#4a44c4" d="M705 365h6v6h-6z"/><path fill="#4a44c4" d="M710 365h6v6h-6z"/><path fill="#4a45c5" d="M715 365h6v6h-6z"/><path fill="#4a46c6" d="M720 365h6v6h-6z"/><path fill="#4b45c5" d="M725 365h6v6h-6z"/><path fill="#4c44c4" d="M730 365h6v6h-6z"/><path fill="#6b5ac8" d="M735 365h6v6h-6z"/><path fill="#987ace" d="M740 365h6v6h-6z"/><path fill="#c199d4" d="M745 365h6v6h-6z"/><path fill="#d69ccb" d="M750 365h6v6h-6z"/><path fill="#d984b4" d="M755 365h6v6h-6z"/><path fill="#db6c9e" d="M760 365h6v6h-6z"/><path fill="#da5991" d="M765 365h6v6h-6z"/><path fill="#d74986" d="M770 365h6v6h-6z"/><path fill="#d63c7a" d="M775 365h6v6h-6z"/><path fill="#d52f6e" d="M780 365h6v6h-6z"/><path fill="#d42a69" d="M785 365h6v6h-6z"/><path fill="#d52d6a" d="M790 365h6v6h-6z"/><path fill="#d5306a" d="M795 365h6v6h-6z"/><path fill="#d52f67" d="M800 365h6v6h-6z"/><path fill="#d62e63" d="M805 365h6v6h-6z"/><path fill="#d62d60" d="M810 365h6v6h-6z"/><path fill="#d62c5d" d="M815 365h6v6h-6z"/><path fill="#d72b59" d="M820 365h6v6h-6z"/><path fill="#d72a56" d="M825 365h6v6h-6z"/><path fill="#d72852" d="M830 365h6v6h-6z"/><path fill="#d82850" d="M835 365h6v6h-6z"/><path fill="#d82850" d="M840 365h6v6h-6z"/><path fill="#d82850" d="M845 365h6v6h-6z"/><path fill="#4a44c4" d="M685 370h6v6h-6z"/><path fill="#4a44c4" d="M690 370h6v6h-6z"/><path fill="#4b43c3" d="M695 370h6v6h-6z"/><path fill="#4b43c3" d="M700 370h6v6h-6z"/><path fill="#4b43c3" d="M705 370h6v6h-6z"/><path fill="#4b43c3" d="M710 370h6v6h-6z"/><path fill="#4b44c4" d="M715 370h6v6h-6z"/><path fill="#4c44c4" d="M720 370h6v6h-6z"/><path fill="#4d43c3" d="M725 370h6v6h-6z"/><path fill="#4e42c2" d="M730 370h6v6h-6z"/><path fill="#5647c2" d="M735 370h6v6h-6z"/><path fill="#8366c8" d="M740 370h6v6h-6z"/><path fill="#af84cd" d="M745 370h6v6h-6z"/><path fill="#cb8ac5" d="M750 370h6v6h-6z"/><path fill="#cf74b0" d="M755 370h6v6h-6z"/><path fill="#d25c99" d="M760 370h6v6h-6z"/><path fill="#d34686" d="M765 370h6v6h-6z"/><path fill="#d1367b" d="M770 370h6v6h-6z"/><path fill="#d0296f" d="M775 370h6v6h-6z"/><path fill="#cf276c" d="M780 370h6v6h-6z"/><path fill="#d02b6d" d="M785 370h6v6h-6z"/><path fill="#d02e6f" d="M790 370h6v6h-6z"/><path fill="#d1306e" d="M795 370h6v6h-6z"/><path fill="#d12e6a" d="M800 370h6v6h-6z"/><path fill="#d12d67" d="M805 370h6v6h-6z"/><path fill="#d22c63" d="M810 370h6v6h-6z"/><path fill="#d22b60" d="M815 370h6v6h-6z"/><path fill="#d22a5d" d="M820 370h6v6h-6z"/><path fill="#d82850" d="M825 370h6v6h-6z"/><path fill="#d82850" d="M830 370h6v6h-6z"/><path fill="#d82850" d="M835 370h6v6h-6z"/><path fill="#4a44c4" d="M690 375h6v6h-6z"/><path fill="#4c42c2" d="M695 375h6v6h-6z"/><path fill="#4d42c2" d="M700 375h6v6h-6z"/><path fill="#4d42c2" d="M705 375h6v6h-6z"/><path fill="#4d43c3" d="M710 375h6v6h-6z"/><path fill="#4d43c3" d="M715 375h6v6h-6z"/><path fill="#4e42c2" d="M720 375h6v6h-6z"/><path fill="#4f41c1" d="M725 375h6v6h-6z"/><path fill="#5040c0" d="M730 375h6v6h-6z"/><path fill="#5140c0" d="M735 375h6v6h-6z"/><path fill="#6e4bbe" d="M740 375h6v6h-6z"/><path fill="#9b67c1" d="M745 375h6v6h-6z"/><path fill="#ba72bc" d="M750 375h6v6h-6z"/><path fill="#c15ea8" d="M755 375h6v6h-6z"/><path fill="#c74a93" d="M760 375h6v6h-6z"/><path fill="#cb347e" d="M765 375h6v6h-6z"/><path fill="#cb2370" d="M770 375h6v6h-6z"/><path fill="#cb2570" d="M775 375h6v6h-6z"/><path fill="#cb2871" d="M780 375h6v6h-6z"/><path fill="#cc2c72" d="M785 375h6v6h-6z"/><path fill="#cc2f74" d="M790 375h6v6h-6z"/><path fill="#cc2f71" d="M795 375h6v6h-6z"/><path fill="#cd2e6e" d="M800 375h6v6h-6z"/><path fill="#cd2d6a" d="M805 375h6v6h-6z"/><path fill="#cd2c67" d="M810 375h6v6h-6z"/><path fill="#d82850" d="M815 375h6v6h-6z"/><path fill="#d82850" d="M820 375h6v6h-6z"/><path fill="#d82850" d="M825 375h6v6h-6z"/><path fill="#5040c0" d="M690 380h6v6h-6z"/><path fill="#4e41c1" d="M695 380h6v6h-6z"/><path fill="#4e41c1" d="M700 380h6v6h-6z"/><path fill="#4e41c1" d="M705 380h6v6h-6z"/><path fill="#4e42c2" d="M710 380h6v6h-6z"/><path fill="#4f41c1" d="M715 380h6v6h-6z"/><path fill="#5040c0" d="M720 380h6v6h-6z"/><path fill="#5140c0" d="M725 380h6v6h-6z"/><path fill="#5240c0" d="M730 380h6v6h-6z"/><path fill="#5440c0" d="M735 380h6v6h-6z"/><path fill="#643eb9" d="M740 380h6v6h-6z"/><path fill="#864ab6" d="M745 380h6v6h-6z"/><path fill="#aa5ab3" d="M750 380h6v6h-6z"/><path fill="#b0469f" d="M755 380h6v6h-6z"/><path fill="#b6328a" d="M760 380h6v6h-6z"/><path fill="#bf2378" d="M765 380h6v6h-6z"/><path fill="#c52374" d="M770 380h6v6h-6z"/><path fill="#c62674" d="M775 380h6v6h-6z"/><path fill="#c72976" d="M780 380h6v6h-6z"/><path fill="#c72d77" d="M785 380h6v6h-6z"/><path fill="#c83078" d="M790 380h6v6h-6z"/><path fill="#c82f75" d="M795 380h6v6h-6z"/><path fill="#c82e71" d="M800 380h6v6h-6z"/><path fill="#c03080" d="M805 380h6v6h-6z"/><path fill="#c03080" d="M810 380h6v6h-6z"/><path fill="#d82850" d="M815 380h6v6h-6z"/><path fill="#d82850" d="M820 380h6v6h-6z"/><path fill="#5040c0" d="M695 385h6v6h-6z"/><path fill="#4f40c0" d="M700 385h6v6h-6z"/><path fill="#4f40c0" d="M705 385h6v6h-6z"/><path fill="#5040c0" d="M710 385h6v6h-6z"/><path fill="#5140c0" d="M715 385h6v6h-6z"/><path fill="#5240c0" d="M720 385h6v6h-6z"/><path fill="#5340c0" d="M725 385h6v6h-6z"/><path fill="#5540c0" d="M730 385h6v6h-6z"/><path fill="#5640c0" d="M735 385h6v6h-6z"/><path fill="#643eba" d="M740 385h6v6h-6z"/><path fill="#7b3bb0" d="M745 385h6v6h-6z"/><path fill="#9942aa" d="M750 385h6v6h-6z"/><path fill="#a13097" d="M755 385h6v6h-6z"/><path fill="#ae2888" d="M760 385h6v6h-6z"/><path fill="#b6257f" d="M765 385h6v6h-6z"/><path fill="#ba277e" d="M770 385h6v6h-6z"/><path fill="#be297d" d="M775 385h6v6h-6z"/><path fill="#c22a7b" d="M780 385h6v6h-6z"/><path fill="#c32e7c" d="M785 385h6v6h-6z"/><path fill="#c3307c" d="M790 385h6v6h-6z"/><path fill="#c03080" d="M795 385h6v6h-6z"/><path fill="#c03080" d="M800 385h6v6h-6z"/><path fill="#c03080" d="M805 385h6v6h-6z"/><path fill="#c03080" d="M810 385h6v6h-6z"/><path fill="#5040c0" d="M695 390h6v6h-6z"/><path fill="#5140c0" d="M700 390h6v6h-6z"/><path fill="#5140c0" d="M705 390h6v6h-6z"/><path fill="#5240c0" d="M710 390h6v6h-6z"/><path fill="#5340c0" d="M715 390h6v6h-6z"/><path fill="#5540c0" d="M720 390h6v6h-6z"/><path fill="#5640c0" d="M725 390h6v6h-6z"/><path fill="#5740c0" d="M730 390h6v6h-6z"/><path fill="#5940c0" d="M735 390h6v6h-6z"/><path fill="#5d3fbe" d="M740 390h6v6h-6z"/><path fill="#733cb5" d="M745 390h6v6h-6z"/><path fill="#8a38ab" d="M750 390h6v6h-6z"/><path fill="#9c2e97" d="M755 390h6v6h-6z"/><path fill="#a7278a" d="M760 390h6v6h-6z"/><path fill="#ab2989" d="M765 390h6v6h-6z"/><path fill="#af2b88" d="M770 390h6v6h-6z"/><path fill="#b32d86" d="M775 390h6v6h-6z"/><path fill="#b72f85" d="M780 390h6v6h-6z"/><path fill="#9c328f" d="M785 390h6v6h-6z"/><path fill="#c03080" d="M790 390h6v6h-6z"/><path fill="#c03080" d="M795 390h6v6h-6z"/><path fill="#c03080" d="M800 390h6v6h-6z"/><path fill="#5040c0" d="M700 395h6v6h-6z"/><path fill="#5440c0" d="M705 395h6v6h-6z"/><path fill="#5540c0" d="M710 395h6v6h-6z"/><path fill="#5640c0" d="M715 395h6v6h-6z"/><path fill="#5740c0" d="M720 395h6v6h-6z"/><path fill="#5940c0" d="M725 395h6v6h-6z"/><path fill="#5a40c0" d="M730 395h6v6h-6z"/><path fill="#5c40bf" d="M735 395h6v6h-6z"/><path fill="#623ebc" d="M740 395h6v6h-6z"/><path fill="#683dba" d="M745 395h6v6h-6z"/><path fill="#7b3ab2" d="M750 395h6v6h-6z"/><path fill="#9032a2" d="M755 395h6v6h-6z"/><path fill="#9b2c96" d="M760 395h6v6h-6z"/><path fill="#9f2f95" d="M765 395h6v6h-6z"/><path fill="#a23194" d="M770 395h6v6h-6z"/><path fill="#a63394" d="M775 395h6v6h-6z"/><path fill="#c03080" d="M780 395h6v6h-6z"/><path fill="#c03080" d="M785 395h6v6h-6z"/><path fill="#c03080" d="M790 395h6v6h-6z"/><path fill="#5a40c0" d="M700 400h6v6h-6z"/><path fill="#5740c0" d="M705 400h6v6h-6z"/><path fill="#5840c0" d="M710 400h6v6h-6z"/><path fill="#5940c0" d="M715 400h6v6h-6z"/><path fill="#5a40c0" d="M720 400h6v6h-6z"/><path fill="#5b40c0" d="M725 400h6v6h-6z"/><path fill="#5d40c0" d="M730 400h6v6h-6z"/><path fill="#613fbe" d="M735 400h6v6h-6z"/><path fill="#673ebb" d="M740 400h6v6h-6z"/><path fill="#6d3cb8" d="M745 400h6v6h-6z"/><path fill="#733bb5" d="M750 400h6v6h-6z"/><path fill="#8238af" d="M755 400h6v6h-6z"/><path fill="#8e33a4" d="M760 400h6v6h-6z"/><path fill="#9135a3" d="M765 400h6v6h-6z"/><path fill="#8038b0" d="M770 400h6v6h-6z"/><path fill="#c03080" d="M775 400h6v6h-6z"/><path fill="#c03080" d="M780 400h6v6h-6z"/><path fill="#5a40c0" d="M705 405h6v6h-6z"/><path fill="#5a40c0" d="M710 405h6v6h-6z"/><path fill="#5c40c0" d="M715 405h6v6h-6z"/><path fill="#5d40c0" d="M720 405h6v6h-6z"/><path fill="#5e40c0" d="M725 405h6v6h-6z"/><path fill="#6040bf" d="M730 405h6v6h-6z"/><path fill="#663ebc" d="M735 405h6v6h-6z"/><path fill="#6c3dba" d="M740 405h6v6h-6z"/><path fill="#723bb7" d="M745 405h6v6h-6z"/><path fill="#783ab4" d="M750 405h6v6h-6z"/><path fill="#7d39b1" d="M755 405h6v6h-6z"/><path fill="#8038b0" d="M760 405h6v6h-6z"/><path fill="#8038b0" d="M765 405h6v6h-6z"/><path fill="#8038b0" d="M770 405h6v6h-6z"/><path fill="#5a40c0" d="M705 410h6v6h-6z"/><path fill="#5a40c0" d="M710 410h6v6h-6z"/><path fill="#5d40be" d="M715 410h6v6h-6z"/><path fill="#5e40be" d="M720 410h6v6h-6z"/><path fill="#6040bf" d="M725 410h6v6h-6z"/><path fill="#643fbd" d="M730 410h6v6h-6z"/><path fill="#693eba" d="M735 410h6v6h-6z"/><path fill="#6f3cb7" d="M740 410h6v6h-6z"/><path fill="#743bb4" d="M745 410h6v6h-6z"/><path fill="#8038b0" d="M750 410h6v6h-6z"/><path fill="#8038b0" d="M755 410h6v6h-6z"/><path fill="#8038b0" d="M760 410h6v6h-6z"/><path fill="#5a40c0" d="M710 415h6v6h-6z"/><path fill="#6040b8" d="M715 415h6v6h-6z"/><path fill="#5f40bc" d="M720 415h6v6h-6z"/><path fill="#6040bc" d="M725 415h6v6h-6z"/><path fill="#663fb9" d="M730 415h6v6h-6z"/><path fill="#6b3db6" d="M735 415h6v6h-6z"/><path fill="#6040c0" d="M740 415h6v6h-6z"/><path fill="#8038b0" d="M745 415h6v6h-6z"/><path fill="#8038b0" d="M750 415h6v6h-6z"/><path fill="#6040b8" d="M710 420h6v6h-6z"/><path fill="#6040b8" d="M715 420h6v6h-6z"/><path fill="#6040b8" d="M720 420h6v6h-6z"/><path fill="#6240b8" d="M725 420h6v6h-6z"/><path fill="#6040b8" d="M730 420h6v6h-6z"/><path fill="#6040b8" d="M735 420h6v6h-6z"/><path fill="#6040c0" d="M740 420h6v6h-6z"/><path fill="#6040b8" d="M720 425h6v6h-6z"/><path fill="#6040b8" d="M725 425h6v6h-6z"/><path fill="#6040b8" d="M730 425h6v6h-6z"/><path fill="#6040b8" d="M725 430h6v6h-6z"/></g></g>
<g clip-path="url(#hs)" fill="none" stroke="#202020" stroke-width="0.7" opacity="0.25"><polyline points="660.0,197.0 700.0,220.0 740.0,243.0 766.4,255.3"/><polyline points="716.0,122.0 735.0,155.0 752.7,188.5 762.0,220.0 769.9,250.0"/><polyline points="796.0,146.0 795.0,190.0 794.0,236.0"/><polyline points="814.0,166.0 812.0,200.0 811.0,233.0"/><polyline points="744.4,327.7 745.7,307.0 753.4,289.0 765.0,275.0 778.0,266.0"/><polyline points="748.3,338.0 763.7,343.0 784.3,314.8 804.8,294.3 822.8,281.4 838.0,270.0 853.7,256.0 868.0,247.0"/><polyline points="681.9,308.3 710.0,301.0 742.0,293.7"/><polyline points="707.4,403.0 725.0,372.0 748.3,338.0"/><polyline points="784.3,314.8 786.8,350.0 789.0,380.0 791.0,392.0"/><polyline points="822.8,281.4 846.0,277.0 870.0,273.7 895.0,268.0"/><polyline points="838.0,270.0 860.0,262.0 885.0,255.0"/><polyline points="758.6,232.0 761.0,255.7"/><polyline points="693.0,330.0 720.0,330.0 744.0,318.0"/><polyline points="850.0,243.0 853.7,256.0"/></g>
<polyline points="683.0,57.5 691.0,55.6 700.0,57.0 710.0,61.4 722.9,69.1 735.7,79.4 748.6,90.9 761.4,102.5 772.9,112.7 785.7,125.5 798.6,139.6 811.0,155.2 822.9,168.0 835.7,180.8 848.6,195.0 857.6,206.6 868.5,221.5 886.0,243.0 896.5,251.0 908.5,263.0 915.7,269.6 932.4,289.1 946.4,309.5" fill="none" stroke="#d0e8b0" stroke-width="1" opacity="0.35"/>
<g font-family="'Liberation Sans',Arial,sans-serif" font-size="3.8" font-weight="bold" fill="#c8c8c8" filter="url(#tb)"><text x="684" y="49.5">520</text><text x="651" y="93">510</text><text x="650" y="188">500</text><text x="663.5" y="299">490</text><text x="681" y="371">480</text><text x="702" y="412">470</text><text x="709" y="423">460</text><text x="717" y="430">450</text><text x="726" y="436.5">380</text><text x="721" y="65.5">530</text><text x="753" y="88">540</text><text x="781" y="117">550</text><text x="809" y="147">560</text><text x="837" y="179">570</text><text x="864" y="208">580</text><text x="888" y="233">590</text><text x="909" y="259">600</text><text x="924" y="277.5">610</text><text x="936" y="289">620</text><text x="941" y="297">630</text><text x="947" y="301.5">640</text><text x="951" y="306">650</text><text x="955" y="310.5">700</text><text x="858" y="186">Standard</text><text x="858" y="191">Illuminant</text><text x="899" y="166.0" font-size="3.6">Source A</text><text x="915" y="166.0" font-size="3.6">x 0.4476</text><text x="915" y="169.8" font-size="3.6">y 0.4075</text><text x="899" y="173.6" font-size="3.6">Source B</text><text x="915" y="173.6" font-size="3.6">x 0.3484</text><text x="915" y="177.4" font-size="3.6">y 0.3516</text><text x="899" y="181.2" font-size="3.6">Source C</text><text x="915" y="181.2" font-size="3.6">x 0.3101</text><text x="915" y="185.0" font-size="3.6">y 0.3162</text><text x="899" y="188.8" font-size="3.6">Source D</text><text x="915" y="188.8" font-size="3.6">x 0.3127</text><text x="899" y="192.6" font-size="3.6">Illum E</text><text x="915" y="192.6" font-size="3.6">y 0.3290</text><text x="899" y="196.4" font-size="3.6">Source E</text><text x="915" y="196.4" font-size="3.6">x 0.3333</text><text x="915" y="200.2" font-size="3.6">y 0.3333</text><text x="908" y="345.5" font-size="3.8">NEUTRAL SOURCE</text><text x="913" y="349.5" font-size="3.8">REGION</text><text x="829" y="405.5" font-size="3.4">LOCI OF CONSTANT TEMPERATURE IN KELVINS</text><text x="681" y="418" font-size="4">Purple</text><text x="681" y="422.5" font-size="4">line</text></g>
<g fill="none" stroke="#c8c8c8" stroke-width="0.7"><polyline points="958,313 958.5,327 943,345 936,345"/><polyline points="852,189 857,186"/><polyline points="696,418 706,413"/></g>
<g font-family="'Liberation Sans',Arial,sans-serif" font-size="4.6" font-weight="bold" fill="#d0d0d0" filter="url(#tb)"><text transform="translate(753.6,415) rotate(90)" textLength="17" lengthAdjust="spacingAndGlyphs">25000</text><text transform="translate(761.1,415) rotate(90)" textLength="17" lengthAdjust="spacingAndGlyphs">20000</text><text transform="translate(770.6,415) rotate(90)" textLength="17" lengthAdjust="spacingAndGlyphs">15000</text><text transform="translate(783.0,415) rotate(90)" textLength="17" lengthAdjust="spacingAndGlyphs">12000</text><text transform="translate(798.2,415) rotate(90)" textLength="17" lengthAdjust="spacingAndGlyphs">10000</text><text transform="translate(816.6,415) rotate(90)" textLength="17" lengthAdjust="spacingAndGlyphs">8000</text><text transform="translate(836.9,415) rotate(90)" textLength="17" lengthAdjust="spacingAndGlyphs">6000</text><text transform="translate(853.9,415) rotate(90)" textLength="17" lengthAdjust="spacingAndGlyphs">5000</text><text transform="translate(872.2,415) rotate(90)" textLength="17" lengthAdjust="spacingAndGlyphs">4000</text><text transform="translate(892.6,415) rotate(90)" textLength="17" lengthAdjust="spacingAndGlyphs">3000</text><text transform="translate(919.2,415) rotate(90)" textLength="17" lengthAdjust="spacingAndGlyphs">2000</text></g>
<polyline points="786.0,278.5 793.0,271.8 802.0,264.3 811.0,257.3 822.0,250.5 834.3,246.0 844.0,243.0 853.2,241.3 863.0,241.0 872.0,241.8 880.0,243.8 886.2,246.5 892.0,250.0" fill="none" stroke="#333" stroke-width="1" opacity="0.75"/>
<polyline points="748.3,326.7 756.0,313.0 763.6,300.8 771.0,292.0 779.0,285.0 786.0,278.5" fill="none" stroke="#333" stroke-width="2.2" stroke-dasharray="2.2 1.3" opacity="0.5"/>
<g stroke="#333" stroke-width="1.2" opacity="0.7"><line x1="810" y1="255" x2="812" y2="260"/><line x1="833.5" y1="243.5" x2="834.5" y2="248.5"/><line x1="853" y1="238.5" x2="853.5" y2="243.5"/><line x1="871.5" y1="239.5" x2="871" y2="244.5"/></g>
<g font-family="'Liberation Sans',Arial,sans-serif" font-size="3.6" font-weight="bold" fill="#333" opacity="0.8" filter="url(#tb)"><text x="773" y="273.5">D65</text><text x="771" y="284.5">6500</text><text x="785.5" y="281">C</text><text x="777" y="292">B</text><text x="795" y="276">A</text></g>
<g stroke="#333" stroke-width="1" opacity="0.7"><line x1="789" y1="276" x2="790.5" y2="282"/><line x1="786" y1="262" x2="789" y2="269"/><line x1="780" y1="286" x2="781" y2="292"/></g>
<g stroke="#111" stroke-width="2"><line x1="767" y1="267.6" x2="790.5" y2="267.6"/><line x1="778.8" y1="257" x2="778.8" y2="279"/></g>
<g font-family="'Liberation Mono','Courier New',monospace" font-size="19.8" font-weight="bold" fill="#f4f4f4"><text y="61.3" text-anchor="middle" ><tspan x="716.94">x</tspan><tspan x="740.70">=</tspan><tspan x="764.46" font-family="'Liberation Sans',Arial,sans-serif" font-size="19.21">0</tspan><tspan x="776.34">.</tspan><tspan x="788.22">3</tspan><tspan x="800.10">1</tspan><tspan x="811.98" font-family="'Liberation Sans',Arial,sans-serif" font-size="19.21">0</tspan><tspan x="823.86">2</tspan><tspan x="847.62">y</tspan><tspan x="871.38">=</tspan><tspan x="895.14" font-family="'Liberation Sans',Arial,sans-serif" font-size="19.21">0</tspan><tspan x="907.02">.</tspan><tspan x="918.90">3</tspan><tspan x="930.78">4</tspan><tspan x="942.66">6</tspan><tspan x="954.54">8</tspan></text><text y="90.8" text-anchor="middle" ><tspan x="829.24">T</tspan><tspan x="841.12">c</tspan><tspan x="864.88">=</tspan><tspan x="888.64">6</tspan><tspan x="900.52">5</tspan><tspan x="912.40" font-family="'Liberation Sans',Arial,sans-serif" font-size="19.21">0</tspan><tspan x="924.28">6</tspan><tspan x="936.16">K</tspan></text></g>
<g font-family="'Liberation Sans',Arial,sans-serif" font-size="6.2" font-weight="bold" fill="#585858" text-anchor="middle" filter="url(#tb)"><text x="657.0" y="454.5">0</text><text x="696.6" y="454.5">1</text><text x="736.2" y="454.5">2</text><text x="775.8" y="454.5">3</text><text x="815.4" y="454.5">4</text><text x="855.0" y="454.5">5</text><text x="894.6" y="454.5">6</text><text x="934.2" y="454.5">7</text><text x="973.8" y="454.5">8</text><text x="697.1" y="22">1</text><text x="737.1" y="22">2</text><text x="777.1" y="22">3</text><text x="817.2" y="22">4</text><text x="857.2" y="22">5</text><text x="897.3" y="22">6</text><text x="937.4" y="22">7</text><text x="977.4" y="22">8</text><text x="637.6" y="425.6">0</text><text x="979.8" y="425.6">0</text><text x="637.6" y="381.5">1</text><text x="979.8" y="381.5">1</text><text x="637.6" y="337.4">2</text><text x="979.8" y="337.4">2</text><text x="637.6" y="293.3">3</text><text x="979.8" y="293.3">3</text><text x="637.6" y="249.2">4</text><text x="979.8" y="249.2">4</text><text x="637.6" y="205.2">5</text><text x="979.8" y="205.2">5</text><text x="637.6" y="161.1">6</text><text x="979.8" y="161.1">6</text><text x="637.6" y="117.0">7</text><text x="979.8" y="117.0">7</text><text x="637.6" y="72.9">8</text><text x="979.8" y="72.9">8</text><text x="637.6" y="51">y</text><text x="981" y="24">x</text><text x="957" y="454.5">x</text></g>
<rect x="630" y="14.4" width="188" height="25" fill="#fff"/>
<text transform="translate(632.3,32.2) scale(1.105,1)" font-family="'Liberation Mono','Courier New',monospace" font-size="17.5" font-weight="bold" fill="#1a1a1a">CIE1931 EVERFINE</text>

</svg>
</body></html>
